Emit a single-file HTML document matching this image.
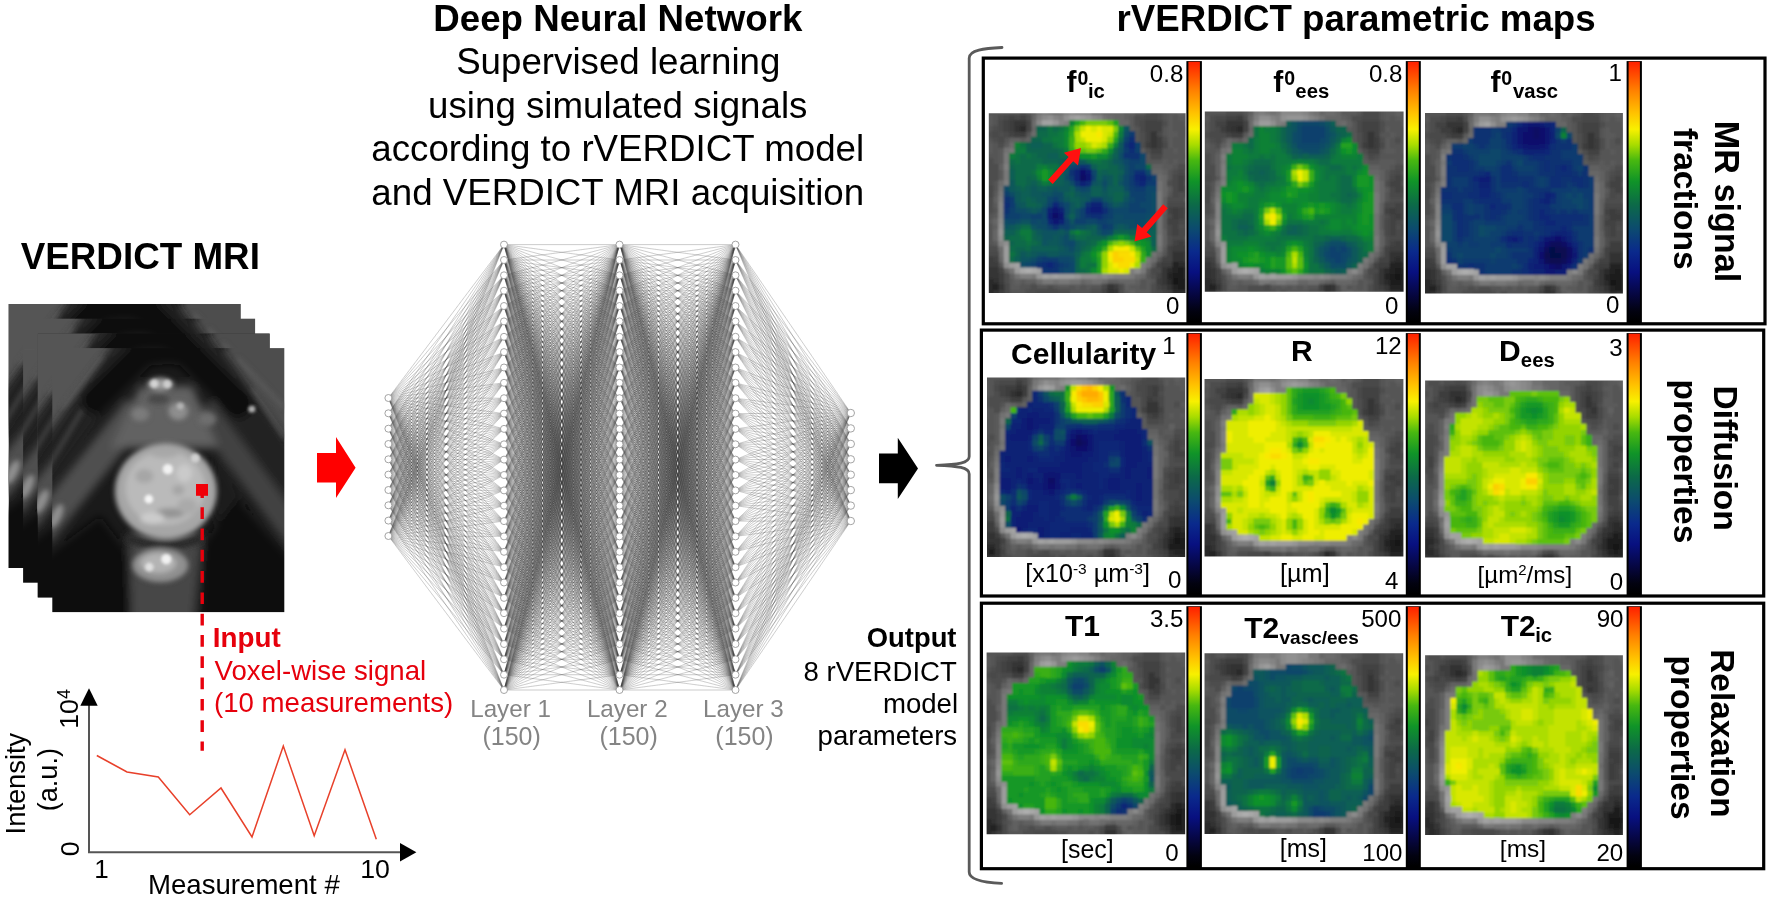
<!DOCTYPE html><html><head><meta charset="utf-8"><title>rVERDICT</title>
<style>html,body{margin:0;padding:0;background:#fff}svg{display:block}text{font-family:"Liberation Sans",sans-serif}</style></head><body>
<svg width="1770" height="900" viewBox="0 0 1770 900">
<defs>
<filter id="nb" x="-2%" y="-2%" width="104%" height="104%"><feGaussianBlur stdDeviation="0.55"/></filter>
<linearGradient id="cb" x1="0" y1="1" x2="0" y2="0"><stop offset="0" stop-color="#000"/><stop offset="0.04" stop-color="#020210"/><stop offset="0.10" stop-color="#06063e"/><stop offset="0.19" stop-color="#081080"/><stop offset="0.27" stop-color="#0a2a8c"/><stop offset="0.355" stop-color="#0c4a70"/><stop offset="0.45" stop-color="#0c6a48"/><stop offset="0.54" stop-color="#109428"/><stop offset="0.62" stop-color="#48b810"/><stop offset="0.68" stop-color="#a8dc00"/><stop offset="0.74" stop-color="#f8f000"/><stop offset="0.80" stop-color="#ffc400"/><stop offset="0.89" stop-color="#ff8000"/><stop offset="1" stop-color="#ff2000"/></linearGradient>
<filter id="mb" x="-5%" y="-5%" width="110%" height="110%"><feGaussianBlur stdDeviation="0.9"/></filter>
<clipPath id="mc0"><rect x="988.8" y="113.2" width="196.8" height="179.7"/></clipPath>
<clipPath id="mc1"><rect x="1204.8" y="111.6" width="198.8" height="180.2"/></clipPath>
<clipPath id="mc2"><rect x="1425" y="113" width="197.9" height="180.6"/></clipPath>
<clipPath id="mc3"><rect x="987" y="377.6" width="198.2" height="179.5"/></clipPath>
<clipPath id="mc4"><rect x="1204.5" y="379" width="198.9" height="177.6"/></clipPath>
<clipPath id="mc5"><rect x="1425.1" y="380.4" width="197.8" height="177.2"/></clipPath>
<clipPath id="mc6"><rect x="986.6" y="652.6" width="198.6" height="181.6"/></clipPath>
<clipPath id="mc7"><rect x="1204.5" y="653.3" width="198.7" height="180.7"/></clipPath>
<clipPath id="mc8"><rect x="1425.1" y="655.2" width="197.8" height="179.8"/></clipPath>
<filter id="b6" x="-20%" y="-20%" width="140%" height="140%"><feGaussianBlur stdDeviation="7"/></filter>
<filter id="b4" x="-20%" y="-20%" width="140%" height="140%"><feGaussianBlur stdDeviation="4.5"/></filter>
<filter id="b2" x="-30%" y="-30%" width="160%" height="160%"><feGaussianBlur stdDeviation="2.4"/></filter>
<filter id="b1" x="-30%" y="-30%" width="160%" height="160%"><feGaussianBlur stdDeviation="1.5"/></filter>
<clipPath id="mrc"><rect width="232" height="264"/></clipPath>
<g id="mri" clip-path="url(#mrc)"><rect width="232" height="264" fill="#1a1a1a"/>
<g filter="url(#b6)">
<polygon points="-30,-30 90,-30 -30,150" fill="#545454"/>
<polygon points="140,-30 270,-30 270,150" fill="#4e4e4e"/>
</g>
<g filter="url(#b4)">
<polygon points="55,-15 180,-15 160,20 116,16 72,20" fill="#0c0c0c"/>
<path d="M80 -2L-18 132" stroke="#242424" stroke-width="32" fill="none"/>
<path d="M146 -2L252 146" stroke="#222222" stroke-width="32" fill="none"/>
<path d="M92 4L44 52" stroke="#0a0a0a" stroke-width="28" stroke-linecap="round" fill="none"/>
<path d="M134 4L186 56" stroke="#0a0a0a" stroke-width="28" stroke-linecap="round" fill="none"/>
<path d="M86 60L-14 186" stroke="#505050" stroke-width="30" fill="none"/>
<path d="M150 60L250 196" stroke="#424242" stroke-width="26" fill="none"/><polygon points="165,100 190,150 170,195 158,150" fill="#1c1c1c"/>
<polygon points="-20,218 48,168 76,205 86,290 -20,290" fill="#0f0f0f"/>
<polygon points="260,235 185,150 152,195 146,290 260,290" fill="#0e0e0e"/>
<polygon points="88,38 140,38 166,100 58,100" fill="#626262"/>
<polygon points="76,185 150,185 140,290 80,290" fill="#474747"/>
</g>
<g filter="url(#b2)">
<ellipse cx="113.5" cy="143" rx="51" ry="48" fill="#a6a6a6"/>
<path d="M74 190Q113 204 150 190" stroke="#2a2a2a" stroke-width="9" fill="none"/>
<ellipse cx="108" cy="217" rx="28" ry="17" fill="#909090"/>
<ellipse cx="113" cy="140" rx="40" ry="37" fill="#bababa"/>
<ellipse cx="118" cy="165" rx="15" ry="5" fill="#949494"/>
<ellipse cx="92" cy="128" rx="9" ry="7" fill="#a6a6a6"/>
<ellipse cx="135" cy="158" rx="10" ry="8" fill="#aaaaaa"/>
<ellipse cx="100" cy="170" rx="12" ry="6" fill="#cccccc"/>
<ellipse cx="132" cy="125" rx="8" ry="9" fill="#cacaca"/>
<ellipse cx="112" cy="105" rx="14" ry="5" fill="#a8a8a8"/>
<ellipse cx="126" cy="142" rx="6" ry="5" fill="#a4a4a4"/>
<ellipse cx="108" cy="36" rx="13" ry="6.5" fill="#a0a0a0"/>
<ellipse cx="126" cy="63" rx="10" ry="9" fill="#8e8e8e"/>
<ellipse cx="88" cy="66" rx="9" ry="7" fill="#7c7c7c"/>
<ellipse cx="155" cy="71" rx="9" ry="7" fill="#6e6e6e"/>
<ellipse cx="106" cy="51" rx="11" ry="5" fill="#484848"/>
<ellipse cx="4" cy="168" rx="5" ry="13" fill="#909090" transform="rotate(25 4 168)"/>
<ellipse cx="106" cy="215" rx="18" ry="10" fill="#b4b4b4"/>
<path d="M10 60L50 8M-5 120L30 62M200 40L232 90M185 10L232 60" stroke="#6a6a6a" stroke-width="4" stroke-opacity=".5" fill="none"/>
</g>
<g filter="url(#b1)">
<circle cx="115.5" cy="121" r="5.2" fill="#f2f2f2"/>
<circle cx="96.5" cy="151" r="4.4" fill="#f6f6f6"/>
<circle cx="114" cy="211" r="5.2" fill="#f2f2f2"/>
<circle cx="97" cy="219" r="4.4" fill="#e0e0e0"/>
<circle cx="102" cy="35.5" r="4.2" fill="#d4d4d4"/>
<circle cx="115" cy="36" r="4.2" fill="#cecece"/>
<circle cx="199.5" cy="61" r="3.6" fill="#b0b0b0"/>
<circle cx="128" cy="58" r="3.6" fill="#b4b4b4"/>
<circle cx="143" cy="110" r="4.5" fill="#d2d2d2"/>
</g>
</g>
</defs>
<rect width="1770" height="900" fill="#fff"/>
<use href="#mri" x="8.6" y="304.0"/>
<use href="#mri" x="23.1" y="318.7"/>
<use href="#mri" x="37.7" y="333.4"/>
<use href="#mri" x="52.3" y="348.1"/>
<rect x="196" y="484" width="12" height="11.8" fill="#f00008"/>
<path d="M202.2 495V498" stroke="#e8000c" stroke-width="3.4"/>
<path d="M202.2 507.2V750.7" stroke="#e8000c" stroke-width="3.4" stroke-dasharray="11.7 9.6" fill="none"/>
<path d="M89 700V852.3H402" fill="none" stroke="#555" stroke-width="2"/>
<path d="M89 688.3l8.7 17.4h-17.4z" fill="#000"/>
<path d="M416.4 852.3l-16.4 9.2v-18.4z" fill="#000"/>
<polyline fill="none" stroke="#e8402a" stroke-width="1.5" stroke-linejoin="miter" points="96.8,755.5 127,772 158.3,777 189.7,814.7 221,788 252,837 283.3,746 314.2,835.8 345,749.7 376.3,839.3"/>
<g fill="none" stroke="#3c3c3c" stroke-width="0.5" stroke-opacity="0.5" filter="url(#nb)">
<path d="M388.4 398.0L504.0 244.6M388.4 398.0L504.0 260.0M388.4 398.0L504.0 275.3M388.4 398.0L504.0 290.7M388.4 398.0L504.0 306.0M388.4 398.0L504.0 321.4M388.4 398.0L504.0 336.8M388.4 398.0L504.0 352.1M388.4 398.0L504.0 367.5M388.4 398.0L504.0 382.8M388.4 398.0L504.0 398.2M388.4 398.0L504.0 413.6M388.4 398.0L504.0 428.9M388.4 398.0L504.0 444.3M388.4 398.0L504.0 459.6M388.4 398.0L504.0 475.0M388.4 398.0L504.0 490.4M388.4 398.0L504.0 505.7M388.4 398.0L504.0 521.1M388.4 398.0L504.0 536.4M388.4 398.0L504.0 551.8M388.4 398.0L504.0 567.2M388.4 398.0L504.0 582.5M388.4 398.0L504.0 597.9M388.4 398.0L504.0 613.2M388.4 398.0L504.0 628.6M388.4 398.0L504.0 644.0M388.4 398.0L504.0 659.3M388.4 398.0L504.0 674.7M388.4 398.0L504.0 690.0"/>
<path d="M388.4 413.3L504.0 244.6M388.4 413.3L504.0 260.0M388.4 413.3L504.0 275.3M388.4 413.3L504.0 290.7M388.4 413.3L504.0 306.0M388.4 413.3L504.0 321.4M388.4 413.3L504.0 336.8M388.4 413.3L504.0 352.1M388.4 413.3L504.0 367.5M388.4 413.3L504.0 382.8M388.4 413.3L504.0 398.2M388.4 413.3L504.0 413.6M388.4 413.3L504.0 428.9M388.4 413.3L504.0 444.3M388.4 413.3L504.0 459.6M388.4 413.3L504.0 475.0M388.4 413.3L504.0 490.4M388.4 413.3L504.0 505.7M388.4 413.3L504.0 521.1M388.4 413.3L504.0 536.4M388.4 413.3L504.0 551.8M388.4 413.3L504.0 567.2M388.4 413.3L504.0 582.5M388.4 413.3L504.0 597.9M388.4 413.3L504.0 613.2M388.4 413.3L504.0 628.6M388.4 413.3L504.0 644.0M388.4 413.3L504.0 659.3M388.4 413.3L504.0 674.7M388.4 413.3L504.0 690.0"/>
<path d="M388.4 428.7L504.0 244.6M388.4 428.7L504.0 260.0M388.4 428.7L504.0 275.3M388.4 428.7L504.0 290.7M388.4 428.7L504.0 306.0M388.4 428.7L504.0 321.4M388.4 428.7L504.0 336.8M388.4 428.7L504.0 352.1M388.4 428.7L504.0 367.5M388.4 428.7L504.0 382.8M388.4 428.7L504.0 398.2M388.4 428.7L504.0 413.6M388.4 428.7L504.0 428.9M388.4 428.7L504.0 444.3M388.4 428.7L504.0 459.6M388.4 428.7L504.0 475.0M388.4 428.7L504.0 490.4M388.4 428.7L504.0 505.7M388.4 428.7L504.0 521.1M388.4 428.7L504.0 536.4M388.4 428.7L504.0 551.8M388.4 428.7L504.0 567.2M388.4 428.7L504.0 582.5M388.4 428.7L504.0 597.9M388.4 428.7L504.0 613.2M388.4 428.7L504.0 628.6M388.4 428.7L504.0 644.0M388.4 428.7L504.0 659.3M388.4 428.7L504.0 674.7M388.4 428.7L504.0 690.0"/>
<path d="M388.4 444.0L504.0 244.6M388.4 444.0L504.0 260.0M388.4 444.0L504.0 275.3M388.4 444.0L504.0 290.7M388.4 444.0L504.0 306.0M388.4 444.0L504.0 321.4M388.4 444.0L504.0 336.8M388.4 444.0L504.0 352.1M388.4 444.0L504.0 367.5M388.4 444.0L504.0 382.8M388.4 444.0L504.0 398.2M388.4 444.0L504.0 413.6M388.4 444.0L504.0 428.9M388.4 444.0L504.0 444.3M388.4 444.0L504.0 459.6M388.4 444.0L504.0 475.0M388.4 444.0L504.0 490.4M388.4 444.0L504.0 505.7M388.4 444.0L504.0 521.1M388.4 444.0L504.0 536.4M388.4 444.0L504.0 551.8M388.4 444.0L504.0 567.2M388.4 444.0L504.0 582.5M388.4 444.0L504.0 597.9M388.4 444.0L504.0 613.2M388.4 444.0L504.0 628.6M388.4 444.0L504.0 644.0M388.4 444.0L504.0 659.3M388.4 444.0L504.0 674.7M388.4 444.0L504.0 690.0"/>
<path d="M388.4 459.3L504.0 244.6M388.4 459.3L504.0 260.0M388.4 459.3L504.0 275.3M388.4 459.3L504.0 290.7M388.4 459.3L504.0 306.0M388.4 459.3L504.0 321.4M388.4 459.3L504.0 336.8M388.4 459.3L504.0 352.1M388.4 459.3L504.0 367.5M388.4 459.3L504.0 382.8M388.4 459.3L504.0 398.2M388.4 459.3L504.0 413.6M388.4 459.3L504.0 428.9M388.4 459.3L504.0 444.3M388.4 459.3L504.0 459.6M388.4 459.3L504.0 475.0M388.4 459.3L504.0 490.4M388.4 459.3L504.0 505.7M388.4 459.3L504.0 521.1M388.4 459.3L504.0 536.4M388.4 459.3L504.0 551.8M388.4 459.3L504.0 567.2M388.4 459.3L504.0 582.5M388.4 459.3L504.0 597.9M388.4 459.3L504.0 613.2M388.4 459.3L504.0 628.6M388.4 459.3L504.0 644.0M388.4 459.3L504.0 659.3M388.4 459.3L504.0 674.7M388.4 459.3L504.0 690.0"/>
<path d="M388.4 474.6L504.0 244.6M388.4 474.6L504.0 260.0M388.4 474.6L504.0 275.3M388.4 474.6L504.0 290.7M388.4 474.6L504.0 306.0M388.4 474.6L504.0 321.4M388.4 474.6L504.0 336.8M388.4 474.6L504.0 352.1M388.4 474.6L504.0 367.5M388.4 474.6L504.0 382.8M388.4 474.6L504.0 398.2M388.4 474.6L504.0 413.6M388.4 474.6L504.0 428.9M388.4 474.6L504.0 444.3M388.4 474.6L504.0 459.6M388.4 474.6L504.0 475.0M388.4 474.6L504.0 490.4M388.4 474.6L504.0 505.7M388.4 474.6L504.0 521.1M388.4 474.6L504.0 536.4M388.4 474.6L504.0 551.8M388.4 474.6L504.0 567.2M388.4 474.6L504.0 582.5M388.4 474.6L504.0 597.9M388.4 474.6L504.0 613.2M388.4 474.6L504.0 628.6M388.4 474.6L504.0 644.0M388.4 474.6L504.0 659.3M388.4 474.6L504.0 674.7M388.4 474.6L504.0 690.0"/>
<path d="M388.4 490.0L504.0 244.6M388.4 490.0L504.0 260.0M388.4 490.0L504.0 275.3M388.4 490.0L504.0 290.7M388.4 490.0L504.0 306.0M388.4 490.0L504.0 321.4M388.4 490.0L504.0 336.8M388.4 490.0L504.0 352.1M388.4 490.0L504.0 367.5M388.4 490.0L504.0 382.8M388.4 490.0L504.0 398.2M388.4 490.0L504.0 413.6M388.4 490.0L504.0 428.9M388.4 490.0L504.0 444.3M388.4 490.0L504.0 459.6M388.4 490.0L504.0 475.0M388.4 490.0L504.0 490.4M388.4 490.0L504.0 505.7M388.4 490.0L504.0 521.1M388.4 490.0L504.0 536.4M388.4 490.0L504.0 551.8M388.4 490.0L504.0 567.2M388.4 490.0L504.0 582.5M388.4 490.0L504.0 597.9M388.4 490.0L504.0 613.2M388.4 490.0L504.0 628.6M388.4 490.0L504.0 644.0M388.4 490.0L504.0 659.3M388.4 490.0L504.0 674.7M388.4 490.0L504.0 690.0"/>
<path d="M388.4 505.3L504.0 244.6M388.4 505.3L504.0 260.0M388.4 505.3L504.0 275.3M388.4 505.3L504.0 290.7M388.4 505.3L504.0 306.0M388.4 505.3L504.0 321.4M388.4 505.3L504.0 336.8M388.4 505.3L504.0 352.1M388.4 505.3L504.0 367.5M388.4 505.3L504.0 382.8M388.4 505.3L504.0 398.2M388.4 505.3L504.0 413.6M388.4 505.3L504.0 428.9M388.4 505.3L504.0 444.3M388.4 505.3L504.0 459.6M388.4 505.3L504.0 475.0M388.4 505.3L504.0 490.4M388.4 505.3L504.0 505.7M388.4 505.3L504.0 521.1M388.4 505.3L504.0 536.4M388.4 505.3L504.0 551.8M388.4 505.3L504.0 567.2M388.4 505.3L504.0 582.5M388.4 505.3L504.0 597.9M388.4 505.3L504.0 613.2M388.4 505.3L504.0 628.6M388.4 505.3L504.0 644.0M388.4 505.3L504.0 659.3M388.4 505.3L504.0 674.7M388.4 505.3L504.0 690.0"/>
<path d="M388.4 520.6L504.0 244.6M388.4 520.6L504.0 260.0M388.4 520.6L504.0 275.3M388.4 520.6L504.0 290.7M388.4 520.6L504.0 306.0M388.4 520.6L504.0 321.4M388.4 520.6L504.0 336.8M388.4 520.6L504.0 352.1M388.4 520.6L504.0 367.5M388.4 520.6L504.0 382.8M388.4 520.6L504.0 398.2M388.4 520.6L504.0 413.6M388.4 520.6L504.0 428.9M388.4 520.6L504.0 444.3M388.4 520.6L504.0 459.6M388.4 520.6L504.0 475.0M388.4 520.6L504.0 490.4M388.4 520.6L504.0 505.7M388.4 520.6L504.0 521.1M388.4 520.6L504.0 536.4M388.4 520.6L504.0 551.8M388.4 520.6L504.0 567.2M388.4 520.6L504.0 582.5M388.4 520.6L504.0 597.9M388.4 520.6L504.0 613.2M388.4 520.6L504.0 628.6M388.4 520.6L504.0 644.0M388.4 520.6L504.0 659.3M388.4 520.6L504.0 674.7M388.4 520.6L504.0 690.0"/>
<path d="M388.4 536.0L504.0 244.6M388.4 536.0L504.0 260.0M388.4 536.0L504.0 275.3M388.4 536.0L504.0 290.7M388.4 536.0L504.0 306.0M388.4 536.0L504.0 321.4M388.4 536.0L504.0 336.8M388.4 536.0L504.0 352.1M388.4 536.0L504.0 367.5M388.4 536.0L504.0 382.8M388.4 536.0L504.0 398.2M388.4 536.0L504.0 413.6M388.4 536.0L504.0 428.9M388.4 536.0L504.0 444.3M388.4 536.0L504.0 459.6M388.4 536.0L504.0 475.0M388.4 536.0L504.0 490.4M388.4 536.0L504.0 505.7M388.4 536.0L504.0 521.1M388.4 536.0L504.0 536.4M388.4 536.0L504.0 551.8M388.4 536.0L504.0 567.2M388.4 536.0L504.0 582.5M388.4 536.0L504.0 597.9M388.4 536.0L504.0 613.2M388.4 536.0L504.0 628.6M388.4 536.0L504.0 644.0M388.4 536.0L504.0 659.3M388.4 536.0L504.0 674.7M388.4 536.0L504.0 690.0"/>
<g id="hl">
<path d="M504.0 244.6L619.5 244.6M504.0 244.6L619.5 260.0M504.0 244.6L619.5 275.3M504.0 244.6L619.5 290.7M504.0 244.6L619.5 306.0M504.0 244.6L619.5 321.4M504.0 244.6L619.5 336.8M504.0 244.6L619.5 352.1M504.0 244.6L619.5 367.5M504.0 244.6L619.5 382.8M504.0 244.6L619.5 398.2M504.0 244.6L619.5 413.6M504.0 244.6L619.5 428.9M504.0 244.6L619.5 444.3M504.0 244.6L619.5 459.6M504.0 244.6L619.5 475.0M504.0 244.6L619.5 490.4M504.0 244.6L619.5 505.7M504.0 244.6L619.5 521.1M504.0 244.6L619.5 536.4M504.0 244.6L619.5 551.8M504.0 244.6L619.5 567.2M504.0 244.6L619.5 582.5M504.0 244.6L619.5 597.9M504.0 244.6L619.5 613.2M504.0 244.6L619.5 628.6M504.0 244.6L619.5 644.0M504.0 244.6L619.5 659.3M504.0 244.6L619.5 674.7M504.0 244.6L619.5 690.0"/>
<path d="M504.0 260.0L619.5 244.6M504.0 260.0L619.5 260.0M504.0 260.0L619.5 275.3M504.0 260.0L619.5 290.7M504.0 260.0L619.5 306.0M504.0 260.0L619.5 321.4M504.0 260.0L619.5 336.8M504.0 260.0L619.5 352.1M504.0 260.0L619.5 367.5M504.0 260.0L619.5 382.8M504.0 260.0L619.5 398.2M504.0 260.0L619.5 413.6M504.0 260.0L619.5 428.9M504.0 260.0L619.5 444.3M504.0 260.0L619.5 459.6M504.0 260.0L619.5 475.0M504.0 260.0L619.5 490.4M504.0 260.0L619.5 505.7M504.0 260.0L619.5 521.1M504.0 260.0L619.5 536.4M504.0 260.0L619.5 551.8M504.0 260.0L619.5 567.2M504.0 260.0L619.5 582.5M504.0 260.0L619.5 597.9M504.0 260.0L619.5 613.2M504.0 260.0L619.5 628.6M504.0 260.0L619.5 644.0M504.0 260.0L619.5 659.3M504.0 260.0L619.5 674.7M504.0 260.0L619.5 690.0"/>
<path d="M504.0 275.3L619.5 244.6M504.0 275.3L619.5 260.0M504.0 275.3L619.5 275.3M504.0 275.3L619.5 290.7M504.0 275.3L619.5 306.0M504.0 275.3L619.5 321.4M504.0 275.3L619.5 336.8M504.0 275.3L619.5 352.1M504.0 275.3L619.5 367.5M504.0 275.3L619.5 382.8M504.0 275.3L619.5 398.2M504.0 275.3L619.5 413.6M504.0 275.3L619.5 428.9M504.0 275.3L619.5 444.3M504.0 275.3L619.5 459.6M504.0 275.3L619.5 475.0M504.0 275.3L619.5 490.4M504.0 275.3L619.5 505.7M504.0 275.3L619.5 521.1M504.0 275.3L619.5 536.4M504.0 275.3L619.5 551.8M504.0 275.3L619.5 567.2M504.0 275.3L619.5 582.5M504.0 275.3L619.5 597.9M504.0 275.3L619.5 613.2M504.0 275.3L619.5 628.6M504.0 275.3L619.5 644.0M504.0 275.3L619.5 659.3M504.0 275.3L619.5 674.7M504.0 275.3L619.5 690.0"/>
<path d="M504.0 290.7L619.5 244.6M504.0 290.7L619.5 260.0M504.0 290.7L619.5 275.3M504.0 290.7L619.5 290.7M504.0 290.7L619.5 306.0M504.0 290.7L619.5 321.4M504.0 290.7L619.5 336.8M504.0 290.7L619.5 352.1M504.0 290.7L619.5 367.5M504.0 290.7L619.5 382.8M504.0 290.7L619.5 398.2M504.0 290.7L619.5 413.6M504.0 290.7L619.5 428.9M504.0 290.7L619.5 444.3M504.0 290.7L619.5 459.6M504.0 290.7L619.5 475.0M504.0 290.7L619.5 490.4M504.0 290.7L619.5 505.7M504.0 290.7L619.5 521.1M504.0 290.7L619.5 536.4M504.0 290.7L619.5 551.8M504.0 290.7L619.5 567.2M504.0 290.7L619.5 582.5M504.0 290.7L619.5 597.9M504.0 290.7L619.5 613.2M504.0 290.7L619.5 628.6M504.0 290.7L619.5 644.0M504.0 290.7L619.5 659.3M504.0 290.7L619.5 674.7M504.0 290.7L619.5 690.0"/>
<path d="M504.0 306.0L619.5 244.6M504.0 306.0L619.5 260.0M504.0 306.0L619.5 275.3M504.0 306.0L619.5 290.7M504.0 306.0L619.5 306.0M504.0 306.0L619.5 321.4M504.0 306.0L619.5 336.8M504.0 306.0L619.5 352.1M504.0 306.0L619.5 367.5M504.0 306.0L619.5 382.8M504.0 306.0L619.5 398.2M504.0 306.0L619.5 413.6M504.0 306.0L619.5 428.9M504.0 306.0L619.5 444.3M504.0 306.0L619.5 459.6M504.0 306.0L619.5 475.0M504.0 306.0L619.5 490.4M504.0 306.0L619.5 505.7M504.0 306.0L619.5 521.1M504.0 306.0L619.5 536.4M504.0 306.0L619.5 551.8M504.0 306.0L619.5 567.2M504.0 306.0L619.5 582.5M504.0 306.0L619.5 597.9M504.0 306.0L619.5 613.2M504.0 306.0L619.5 628.6M504.0 306.0L619.5 644.0M504.0 306.0L619.5 659.3M504.0 306.0L619.5 674.7M504.0 306.0L619.5 690.0"/>
<path d="M504.0 321.4L619.5 244.6M504.0 321.4L619.5 260.0M504.0 321.4L619.5 275.3M504.0 321.4L619.5 290.7M504.0 321.4L619.5 306.0M504.0 321.4L619.5 321.4M504.0 321.4L619.5 336.8M504.0 321.4L619.5 352.1M504.0 321.4L619.5 367.5M504.0 321.4L619.5 382.8M504.0 321.4L619.5 398.2M504.0 321.4L619.5 413.6M504.0 321.4L619.5 428.9M504.0 321.4L619.5 444.3M504.0 321.4L619.5 459.6M504.0 321.4L619.5 475.0M504.0 321.4L619.5 490.4M504.0 321.4L619.5 505.7M504.0 321.4L619.5 521.1M504.0 321.4L619.5 536.4M504.0 321.4L619.5 551.8M504.0 321.4L619.5 567.2M504.0 321.4L619.5 582.5M504.0 321.4L619.5 597.9M504.0 321.4L619.5 613.2M504.0 321.4L619.5 628.6M504.0 321.4L619.5 644.0M504.0 321.4L619.5 659.3M504.0 321.4L619.5 674.7M504.0 321.4L619.5 690.0"/>
<path d="M504.0 336.8L619.5 244.6M504.0 336.8L619.5 260.0M504.0 336.8L619.5 275.3M504.0 336.8L619.5 290.7M504.0 336.8L619.5 306.0M504.0 336.8L619.5 321.4M504.0 336.8L619.5 336.8M504.0 336.8L619.5 352.1M504.0 336.8L619.5 367.5M504.0 336.8L619.5 382.8M504.0 336.8L619.5 398.2M504.0 336.8L619.5 413.6M504.0 336.8L619.5 428.9M504.0 336.8L619.5 444.3M504.0 336.8L619.5 459.6M504.0 336.8L619.5 475.0M504.0 336.8L619.5 490.4M504.0 336.8L619.5 505.7M504.0 336.8L619.5 521.1M504.0 336.8L619.5 536.4M504.0 336.8L619.5 551.8M504.0 336.8L619.5 567.2M504.0 336.8L619.5 582.5M504.0 336.8L619.5 597.9M504.0 336.8L619.5 613.2M504.0 336.8L619.5 628.6M504.0 336.8L619.5 644.0M504.0 336.8L619.5 659.3M504.0 336.8L619.5 674.7M504.0 336.8L619.5 690.0"/>
<path d="M504.0 352.1L619.5 244.6M504.0 352.1L619.5 260.0M504.0 352.1L619.5 275.3M504.0 352.1L619.5 290.7M504.0 352.1L619.5 306.0M504.0 352.1L619.5 321.4M504.0 352.1L619.5 336.8M504.0 352.1L619.5 352.1M504.0 352.1L619.5 367.5M504.0 352.1L619.5 382.8M504.0 352.1L619.5 398.2M504.0 352.1L619.5 413.6M504.0 352.1L619.5 428.9M504.0 352.1L619.5 444.3M504.0 352.1L619.5 459.6M504.0 352.1L619.5 475.0M504.0 352.1L619.5 490.4M504.0 352.1L619.5 505.7M504.0 352.1L619.5 521.1M504.0 352.1L619.5 536.4M504.0 352.1L619.5 551.8M504.0 352.1L619.5 567.2M504.0 352.1L619.5 582.5M504.0 352.1L619.5 597.9M504.0 352.1L619.5 613.2M504.0 352.1L619.5 628.6M504.0 352.1L619.5 644.0M504.0 352.1L619.5 659.3M504.0 352.1L619.5 674.7M504.0 352.1L619.5 690.0"/>
<path d="M504.0 367.5L619.5 244.6M504.0 367.5L619.5 260.0M504.0 367.5L619.5 275.3M504.0 367.5L619.5 290.7M504.0 367.5L619.5 306.0M504.0 367.5L619.5 321.4M504.0 367.5L619.5 336.8M504.0 367.5L619.5 352.1M504.0 367.5L619.5 367.5M504.0 367.5L619.5 382.8M504.0 367.5L619.5 398.2M504.0 367.5L619.5 413.6M504.0 367.5L619.5 428.9M504.0 367.5L619.5 444.3M504.0 367.5L619.5 459.6M504.0 367.5L619.5 475.0M504.0 367.5L619.5 490.4M504.0 367.5L619.5 505.7M504.0 367.5L619.5 521.1M504.0 367.5L619.5 536.4M504.0 367.5L619.5 551.8M504.0 367.5L619.5 567.2M504.0 367.5L619.5 582.5M504.0 367.5L619.5 597.9M504.0 367.5L619.5 613.2M504.0 367.5L619.5 628.6M504.0 367.5L619.5 644.0M504.0 367.5L619.5 659.3M504.0 367.5L619.5 674.7M504.0 367.5L619.5 690.0"/>
<path d="M504.0 382.8L619.5 244.6M504.0 382.8L619.5 260.0M504.0 382.8L619.5 275.3M504.0 382.8L619.5 290.7M504.0 382.8L619.5 306.0M504.0 382.8L619.5 321.4M504.0 382.8L619.5 336.8M504.0 382.8L619.5 352.1M504.0 382.8L619.5 367.5M504.0 382.8L619.5 382.8M504.0 382.8L619.5 398.2M504.0 382.8L619.5 413.6M504.0 382.8L619.5 428.9M504.0 382.8L619.5 444.3M504.0 382.8L619.5 459.6M504.0 382.8L619.5 475.0M504.0 382.8L619.5 490.4M504.0 382.8L619.5 505.7M504.0 382.8L619.5 521.1M504.0 382.8L619.5 536.4M504.0 382.8L619.5 551.8M504.0 382.8L619.5 567.2M504.0 382.8L619.5 582.5M504.0 382.8L619.5 597.9M504.0 382.8L619.5 613.2M504.0 382.8L619.5 628.6M504.0 382.8L619.5 644.0M504.0 382.8L619.5 659.3M504.0 382.8L619.5 674.7M504.0 382.8L619.5 690.0"/>
<path d="M504.0 398.2L619.5 244.6M504.0 398.2L619.5 260.0M504.0 398.2L619.5 275.3M504.0 398.2L619.5 290.7M504.0 398.2L619.5 306.0M504.0 398.2L619.5 321.4M504.0 398.2L619.5 336.8M504.0 398.2L619.5 352.1M504.0 398.2L619.5 367.5M504.0 398.2L619.5 382.8M504.0 398.2L619.5 398.2M504.0 398.2L619.5 413.6M504.0 398.2L619.5 428.9M504.0 398.2L619.5 444.3M504.0 398.2L619.5 459.6M504.0 398.2L619.5 475.0M504.0 398.2L619.5 490.4M504.0 398.2L619.5 505.7M504.0 398.2L619.5 521.1M504.0 398.2L619.5 536.4M504.0 398.2L619.5 551.8M504.0 398.2L619.5 567.2M504.0 398.2L619.5 582.5M504.0 398.2L619.5 597.9M504.0 398.2L619.5 613.2M504.0 398.2L619.5 628.6M504.0 398.2L619.5 644.0M504.0 398.2L619.5 659.3M504.0 398.2L619.5 674.7M504.0 398.2L619.5 690.0"/>
<path d="M504.0 413.6L619.5 244.6M504.0 413.6L619.5 260.0M504.0 413.6L619.5 275.3M504.0 413.6L619.5 290.7M504.0 413.6L619.5 306.0M504.0 413.6L619.5 321.4M504.0 413.6L619.5 336.8M504.0 413.6L619.5 352.1M504.0 413.6L619.5 367.5M504.0 413.6L619.5 382.8M504.0 413.6L619.5 398.2M504.0 413.6L619.5 413.6M504.0 413.6L619.5 428.9M504.0 413.6L619.5 444.3M504.0 413.6L619.5 459.6M504.0 413.6L619.5 475.0M504.0 413.6L619.5 490.4M504.0 413.6L619.5 505.7M504.0 413.6L619.5 521.1M504.0 413.6L619.5 536.4M504.0 413.6L619.5 551.8M504.0 413.6L619.5 567.2M504.0 413.6L619.5 582.5M504.0 413.6L619.5 597.9M504.0 413.6L619.5 613.2M504.0 413.6L619.5 628.6M504.0 413.6L619.5 644.0M504.0 413.6L619.5 659.3M504.0 413.6L619.5 674.7M504.0 413.6L619.5 690.0"/>
<path d="M504.0 428.9L619.5 244.6M504.0 428.9L619.5 260.0M504.0 428.9L619.5 275.3M504.0 428.9L619.5 290.7M504.0 428.9L619.5 306.0M504.0 428.9L619.5 321.4M504.0 428.9L619.5 336.8M504.0 428.9L619.5 352.1M504.0 428.9L619.5 367.5M504.0 428.9L619.5 382.8M504.0 428.9L619.5 398.2M504.0 428.9L619.5 413.6M504.0 428.9L619.5 428.9M504.0 428.9L619.5 444.3M504.0 428.9L619.5 459.6M504.0 428.9L619.5 475.0M504.0 428.9L619.5 490.4M504.0 428.9L619.5 505.7M504.0 428.9L619.5 521.1M504.0 428.9L619.5 536.4M504.0 428.9L619.5 551.8M504.0 428.9L619.5 567.2M504.0 428.9L619.5 582.5M504.0 428.9L619.5 597.9M504.0 428.9L619.5 613.2M504.0 428.9L619.5 628.6M504.0 428.9L619.5 644.0M504.0 428.9L619.5 659.3M504.0 428.9L619.5 674.7M504.0 428.9L619.5 690.0"/>
<path d="M504.0 444.3L619.5 244.6M504.0 444.3L619.5 260.0M504.0 444.3L619.5 275.3M504.0 444.3L619.5 290.7M504.0 444.3L619.5 306.0M504.0 444.3L619.5 321.4M504.0 444.3L619.5 336.8M504.0 444.3L619.5 352.1M504.0 444.3L619.5 367.5M504.0 444.3L619.5 382.8M504.0 444.3L619.5 398.2M504.0 444.3L619.5 413.6M504.0 444.3L619.5 428.9M504.0 444.3L619.5 444.3M504.0 444.3L619.5 459.6M504.0 444.3L619.5 475.0M504.0 444.3L619.5 490.4M504.0 444.3L619.5 505.7M504.0 444.3L619.5 521.1M504.0 444.3L619.5 536.4M504.0 444.3L619.5 551.8M504.0 444.3L619.5 567.2M504.0 444.3L619.5 582.5M504.0 444.3L619.5 597.9M504.0 444.3L619.5 613.2M504.0 444.3L619.5 628.6M504.0 444.3L619.5 644.0M504.0 444.3L619.5 659.3M504.0 444.3L619.5 674.7M504.0 444.3L619.5 690.0"/>
<path d="M504.0 459.6L619.5 244.6M504.0 459.6L619.5 260.0M504.0 459.6L619.5 275.3M504.0 459.6L619.5 290.7M504.0 459.6L619.5 306.0M504.0 459.6L619.5 321.4M504.0 459.6L619.5 336.8M504.0 459.6L619.5 352.1M504.0 459.6L619.5 367.5M504.0 459.6L619.5 382.8M504.0 459.6L619.5 398.2M504.0 459.6L619.5 413.6M504.0 459.6L619.5 428.9M504.0 459.6L619.5 444.3M504.0 459.6L619.5 459.6M504.0 459.6L619.5 475.0M504.0 459.6L619.5 490.4M504.0 459.6L619.5 505.7M504.0 459.6L619.5 521.1M504.0 459.6L619.5 536.4M504.0 459.6L619.5 551.8M504.0 459.6L619.5 567.2M504.0 459.6L619.5 582.5M504.0 459.6L619.5 597.9M504.0 459.6L619.5 613.2M504.0 459.6L619.5 628.6M504.0 459.6L619.5 644.0M504.0 459.6L619.5 659.3M504.0 459.6L619.5 674.7M504.0 459.6L619.5 690.0"/>
<path d="M504.0 475.0L619.5 244.6M504.0 475.0L619.5 260.0M504.0 475.0L619.5 275.3M504.0 475.0L619.5 290.7M504.0 475.0L619.5 306.0M504.0 475.0L619.5 321.4M504.0 475.0L619.5 336.8M504.0 475.0L619.5 352.1M504.0 475.0L619.5 367.5M504.0 475.0L619.5 382.8M504.0 475.0L619.5 398.2M504.0 475.0L619.5 413.6M504.0 475.0L619.5 428.9M504.0 475.0L619.5 444.3M504.0 475.0L619.5 459.6M504.0 475.0L619.5 475.0M504.0 475.0L619.5 490.4M504.0 475.0L619.5 505.7M504.0 475.0L619.5 521.1M504.0 475.0L619.5 536.4M504.0 475.0L619.5 551.8M504.0 475.0L619.5 567.2M504.0 475.0L619.5 582.5M504.0 475.0L619.5 597.9M504.0 475.0L619.5 613.2M504.0 475.0L619.5 628.6M504.0 475.0L619.5 644.0M504.0 475.0L619.5 659.3M504.0 475.0L619.5 674.7M504.0 475.0L619.5 690.0"/>
<path d="M504.0 490.4L619.5 244.6M504.0 490.4L619.5 260.0M504.0 490.4L619.5 275.3M504.0 490.4L619.5 290.7M504.0 490.4L619.5 306.0M504.0 490.4L619.5 321.4M504.0 490.4L619.5 336.8M504.0 490.4L619.5 352.1M504.0 490.4L619.5 367.5M504.0 490.4L619.5 382.8M504.0 490.4L619.5 398.2M504.0 490.4L619.5 413.6M504.0 490.4L619.5 428.9M504.0 490.4L619.5 444.3M504.0 490.4L619.5 459.6M504.0 490.4L619.5 475.0M504.0 490.4L619.5 490.4M504.0 490.4L619.5 505.7M504.0 490.4L619.5 521.1M504.0 490.4L619.5 536.4M504.0 490.4L619.5 551.8M504.0 490.4L619.5 567.2M504.0 490.4L619.5 582.5M504.0 490.4L619.5 597.9M504.0 490.4L619.5 613.2M504.0 490.4L619.5 628.6M504.0 490.4L619.5 644.0M504.0 490.4L619.5 659.3M504.0 490.4L619.5 674.7M504.0 490.4L619.5 690.0"/>
<path d="M504.0 505.7L619.5 244.6M504.0 505.7L619.5 260.0M504.0 505.7L619.5 275.3M504.0 505.7L619.5 290.7M504.0 505.7L619.5 306.0M504.0 505.7L619.5 321.4M504.0 505.7L619.5 336.8M504.0 505.7L619.5 352.1M504.0 505.7L619.5 367.5M504.0 505.7L619.5 382.8M504.0 505.7L619.5 398.2M504.0 505.7L619.5 413.6M504.0 505.7L619.5 428.9M504.0 505.7L619.5 444.3M504.0 505.7L619.5 459.6M504.0 505.7L619.5 475.0M504.0 505.7L619.5 490.4M504.0 505.7L619.5 505.7M504.0 505.7L619.5 521.1M504.0 505.7L619.5 536.4M504.0 505.7L619.5 551.8M504.0 505.7L619.5 567.2M504.0 505.7L619.5 582.5M504.0 505.7L619.5 597.9M504.0 505.7L619.5 613.2M504.0 505.7L619.5 628.6M504.0 505.7L619.5 644.0M504.0 505.7L619.5 659.3M504.0 505.7L619.5 674.7M504.0 505.7L619.5 690.0"/>
<path d="M504.0 521.1L619.5 244.6M504.0 521.1L619.5 260.0M504.0 521.1L619.5 275.3M504.0 521.1L619.5 290.7M504.0 521.1L619.5 306.0M504.0 521.1L619.5 321.4M504.0 521.1L619.5 336.8M504.0 521.1L619.5 352.1M504.0 521.1L619.5 367.5M504.0 521.1L619.5 382.8M504.0 521.1L619.5 398.2M504.0 521.1L619.5 413.6M504.0 521.1L619.5 428.9M504.0 521.1L619.5 444.3M504.0 521.1L619.5 459.6M504.0 521.1L619.5 475.0M504.0 521.1L619.5 490.4M504.0 521.1L619.5 505.7M504.0 521.1L619.5 521.1M504.0 521.1L619.5 536.4M504.0 521.1L619.5 551.8M504.0 521.1L619.5 567.2M504.0 521.1L619.5 582.5M504.0 521.1L619.5 597.9M504.0 521.1L619.5 613.2M504.0 521.1L619.5 628.6M504.0 521.1L619.5 644.0M504.0 521.1L619.5 659.3M504.0 521.1L619.5 674.7M504.0 521.1L619.5 690.0"/>
<path d="M504.0 536.4L619.5 244.6M504.0 536.4L619.5 260.0M504.0 536.4L619.5 275.3M504.0 536.4L619.5 290.7M504.0 536.4L619.5 306.0M504.0 536.4L619.5 321.4M504.0 536.4L619.5 336.8M504.0 536.4L619.5 352.1M504.0 536.4L619.5 367.5M504.0 536.4L619.5 382.8M504.0 536.4L619.5 398.2M504.0 536.4L619.5 413.6M504.0 536.4L619.5 428.9M504.0 536.4L619.5 444.3M504.0 536.4L619.5 459.6M504.0 536.4L619.5 475.0M504.0 536.4L619.5 490.4M504.0 536.4L619.5 505.7M504.0 536.4L619.5 521.1M504.0 536.4L619.5 536.4M504.0 536.4L619.5 551.8M504.0 536.4L619.5 567.2M504.0 536.4L619.5 582.5M504.0 536.4L619.5 597.9M504.0 536.4L619.5 613.2M504.0 536.4L619.5 628.6M504.0 536.4L619.5 644.0M504.0 536.4L619.5 659.3M504.0 536.4L619.5 674.7M504.0 536.4L619.5 690.0"/>
<path d="M504.0 551.8L619.5 244.6M504.0 551.8L619.5 260.0M504.0 551.8L619.5 275.3M504.0 551.8L619.5 290.7M504.0 551.8L619.5 306.0M504.0 551.8L619.5 321.4M504.0 551.8L619.5 336.8M504.0 551.8L619.5 352.1M504.0 551.8L619.5 367.5M504.0 551.8L619.5 382.8M504.0 551.8L619.5 398.2M504.0 551.8L619.5 413.6M504.0 551.8L619.5 428.9M504.0 551.8L619.5 444.3M504.0 551.8L619.5 459.6M504.0 551.8L619.5 475.0M504.0 551.8L619.5 490.4M504.0 551.8L619.5 505.7M504.0 551.8L619.5 521.1M504.0 551.8L619.5 536.4M504.0 551.8L619.5 551.8M504.0 551.8L619.5 567.2M504.0 551.8L619.5 582.5M504.0 551.8L619.5 597.9M504.0 551.8L619.5 613.2M504.0 551.8L619.5 628.6M504.0 551.8L619.5 644.0M504.0 551.8L619.5 659.3M504.0 551.8L619.5 674.7M504.0 551.8L619.5 690.0"/>
<path d="M504.0 567.2L619.5 244.6M504.0 567.2L619.5 260.0M504.0 567.2L619.5 275.3M504.0 567.2L619.5 290.7M504.0 567.2L619.5 306.0M504.0 567.2L619.5 321.4M504.0 567.2L619.5 336.8M504.0 567.2L619.5 352.1M504.0 567.2L619.5 367.5M504.0 567.2L619.5 382.8M504.0 567.2L619.5 398.2M504.0 567.2L619.5 413.6M504.0 567.2L619.5 428.9M504.0 567.2L619.5 444.3M504.0 567.2L619.5 459.6M504.0 567.2L619.5 475.0M504.0 567.2L619.5 490.4M504.0 567.2L619.5 505.7M504.0 567.2L619.5 521.1M504.0 567.2L619.5 536.4M504.0 567.2L619.5 551.8M504.0 567.2L619.5 567.2M504.0 567.2L619.5 582.5M504.0 567.2L619.5 597.9M504.0 567.2L619.5 613.2M504.0 567.2L619.5 628.6M504.0 567.2L619.5 644.0M504.0 567.2L619.5 659.3M504.0 567.2L619.5 674.7M504.0 567.2L619.5 690.0"/>
<path d="M504.0 582.5L619.5 244.6M504.0 582.5L619.5 260.0M504.0 582.5L619.5 275.3M504.0 582.5L619.5 290.7M504.0 582.5L619.5 306.0M504.0 582.5L619.5 321.4M504.0 582.5L619.5 336.8M504.0 582.5L619.5 352.1M504.0 582.5L619.5 367.5M504.0 582.5L619.5 382.8M504.0 582.5L619.5 398.2M504.0 582.5L619.5 413.6M504.0 582.5L619.5 428.9M504.0 582.5L619.5 444.3M504.0 582.5L619.5 459.6M504.0 582.5L619.5 475.0M504.0 582.5L619.5 490.4M504.0 582.5L619.5 505.7M504.0 582.5L619.5 521.1M504.0 582.5L619.5 536.4M504.0 582.5L619.5 551.8M504.0 582.5L619.5 567.2M504.0 582.5L619.5 582.5M504.0 582.5L619.5 597.9M504.0 582.5L619.5 613.2M504.0 582.5L619.5 628.6M504.0 582.5L619.5 644.0M504.0 582.5L619.5 659.3M504.0 582.5L619.5 674.7M504.0 582.5L619.5 690.0"/>
<path d="M504.0 597.9L619.5 244.6M504.0 597.9L619.5 260.0M504.0 597.9L619.5 275.3M504.0 597.9L619.5 290.7M504.0 597.9L619.5 306.0M504.0 597.9L619.5 321.4M504.0 597.9L619.5 336.8M504.0 597.9L619.5 352.1M504.0 597.9L619.5 367.5M504.0 597.9L619.5 382.8M504.0 597.9L619.5 398.2M504.0 597.9L619.5 413.6M504.0 597.9L619.5 428.9M504.0 597.9L619.5 444.3M504.0 597.9L619.5 459.6M504.0 597.9L619.5 475.0M504.0 597.9L619.5 490.4M504.0 597.9L619.5 505.7M504.0 597.9L619.5 521.1M504.0 597.9L619.5 536.4M504.0 597.9L619.5 551.8M504.0 597.9L619.5 567.2M504.0 597.9L619.5 582.5M504.0 597.9L619.5 597.9M504.0 597.9L619.5 613.2M504.0 597.9L619.5 628.6M504.0 597.9L619.5 644.0M504.0 597.9L619.5 659.3M504.0 597.9L619.5 674.7M504.0 597.9L619.5 690.0"/>
<path d="M504.0 613.2L619.5 244.6M504.0 613.2L619.5 260.0M504.0 613.2L619.5 275.3M504.0 613.2L619.5 290.7M504.0 613.2L619.5 306.0M504.0 613.2L619.5 321.4M504.0 613.2L619.5 336.8M504.0 613.2L619.5 352.1M504.0 613.2L619.5 367.5M504.0 613.2L619.5 382.8M504.0 613.2L619.5 398.2M504.0 613.2L619.5 413.6M504.0 613.2L619.5 428.9M504.0 613.2L619.5 444.3M504.0 613.2L619.5 459.6M504.0 613.2L619.5 475.0M504.0 613.2L619.5 490.4M504.0 613.2L619.5 505.7M504.0 613.2L619.5 521.1M504.0 613.2L619.5 536.4M504.0 613.2L619.5 551.8M504.0 613.2L619.5 567.2M504.0 613.2L619.5 582.5M504.0 613.2L619.5 597.9M504.0 613.2L619.5 613.2M504.0 613.2L619.5 628.6M504.0 613.2L619.5 644.0M504.0 613.2L619.5 659.3M504.0 613.2L619.5 674.7M504.0 613.2L619.5 690.0"/>
<path d="M504.0 628.6L619.5 244.6M504.0 628.6L619.5 260.0M504.0 628.6L619.5 275.3M504.0 628.6L619.5 290.7M504.0 628.6L619.5 306.0M504.0 628.6L619.5 321.4M504.0 628.6L619.5 336.8M504.0 628.6L619.5 352.1M504.0 628.6L619.5 367.5M504.0 628.6L619.5 382.8M504.0 628.6L619.5 398.2M504.0 628.6L619.5 413.6M504.0 628.6L619.5 428.9M504.0 628.6L619.5 444.3M504.0 628.6L619.5 459.6M504.0 628.6L619.5 475.0M504.0 628.6L619.5 490.4M504.0 628.6L619.5 505.7M504.0 628.6L619.5 521.1M504.0 628.6L619.5 536.4M504.0 628.6L619.5 551.8M504.0 628.6L619.5 567.2M504.0 628.6L619.5 582.5M504.0 628.6L619.5 597.9M504.0 628.6L619.5 613.2M504.0 628.6L619.5 628.6M504.0 628.6L619.5 644.0M504.0 628.6L619.5 659.3M504.0 628.6L619.5 674.7M504.0 628.6L619.5 690.0"/>
<path d="M504.0 644.0L619.5 244.6M504.0 644.0L619.5 260.0M504.0 644.0L619.5 275.3M504.0 644.0L619.5 290.7M504.0 644.0L619.5 306.0M504.0 644.0L619.5 321.4M504.0 644.0L619.5 336.8M504.0 644.0L619.5 352.1M504.0 644.0L619.5 367.5M504.0 644.0L619.5 382.8M504.0 644.0L619.5 398.2M504.0 644.0L619.5 413.6M504.0 644.0L619.5 428.9M504.0 644.0L619.5 444.3M504.0 644.0L619.5 459.6M504.0 644.0L619.5 475.0M504.0 644.0L619.5 490.4M504.0 644.0L619.5 505.7M504.0 644.0L619.5 521.1M504.0 644.0L619.5 536.4M504.0 644.0L619.5 551.8M504.0 644.0L619.5 567.2M504.0 644.0L619.5 582.5M504.0 644.0L619.5 597.9M504.0 644.0L619.5 613.2M504.0 644.0L619.5 628.6M504.0 644.0L619.5 644.0M504.0 644.0L619.5 659.3M504.0 644.0L619.5 674.7M504.0 644.0L619.5 690.0"/>
<path d="M504.0 659.3L619.5 244.6M504.0 659.3L619.5 260.0M504.0 659.3L619.5 275.3M504.0 659.3L619.5 290.7M504.0 659.3L619.5 306.0M504.0 659.3L619.5 321.4M504.0 659.3L619.5 336.8M504.0 659.3L619.5 352.1M504.0 659.3L619.5 367.5M504.0 659.3L619.5 382.8M504.0 659.3L619.5 398.2M504.0 659.3L619.5 413.6M504.0 659.3L619.5 428.9M504.0 659.3L619.5 444.3M504.0 659.3L619.5 459.6M504.0 659.3L619.5 475.0M504.0 659.3L619.5 490.4M504.0 659.3L619.5 505.7M504.0 659.3L619.5 521.1M504.0 659.3L619.5 536.4M504.0 659.3L619.5 551.8M504.0 659.3L619.5 567.2M504.0 659.3L619.5 582.5M504.0 659.3L619.5 597.9M504.0 659.3L619.5 613.2M504.0 659.3L619.5 628.6M504.0 659.3L619.5 644.0M504.0 659.3L619.5 659.3M504.0 659.3L619.5 674.7M504.0 659.3L619.5 690.0"/>
<path d="M504.0 674.7L619.5 244.6M504.0 674.7L619.5 260.0M504.0 674.7L619.5 275.3M504.0 674.7L619.5 290.7M504.0 674.7L619.5 306.0M504.0 674.7L619.5 321.4M504.0 674.7L619.5 336.8M504.0 674.7L619.5 352.1M504.0 674.7L619.5 367.5M504.0 674.7L619.5 382.8M504.0 674.7L619.5 398.2M504.0 674.7L619.5 413.6M504.0 674.7L619.5 428.9M504.0 674.7L619.5 444.3M504.0 674.7L619.5 459.6M504.0 674.7L619.5 475.0M504.0 674.7L619.5 490.4M504.0 674.7L619.5 505.7M504.0 674.7L619.5 521.1M504.0 674.7L619.5 536.4M504.0 674.7L619.5 551.8M504.0 674.7L619.5 567.2M504.0 674.7L619.5 582.5M504.0 674.7L619.5 597.9M504.0 674.7L619.5 613.2M504.0 674.7L619.5 628.6M504.0 674.7L619.5 644.0M504.0 674.7L619.5 659.3M504.0 674.7L619.5 674.7M504.0 674.7L619.5 690.0"/>
<path d="M504.0 690.0L619.5 244.6M504.0 690.0L619.5 260.0M504.0 690.0L619.5 275.3M504.0 690.0L619.5 290.7M504.0 690.0L619.5 306.0M504.0 690.0L619.5 321.4M504.0 690.0L619.5 336.8M504.0 690.0L619.5 352.1M504.0 690.0L619.5 367.5M504.0 690.0L619.5 382.8M504.0 690.0L619.5 398.2M504.0 690.0L619.5 413.6M504.0 690.0L619.5 428.9M504.0 690.0L619.5 444.3M504.0 690.0L619.5 459.6M504.0 690.0L619.5 475.0M504.0 690.0L619.5 490.4M504.0 690.0L619.5 505.7M504.0 690.0L619.5 521.1M504.0 690.0L619.5 536.4M504.0 690.0L619.5 551.8M504.0 690.0L619.5 567.2M504.0 690.0L619.5 582.5M504.0 690.0L619.5 597.9M504.0 690.0L619.5 613.2M504.0 690.0L619.5 628.6M504.0 690.0L619.5 644.0M504.0 690.0L619.5 659.3M504.0 690.0L619.5 674.7M504.0 690.0L619.5 690.0"/>
</g>
<use href="#hl" x="116.0"/>
<path d="M735.5 244.6L850.8 413.0M735.5 260.0L850.8 413.0M735.5 275.3L850.8 413.0M735.5 290.7L850.8 413.0M735.5 306.0L850.8 413.0M735.5 321.4L850.8 413.0M735.5 336.8L850.8 413.0M735.5 352.1L850.8 413.0M735.5 367.5L850.8 413.0M735.5 382.8L850.8 413.0M735.5 398.2L850.8 413.0M735.5 413.6L850.8 413.0M735.5 428.9L850.8 413.0M735.5 444.3L850.8 413.0M735.5 459.6L850.8 413.0M735.5 475.0L850.8 413.0M735.5 490.4L850.8 413.0M735.5 505.7L850.8 413.0M735.5 521.1L850.8 413.0M735.5 536.4L850.8 413.0M735.5 551.8L850.8 413.0M735.5 567.2L850.8 413.0M735.5 582.5L850.8 413.0M735.5 597.9L850.8 413.0M735.5 613.2L850.8 413.0M735.5 628.6L850.8 413.0M735.5 644.0L850.8 413.0M735.5 659.3L850.8 413.0M735.5 674.7L850.8 413.0M735.5 690.0L850.8 413.0"/>
<path d="M735.5 244.6L850.8 428.4M735.5 260.0L850.8 428.4M735.5 275.3L850.8 428.4M735.5 290.7L850.8 428.4M735.5 306.0L850.8 428.4M735.5 321.4L850.8 428.4M735.5 336.8L850.8 428.4M735.5 352.1L850.8 428.4M735.5 367.5L850.8 428.4M735.5 382.8L850.8 428.4M735.5 398.2L850.8 428.4M735.5 413.6L850.8 428.4M735.5 428.9L850.8 428.4M735.5 444.3L850.8 428.4M735.5 459.6L850.8 428.4M735.5 475.0L850.8 428.4M735.5 490.4L850.8 428.4M735.5 505.7L850.8 428.4M735.5 521.1L850.8 428.4M735.5 536.4L850.8 428.4M735.5 551.8L850.8 428.4M735.5 567.2L850.8 428.4M735.5 582.5L850.8 428.4M735.5 597.9L850.8 428.4M735.5 613.2L850.8 428.4M735.5 628.6L850.8 428.4M735.5 644.0L850.8 428.4M735.5 659.3L850.8 428.4M735.5 674.7L850.8 428.4M735.5 690.0L850.8 428.4"/>
<path d="M735.5 244.6L850.8 443.9M735.5 260.0L850.8 443.9M735.5 275.3L850.8 443.9M735.5 290.7L850.8 443.9M735.5 306.0L850.8 443.9M735.5 321.4L850.8 443.9M735.5 336.8L850.8 443.9M735.5 352.1L850.8 443.9M735.5 367.5L850.8 443.9M735.5 382.8L850.8 443.9M735.5 398.2L850.8 443.9M735.5 413.6L850.8 443.9M735.5 428.9L850.8 443.9M735.5 444.3L850.8 443.9M735.5 459.6L850.8 443.9M735.5 475.0L850.8 443.9M735.5 490.4L850.8 443.9M735.5 505.7L850.8 443.9M735.5 521.1L850.8 443.9M735.5 536.4L850.8 443.9M735.5 551.8L850.8 443.9M735.5 567.2L850.8 443.9M735.5 582.5L850.8 443.9M735.5 597.9L850.8 443.9M735.5 613.2L850.8 443.9M735.5 628.6L850.8 443.9M735.5 644.0L850.8 443.9M735.5 659.3L850.8 443.9M735.5 674.7L850.8 443.9M735.5 690.0L850.8 443.9"/>
<path d="M735.5 244.6L850.8 459.3M735.5 260.0L850.8 459.3M735.5 275.3L850.8 459.3M735.5 290.7L850.8 459.3M735.5 306.0L850.8 459.3M735.5 321.4L850.8 459.3M735.5 336.8L850.8 459.3M735.5 352.1L850.8 459.3M735.5 367.5L850.8 459.3M735.5 382.8L850.8 459.3M735.5 398.2L850.8 459.3M735.5 413.6L850.8 459.3M735.5 428.9L850.8 459.3M735.5 444.3L850.8 459.3M735.5 459.6L850.8 459.3M735.5 475.0L850.8 459.3M735.5 490.4L850.8 459.3M735.5 505.7L850.8 459.3M735.5 521.1L850.8 459.3M735.5 536.4L850.8 459.3M735.5 551.8L850.8 459.3M735.5 567.2L850.8 459.3M735.5 582.5L850.8 459.3M735.5 597.9L850.8 459.3M735.5 613.2L850.8 459.3M735.5 628.6L850.8 459.3M735.5 644.0L850.8 459.3M735.5 659.3L850.8 459.3M735.5 674.7L850.8 459.3M735.5 690.0L850.8 459.3"/>
<path d="M735.5 244.6L850.8 474.7M735.5 260.0L850.8 474.7M735.5 275.3L850.8 474.7M735.5 290.7L850.8 474.7M735.5 306.0L850.8 474.7M735.5 321.4L850.8 474.7M735.5 336.8L850.8 474.7M735.5 352.1L850.8 474.7M735.5 367.5L850.8 474.7M735.5 382.8L850.8 474.7M735.5 398.2L850.8 474.7M735.5 413.6L850.8 474.7M735.5 428.9L850.8 474.7M735.5 444.3L850.8 474.7M735.5 459.6L850.8 474.7M735.5 475.0L850.8 474.7M735.5 490.4L850.8 474.7M735.5 505.7L850.8 474.7M735.5 521.1L850.8 474.7M735.5 536.4L850.8 474.7M735.5 551.8L850.8 474.7M735.5 567.2L850.8 474.7M735.5 582.5L850.8 474.7M735.5 597.9L850.8 474.7M735.5 613.2L850.8 474.7M735.5 628.6L850.8 474.7M735.5 644.0L850.8 474.7M735.5 659.3L850.8 474.7M735.5 674.7L850.8 474.7M735.5 690.0L850.8 474.7"/>
<path d="M735.5 244.6L850.8 490.1M735.5 260.0L850.8 490.1M735.5 275.3L850.8 490.1M735.5 290.7L850.8 490.1M735.5 306.0L850.8 490.1M735.5 321.4L850.8 490.1M735.5 336.8L850.8 490.1M735.5 352.1L850.8 490.1M735.5 367.5L850.8 490.1M735.5 382.8L850.8 490.1M735.5 398.2L850.8 490.1M735.5 413.6L850.8 490.1M735.5 428.9L850.8 490.1M735.5 444.3L850.8 490.1M735.5 459.6L850.8 490.1M735.5 475.0L850.8 490.1M735.5 490.4L850.8 490.1M735.5 505.7L850.8 490.1M735.5 521.1L850.8 490.1M735.5 536.4L850.8 490.1M735.5 551.8L850.8 490.1M735.5 567.2L850.8 490.1M735.5 582.5L850.8 490.1M735.5 597.9L850.8 490.1M735.5 613.2L850.8 490.1M735.5 628.6L850.8 490.1M735.5 644.0L850.8 490.1M735.5 659.3L850.8 490.1M735.5 674.7L850.8 490.1M735.5 690.0L850.8 490.1"/>
<path d="M735.5 244.6L850.8 505.6M735.5 260.0L850.8 505.6M735.5 275.3L850.8 505.6M735.5 290.7L850.8 505.6M735.5 306.0L850.8 505.6M735.5 321.4L850.8 505.6M735.5 336.8L850.8 505.6M735.5 352.1L850.8 505.6M735.5 367.5L850.8 505.6M735.5 382.8L850.8 505.6M735.5 398.2L850.8 505.6M735.5 413.6L850.8 505.6M735.5 428.9L850.8 505.6M735.5 444.3L850.8 505.6M735.5 459.6L850.8 505.6M735.5 475.0L850.8 505.6M735.5 490.4L850.8 505.6M735.5 505.7L850.8 505.6M735.5 521.1L850.8 505.6M735.5 536.4L850.8 505.6M735.5 551.8L850.8 505.6M735.5 567.2L850.8 505.6M735.5 582.5L850.8 505.6M735.5 597.9L850.8 505.6M735.5 613.2L850.8 505.6M735.5 628.6L850.8 505.6M735.5 644.0L850.8 505.6M735.5 659.3L850.8 505.6M735.5 674.7L850.8 505.6M735.5 690.0L850.8 505.6"/>
<path d="M735.5 244.6L850.8 521.0M735.5 260.0L850.8 521.0M735.5 275.3L850.8 521.0M735.5 290.7L850.8 521.0M735.5 306.0L850.8 521.0M735.5 321.4L850.8 521.0M735.5 336.8L850.8 521.0M735.5 352.1L850.8 521.0M735.5 367.5L850.8 521.0M735.5 382.8L850.8 521.0M735.5 398.2L850.8 521.0M735.5 413.6L850.8 521.0M735.5 428.9L850.8 521.0M735.5 444.3L850.8 521.0M735.5 459.6L850.8 521.0M735.5 475.0L850.8 521.0M735.5 490.4L850.8 521.0M735.5 505.7L850.8 521.0M735.5 521.1L850.8 521.0M735.5 536.4L850.8 521.0M735.5 551.8L850.8 521.0M735.5 567.2L850.8 521.0M735.5 582.5L850.8 521.0M735.5 597.9L850.8 521.0M735.5 613.2L850.8 521.0M735.5 628.6L850.8 521.0M735.5 644.0L850.8 521.0M735.5 659.3L850.8 521.0M735.5 674.7L850.8 521.0M735.5 690.0L850.8 521.0"/>
</g>
<g fill="#fff" stroke="#9a9a9a" stroke-width="0.9">
<circle cx="388.4" cy="398.0" r="3.5"/>
<circle cx="388.4" cy="413.3" r="3.5"/>
<circle cx="388.4" cy="428.7" r="3.5"/>
<circle cx="388.4" cy="444.0" r="3.5"/>
<circle cx="388.4" cy="459.3" r="3.5"/>
<circle cx="388.4" cy="474.6" r="3.5"/>
<circle cx="388.4" cy="490.0" r="3.5"/>
<circle cx="388.4" cy="505.3" r="3.5"/>
<circle cx="388.4" cy="520.6" r="3.5"/>
<circle cx="388.4" cy="536.0" r="3.5"/>
<circle cx="504" cy="244.6" r="3.5"/>
<circle cx="504" cy="260.0" r="3.5"/>
<circle cx="504" cy="275.3" r="3.5"/>
<circle cx="504" cy="290.7" r="3.5"/>
<circle cx="504" cy="306.0" r="3.5"/>
<circle cx="504" cy="321.4" r="3.5"/>
<circle cx="504" cy="336.8" r="3.5"/>
<circle cx="504" cy="352.1" r="3.5"/>
<circle cx="504" cy="367.5" r="3.5"/>
<circle cx="504" cy="382.8" r="3.5"/>
<circle cx="504" cy="398.2" r="3.5"/>
<circle cx="504" cy="413.6" r="3.5"/>
<circle cx="504" cy="428.9" r="3.5"/>
<circle cx="504" cy="444.3" r="3.5"/>
<circle cx="504" cy="459.6" r="3.5"/>
<circle cx="504" cy="475.0" r="3.5"/>
<circle cx="504" cy="490.4" r="3.5"/>
<circle cx="504" cy="505.7" r="3.5"/>
<circle cx="504" cy="521.1" r="3.5"/>
<circle cx="504" cy="536.4" r="3.5"/>
<circle cx="504" cy="551.8" r="3.5"/>
<circle cx="504" cy="567.2" r="3.5"/>
<circle cx="504" cy="582.5" r="3.5"/>
<circle cx="504" cy="597.9" r="3.5"/>
<circle cx="504" cy="613.2" r="3.5"/>
<circle cx="504" cy="628.6" r="3.5"/>
<circle cx="504" cy="644.0" r="3.5"/>
<circle cx="504" cy="659.3" r="3.5"/>
<circle cx="504" cy="674.7" r="3.5"/>
<circle cx="504" cy="690.0" r="3.5"/>
<circle cx="619.5" cy="244.6" r="3.5"/>
<circle cx="619.5" cy="260.0" r="3.5"/>
<circle cx="619.5" cy="275.3" r="3.5"/>
<circle cx="619.5" cy="290.7" r="3.5"/>
<circle cx="619.5" cy="306.0" r="3.5"/>
<circle cx="619.5" cy="321.4" r="3.5"/>
<circle cx="619.5" cy="336.8" r="3.5"/>
<circle cx="619.5" cy="352.1" r="3.5"/>
<circle cx="619.5" cy="367.5" r="3.5"/>
<circle cx="619.5" cy="382.8" r="3.5"/>
<circle cx="619.5" cy="398.2" r="3.5"/>
<circle cx="619.5" cy="413.6" r="3.5"/>
<circle cx="619.5" cy="428.9" r="3.5"/>
<circle cx="619.5" cy="444.3" r="3.5"/>
<circle cx="619.5" cy="459.6" r="3.5"/>
<circle cx="619.5" cy="475.0" r="3.5"/>
<circle cx="619.5" cy="490.4" r="3.5"/>
<circle cx="619.5" cy="505.7" r="3.5"/>
<circle cx="619.5" cy="521.1" r="3.5"/>
<circle cx="619.5" cy="536.4" r="3.5"/>
<circle cx="619.5" cy="551.8" r="3.5"/>
<circle cx="619.5" cy="567.2" r="3.5"/>
<circle cx="619.5" cy="582.5" r="3.5"/>
<circle cx="619.5" cy="597.9" r="3.5"/>
<circle cx="619.5" cy="613.2" r="3.5"/>
<circle cx="619.5" cy="628.6" r="3.5"/>
<circle cx="619.5" cy="644.0" r="3.5"/>
<circle cx="619.5" cy="659.3" r="3.5"/>
<circle cx="619.5" cy="674.7" r="3.5"/>
<circle cx="619.5" cy="690.0" r="3.5"/>
<circle cx="735.5" cy="244.6" r="3.5"/>
<circle cx="735.5" cy="260.0" r="3.5"/>
<circle cx="735.5" cy="275.3" r="3.5"/>
<circle cx="735.5" cy="290.7" r="3.5"/>
<circle cx="735.5" cy="306.0" r="3.5"/>
<circle cx="735.5" cy="321.4" r="3.5"/>
<circle cx="735.5" cy="336.8" r="3.5"/>
<circle cx="735.5" cy="352.1" r="3.5"/>
<circle cx="735.5" cy="367.5" r="3.5"/>
<circle cx="735.5" cy="382.8" r="3.5"/>
<circle cx="735.5" cy="398.2" r="3.5"/>
<circle cx="735.5" cy="413.6" r="3.5"/>
<circle cx="735.5" cy="428.9" r="3.5"/>
<circle cx="735.5" cy="444.3" r="3.5"/>
<circle cx="735.5" cy="459.6" r="3.5"/>
<circle cx="735.5" cy="475.0" r="3.5"/>
<circle cx="735.5" cy="490.4" r="3.5"/>
<circle cx="735.5" cy="505.7" r="3.5"/>
<circle cx="735.5" cy="521.1" r="3.5"/>
<circle cx="735.5" cy="536.4" r="3.5"/>
<circle cx="735.5" cy="551.8" r="3.5"/>
<circle cx="735.5" cy="567.2" r="3.5"/>
<circle cx="735.5" cy="582.5" r="3.5"/>
<circle cx="735.5" cy="597.9" r="3.5"/>
<circle cx="735.5" cy="613.2" r="3.5"/>
<circle cx="735.5" cy="628.6" r="3.5"/>
<circle cx="735.5" cy="644.0" r="3.5"/>
<circle cx="735.5" cy="659.3" r="3.5"/>
<circle cx="735.5" cy="674.7" r="3.5"/>
<circle cx="735.5" cy="690.0" r="3.5"/>
<circle cx="850.8" cy="413.0" r="3.7"/>
<circle cx="850.8" cy="428.4" r="3.7"/>
<circle cx="850.8" cy="443.9" r="3.7"/>
<circle cx="850.8" cy="459.3" r="3.7"/>
<circle cx="850.8" cy="474.7" r="3.7"/>
<circle cx="850.8" cy="490.1" r="3.7"/>
<circle cx="850.8" cy="505.6" r="3.7"/>
<circle cx="850.8" cy="521.0" r="3.7"/>
</g>
<path d="M317 453H336V437L355.6 467.7L336 498V482.4H317z" fill="#ff0000"/>
<path d="M879 453.4H897.8V437.8L918 468.4L897.8 498.9V483.3H879z" fill="#000"/>
<path d="M1002 47.5C984 48.3 969.2 50 969.2 58V456.5C969.2 463 958 464.7 936.5 465.3C958 465.9 969.2 467.6 969.2 474V872C969.2 880 984 882.6 1001.6 883.4" fill="none" stroke="#5a5a5a" stroke-width="2.8" stroke-linecap="round" stroke-linejoin="round"/>
<rect x="983.3000000000001" y="58.1" width="781.7" height="265.7" fill="#fff" stroke="#000" stroke-width="3.2"/>
<rect x="981.4" y="330.1" width="782.3" height="265.9" fill="#fff" stroke="#000" stroke-width="3.2"/>
<rect x="981.4" y="603.2" width="782.3" height="265.5" fill="#fff" stroke="#000" stroke-width="3.2"/>
<rect x="1186.4" y="61.1" width="15.5" height="262.9" fill="#000"/>
<rect x="1188.4" y="61.7" width="11.5" height="259.9" fill="url(#cb)"/>
<rect x="1405.8" y="61.1" width="15.0" height="262.9" fill="#000"/>
<rect x="1407.8" y="61.7" width="11.0" height="259.9" fill="url(#cb)"/>
<rect x="1626.6" y="61.1" width="15.3" height="262.9" fill="#000"/>
<rect x="1628.6" y="61.7" width="11.3" height="259.9" fill="url(#cb)"/>
<rect x="1186.4" y="333.1" width="15.5" height="263.1" fill="#000"/>
<rect x="1188.4" y="333.7" width="11.5" height="260.1" fill="url(#cb)"/>
<rect x="1405.8" y="333.1" width="15.0" height="263.1" fill="#000"/>
<rect x="1407.8" y="333.7" width="11.0" height="260.1" fill="url(#cb)"/>
<rect x="1626.6" y="333.1" width="15.3" height="263.1" fill="#000"/>
<rect x="1628.6" y="333.7" width="11.3" height="260.1" fill="url(#cb)"/>
<rect x="1186.4" y="606.2" width="15.5" height="262.7" fill="#000"/>
<rect x="1188.4" y="606.8" width="11.5" height="259.7" fill="url(#cb)"/>
<rect x="1405.8" y="606.2" width="15.0" height="262.7" fill="#000"/>
<rect x="1407.8" y="606.8" width="11.0" height="259.7" fill="url(#cb)"/>
<rect x="1626.6" y="606.2" width="15.3" height="262.7" fill="#000"/>
<rect x="1628.6" y="606.8" width="11.3" height="259.7" fill="url(#cb)"/>
<g clip-path="url(#mc0)"><g filter="url(#mb)"><rect x="982.8" y="107.2" width="208.8" height="191.7" fill="#555"/><g transform="translate(1069.40,120.70) scale(5.45)" stroke-width="1.12" fill="none">
<path stroke="#545454" d="M-16.06 -2.5h3.12M-10.06 -2.5h3.12M14.94 -2.5h3.12M-15.06 -1.5h6.12M-8.06 -1.5h1.12M16.94 -1.5h1.12M-16.06 -0.5h1.12M-14.06 -0.5h1.12M16.94 -0.5h1.12M18.94 -0.5h1.12M-16.06 0.5h1.12M-14.06 0.5h1.12M18.94 0.5h2.12M21.94 0.5h1.12M-16.06 1.5h2.12M11.94 1.5h1.12M16.94 1.5h1.12M18.94 1.5h4.12M-16.06 2.5h1.12M-8.06 2.5h1.12M11.94 2.5h1.12M16.94 2.5h1.12M19.94 2.5h3.12M-16.06 3.5h2.12M-12.06 3.5h1.12M11.94 3.5h1.12M18.94 3.5h2.12M-14.06 4.5h1.12M18.94 4.5h2.12M-14.06 5.5h1.12M16.94 5.5h2.12M19.94 5.5h1.12M-15.06 6.5h2.12M13.94 6.5h1.12M16.94 6.5h5.12M-16.06 7.5h1.12M-14.06 7.5h1.12M13.94 7.5h3.12M17.94 7.5h1.12M19.94 7.5h1.12M-16.06 8.5h1.12M18.94 8.5h1.12M21.94 8.5h1.12M-16.06 9.5h1.12M17.94 9.5h1.12M20.94 9.5h1.12M17.94 10.5h1.12M-16.06 11.5h1.12M-14.06 11.5h1.12M20.94 11.5h2.12M-16.06 12.5h1.12M-14.06 12.5h1.12M21.94 12.5h1.12M-16.06 13.5h1.12M17.94 13.5h1.12M21.94 13.5h1.12M-14.06 16.5h1.12M21.94 16.5h1.12M-15.06 17.5h1.12M21.94 17.5h1.12M21.94 18.5h1.12M-15.06 19.5h1.12M21.94 19.5h1.12M-15.06 20.5h1.12M21.94 20.5h1.12M-15.06 21.5h1.12M20.94 21.5h1.12M-15.06 22.5h1.12M21.94 22.5h1.12M-16.06 23.5h1.12M16.94 24.5h1.12M15.94 25.5h1.12M-13.06 26.5h1.12M13.94 28.5h1.12M12.94 29.5h1.12M14.94 29.5h1.12M-9.06 30.5h2.12M-6.06 30.5h2.12M-3.06 30.5h1.12M-0.06 30.5h1.12M1.94 30.5h1.12M3.94 30.5h2.12M12.94 30.5h1.12M-11.06 31.5h3.12M-0.06 31.5h4.12M-12.06 32.5h2.12M-7.06 32.5h1.12M-5.06 32.5h1.12M-1.06 32.5h2.12M2.94 32.5h4.12M8.94 32.5h1.12M13.94 32.5h3.12"/>
<path stroke="#5a5a5a" d="M-13.06 -2.5h3.12M-7.06 -2.5h1.12M1.94 -2.5h1.12M4.94 -2.5h1.12M7.94 -2.5h2.12M12.94 -2.5h1.12M17.94 -2.5h1.12M20.94 -2.5h2.12M-16.06 -1.5h1.12M11.94 -1.5h2.12M17.94 -1.5h2.12M20.94 -1.5h1.12M-15.06 -0.5h1.12M10.94 -0.5h1.12M17.94 -0.5h1.12M19.94 -0.5h3.12M-15.06 0.5h1.12M10.94 0.5h1.12M17.94 0.5h1.12M20.94 0.5h1.12M10.94 1.5h1.12M17.94 1.5h1.12M17.94 2.5h2.12M-9.06 3.5h1.12M17.94 3.5h1.12M20.94 3.5h2.12M-16.06 4.5h2.12M-12.06 4.5h1.12M17.94 4.5h1.12M20.94 4.5h1.12M-16.06 5.5h2.12M-13.06 5.5h1.12M12.94 5.5h1.12M18.94 5.5h1.12M20.94 5.5h2.12M-16.06 6.5h1.12M-13.06 6.5h1.12M21.94 6.5h1.12M-13.06 7.5h1.12M16.94 7.5h1.12M18.94 7.5h1.12M20.94 7.5h2.12M16.94 8.5h2.12M-13.06 9.5h1.12M21.94 9.5h1.12M-13.06 10.5h1.12M21.94 10.5h1.12M17.94 12.5h1.12M-14.06 13.5h1.12M20.94 14.5h2.12M-16.06 15.5h1.12M-14.06 15.5h1.12M21.94 15.5h1.12M-16.06 16.5h1.12M-16.06 17.5h1.12M-14.06 17.5h1.12M16.94 17.5h1.12M-15.06 18.5h1.12M16.94 18.5h1.12M-16.06 19.5h1.12M16.94 19.5h1.12M21.94 21.5h1.12M-14.06 22.5h1.12M16.94 23.5h1.12M14.94 26.5h1.12M13.94 27.5h1.12M-11.06 29.5h1.12M-9.06 29.5h1.12M13.94 29.5h1.12M-11.06 30.5h2.12M-2.06 30.5h2.12M0.94 30.5h1.12M2.94 30.5h1.12M10.94 30.5h2.12M13.94 30.5h1.12M9.94 31.5h1.12M11.94 31.5h3.12M-10.06 32.5h1.12M-8.06 32.5h1.12M-4.06 32.5h3.12M0.94 32.5h2.12M9.94 32.5h1.12M11.94 32.5h2.12"/>
<path stroke="#606060" d="M-6.06 -2.5h4.12M-0.06 -2.5h1.12M2.94 -2.5h2.12M5.94 -2.5h2.12M9.94 -2.5h3.12M18.94 -2.5h2.12M-7.06 -1.5h1.12M9.94 -1.5h2.12M19.94 -1.5h1.12M21.94 -1.5h1.12M9.94 -0.5h1.12M-11.06 3.5h2.12M-8.06 3.5h1.12M21.94 4.5h1.12M-13.06 8.5h1.12M14.94 8.5h2.12M16.94 9.5h1.12M-14.06 14.5h1.12M16.94 14.5h1.12M16.94 15.5h1.12M16.94 16.5h1.12M-16.06 18.5h1.12M-14.06 19.5h1.12M-16.06 20.5h1.12M16.94 20.5h1.12M-16.06 21.5h1.12M16.94 21.5h1.12M-16.06 22.5h1.12M16.94 22.5h1.12M-12.06 27.5h1.12M-11.06 28.5h1.12M-10.06 29.5h1.12M-8.06 29.5h2.12M6.94 29.5h2.12M11.94 29.5h1.12M9.94 30.5h1.12M10.94 31.5h1.12M-9.06 32.5h1.12M10.94 32.5h1.12"/>
<path stroke="#666666" d="M-2.06 -2.5h2.12M0.94 -2.5h1.12M5.94 -1.5h4.12M-7.06 -0.5h1.12M7.94 -0.5h2.12M8.94 0.5h2.12M-7.06 1.5h1.12M14.94 9.5h2.12M16.94 10.5h1.12M16.94 11.5h1.12M16.94 12.5h1.12M16.94 13.5h1.12M-14.06 18.5h1.12M-14.06 20.5h1.12M-14.06 21.5h1.12M15.94 24.5h1.12M-13.06 25.5h1.12M12.94 28.5h1.12M1.94 29.5h1.12M8.94 29.5h3.12"/>
<path stroke="#4e4e4e" d="M13.94 -2.5h1.12M-9.06 -1.5h1.12M13.94 -1.5h1.12M15.94 -1.5h1.12M-13.06 -0.5h1.12M-8.06 -0.5h1.12M11.94 -0.5h2.12M15.94 -0.5h1.12M11.94 0.5h1.12M16.94 0.5h1.12M-14.06 1.5h1.12M-15.06 2.5h1.12M-13.06 2.5h1.12M12.94 2.5h1.12M-14.06 3.5h1.12M12.94 3.5h1.12M16.94 3.5h1.12M-13.06 4.5h1.12M12.94 4.5h1.12M13.94 5.5h1.12M-15.06 7.5h1.12M-15.06 8.5h2.12M19.94 8.5h2.12M-15.06 9.5h2.12M18.94 9.5h1.12M-16.06 10.5h3.12M20.94 10.5h1.12M-15.06 11.5h1.12M17.94 11.5h1.12M20.94 12.5h1.12M19.94 13.5h2.12M-16.06 14.5h2.12M17.94 14.5h3.12M-15.06 15.5h1.12M20.94 15.5h1.12M-15.06 16.5h1.12M20.94 17.5h1.12M20.94 18.5h1.12M19.94 19.5h2.12M17.94 21.5h1.12M17.94 22.5h1.12M-15.06 23.5h2.12M21.94 23.5h1.12M-16.06 24.5h1.12M-12.06 28.5h1.12M14.94 28.5h1.12M-12.06 29.5h1.12M-7.06 30.5h1.12M-4.06 30.5h1.12M8.94 30.5h1.12M14.94 30.5h1.12M-8.06 31.5h2.12M-2.06 31.5h2.12M3.94 31.5h2.12M8.94 31.5h1.12M14.94 31.5h1.12M-6.06 32.5h1.12M6.94 32.5h1.12M16.94 32.5h1.12"/>
<path stroke="#727272" d="M-6.06 -1.5h1.12M-4.06 -1.5h1.12M-2.06 -1.5h1.12M5.94 -0.5h1.12M-12.06 5.5h1.12M15.94 11.5h1.12M-13.06 12.5h1.12M15.94 12.5h1.12M15.94 17.5h1.12M15.94 18.5h1.12M15.94 19.5h1.12M15.94 20.5h1.12M15.94 23.5h1.12M14.94 24.5h1.12M13.94 26.5h1.12M-11.06 27.5h1.12M-10.06 28.5h1.12M-3.06 29.5h1.12M-0.06 29.5h2.12M3.94 29.5h2.12"/>
<path stroke="#787878" d="M-5.06 -1.5h1.12M-11.06 5.5h1.12M-12.06 6.5h1.12M-12.06 7.5h1.12M-12.06 9.5h1.12M-12.06 10.5h1.12M-13.06 13.5h1.12M15.94 13.5h1.12M15.94 14.5h1.12M15.94 15.5h1.12M15.94 16.5h1.12M15.94 21.5h1.12M15.94 22.5h1.12M13.94 25.5h1.12M12.94 27.5h1.12M-7.06 28.5h1.12M10.94 28.5h1.12M-5.06 29.5h2.12M-2.06 29.5h2.12"/>
<path stroke="#6c6c6c" d="M-3.06 -1.5h1.12M3.94 -1.5h2.12M6.94 -0.5h1.12M-7.06 0.5h1.12M-7.06 2.5h1.12M-11.06 4.5h1.12M15.94 10.5h1.12M-13.06 11.5h1.12M-13.06 23.5h1.12M-13.06 24.5h1.12M14.94 25.5h1.12M11.94 28.5h1.12M-6.06 29.5h1.12M2.94 29.5h1.12M5.94 29.5h1.12"/>
<path stroke="#7e7e7e" d="M-1.06 -1.5h1.12M0.94 -1.5h3.12M-6.06 -0.5h1.12M-2.06 -0.5h1.12M-1.06 0.5h1.12M-12.06 8.5h1.12M-12.06 11.5h1.12M-13.06 14.5h1.12M12.94 26.5h1.12M10.94 27.5h1.12M-9.06 28.5h2.12M7.94 28.5h3.12"/>
<path stroke="#848484" d="M-0.06 -1.5h1.12M-3.06 -0.5h1.12M4.94 -0.5h1.12M-2.06 0.5h1.12M-13.06 15.5h1.12M-13.06 16.5h1.12M-13.06 17.5h1.12M-13.06 22.5h1.12M4.94 28.5h1.12M6.94 28.5h1.12"/>
<path stroke="#484848" d="M14.94 -1.5h1.12M-12.06 -0.5h1.12M-10.06 -0.5h1.12M13.94 -0.5h2.12M-13.06 0.5h1.12M12.94 0.5h1.12M-13.06 1.5h1.12M12.94 1.5h1.12M-14.06 2.5h1.12M-12.06 2.5h1.12M15.94 2.5h1.12M-13.06 3.5h1.12M16.94 4.5h1.12M14.94 6.5h2.12M19.94 9.5h1.12M18.94 10.5h1.12M18.94 11.5h1.12M-15.06 12.5h1.12M18.94 12.5h1.12M-15.06 13.5h1.12M18.94 13.5h1.12M17.94 15.5h3.12M20.94 16.5h1.12M17.94 17.5h1.12M19.94 18.5h1.12M17.94 19.5h1.12M17.94 20.5h1.12M19.94 20.5h2.12M18.94 21.5h2.12M20.94 22.5h1.12M-15.06 24.5h2.12M21.94 24.5h1.12M21.94 25.5h1.12M14.94 27.5h2.12M-12.06 30.5h1.12M5.94 30.5h1.12M-12.06 31.5h1.12M-6.06 31.5h4.12M15.94 31.5h1.12M7.94 32.5h1.12M17.94 32.5h1.12"/>
<path stroke="#424242" d="M-11.06 -0.5h1.12M-9.06 -0.5h1.12M-12.06 0.5h1.12M-8.06 0.5h1.12M13.94 0.5h3.12M-12.06 1.5h1.12M-8.06 1.5h1.12M13.94 1.5h3.12M-11.06 2.5h1.12M13.94 2.5h1.12M13.94 3.5h1.12M14.94 5.5h2.12M19.94 10.5h1.12M19.94 11.5h1.12M19.94 12.5h1.12M17.94 16.5h1.12M19.94 16.5h1.12M19.94 17.5h1.12M17.94 18.5h2.12M18.94 19.5h1.12M18.94 20.5h1.12M18.94 22.5h1.12M17.94 23.5h1.12M20.94 23.5h1.12M17.94 24.5h1.12M-16.06 25.5h1.12M-14.06 25.5h1.12M16.94 25.5h2.12M-16.06 26.5h1.12M15.94 26.5h1.12M21.94 26.5h1.12M-13.06 27.5h1.12M15.94 28.5h1.12M15.94 30.5h1.12M-16.06 31.5h1.12M5.94 31.5h1.12M16.94 31.5h1.12M-16.06 32.5h1.12M-13.06 32.5h1.12M21.94 32.5h1.12"/>
<path stroke="#8a8a8a" d="M-5.06 -0.5h1.12M3.94 -0.5h1.12M-6.06 0.5h1.12M-13.06 18.5h1.12M11.94 27.5h1.12M1.94 28.5h3.12M5.94 28.5h1.12"/>
<path stroke="#909090" d="M-4.06 -0.5h1.12M-1.06 -0.5h1.12M-13.06 19.5h1.12M-13.06 21.5h1.12M-12.06 22.5h1.12M-12.06 26.5h1.12"/>
<path stroke="#9c9c9c" d="M-0.06 -0.5h1.12M1.94 -0.5h1.12M-12.06 23.5h1.12M-12.06 24.5h1.12M-12.06 25.5h1.12M-11.06 26.5h1.12M-10.06 27.5h1.12M-4.06 28.5h1.12M-2.06 28.5h3.12"/>
<path stroke="#a2a2a2" d="M0.94 -0.5h1.12M-5.06 0.5h2.12M-10.06 26.5h1.12M-6.06 27.5h1.12M-5.06 28.5h1.12M-3.06 28.5h1.12"/>
<path stroke="#969696" d="M2.94 -0.5h1.12M-3.06 0.5h1.12M-13.06 20.5h1.12M-6.06 28.5h1.12M0.94 28.5h1.12"/>
<path stroke="#3c3c3c" d="M-11.06 0.5h1.12M-11.06 1.5h1.12M-10.06 2.5h2.12M15.94 3.5h1.12M13.94 4.5h1.12M15.94 4.5h1.12M18.94 16.5h1.12M18.94 17.5h1.12M19.94 22.5h1.12M18.94 23.5h2.12M20.94 24.5h1.12M-15.06 25.5h1.12M20.94 25.5h1.12M-15.06 26.5h2.12M16.94 26.5h2.12M-16.06 27.5h1.12M-13.06 28.5h1.12M-13.06 29.5h1.12M15.94 29.5h1.12M-16.06 30.5h1.12M7.94 30.5h1.12M16.94 30.5h1.12M-13.06 31.5h1.12M17.94 31.5h1.12M-15.06 32.5h1.12M18.94 32.5h3.12"/>
<path stroke="#363636" d="M-10.06 0.5h2.12M14.94 2.5h1.12M14.94 3.5h1.12M14.94 4.5h1.12M-15.06 27.5h2.12M16.94 27.5h1.12M21.94 27.5h1.12M-16.06 28.5h3.12M16.94 28.5h1.12M-16.06 29.5h1.12M16.94 29.5h1.12M-13.06 30.5h1.12M6.94 30.5h1.12M7.94 31.5h1.12M21.94 31.5h1.12M-14.06 32.5h1.12"/>
<path stroke="#0e8136" d="M-0.06 0.5h1.12M-1.06 1.5h1.12M-10.06 4.5h1.12M7.94 4.5h1.12M-5.06 8.5h1.12M-6.06 10.5h1.12M0.94 20.5h1.12M12.94 21.5h1.12M4.94 22.5h1.12M3.94 23.5h1.12"/>
<path stroke="#23a020" d="M0.94 0.5h1.12M7.94 0.5h1.12M-0.06 1.5h1.12M7.94 3.5h1.12M12.94 23.5h1.12M4.94 25.5h1.12M4.94 26.5h1.12M4.94 27.5h1.12"/>
<path stroke="#46b611" d="M1.94 0.5h1.12M7.94 2.5h1.12M6.94 22.5h1.12M10.94 22.5h1.12"/>
<path stroke="#78ca08" d="M2.94 0.5h4.12M0.94 1.5h1.12M7.94 1.5h1.12M0.94 5.5h1.12M2.94 5.5h2.12M7.94 22.5h1.12M9.94 22.5h1.12"/>
<path stroke="#5dc00c" d="M6.94 0.5h1.12M1.94 5.5h1.12M4.94 5.5h1.12M11.94 23.5h1.12"/>
<path stroke="#303030" d="M-10.06 1.5h1.12M18.94 24.5h2.12M18.94 25.5h2.12M20.94 26.5h1.12M-14.06 29.5h1.12M17.94 30.5h1.12M21.94 30.5h1.12M-14.06 31.5h1.12M6.94 31.5h1.12"/>
<path stroke="#2a2a2a" d="M-9.06 1.5h1.12M19.94 26.5h1.12M17.94 27.5h1.12M20.94 27.5h1.12M20.94 28.5h2.12M-15.06 29.5h1.12M17.94 29.5h1.12M21.94 29.5h1.12M-15.06 30.5h1.12M-15.06 31.5h1.12M18.94 31.5h3.12"/>
<path stroke="#0c644e" d="M-6.06 1.5h2.12M-7.06 3.5h2.12M-8.06 4.5h1.12M-5.06 4.5h2.12M-8.06 5.5h6.12M7.94 5.5h1.12M-6.06 6.5h2.12M-5.06 7.5h3.12M6.94 7.5h1.12M-11.06 8.5h1.12M6.94 8.5h2.12M-2.06 9.5h1.12M4.94 9.5h1.12M6.94 9.5h2.12M-8.06 10.5h1.12M7.94 10.5h1.12M-8.06 11.5h1.12M7.94 11.5h1.12M-9.06 12.5h1.12M-0.06 13.5h1.12M7.94 13.5h2.12M-8.06 14.5h1.12M7.94 14.5h2.12M-8.06 15.5h2.12M-7.06 20.5h1.12M7.94 20.5h3.12M-12.06 21.5h1.12M-7.06 21.5h1.12M2.94 21.5h4.12M-11.06 22.5h1.12M-6.06 22.5h1.12M2.94 22.5h1.12M-10.06 23.5h2.12M1.94 23.5h1.12M-10.06 24.5h1.12M0.94 25.5h1.12M0.94 26.5h1.12M0.94 27.5h1.12"/>
<path stroke="#0d7242" d="M-4.06 1.5h1.12M-2.06 1.5h1.12M-4.06 2.5h2.12M-5.06 3.5h2.12M-9.06 4.5h1.12M-3.06 4.5h1.12M-10.06 6.5h1.12M-8.06 6.5h1.12M-0.06 6.5h1.12M6.94 6.5h1.12M-10.06 7.5h1.12M3.94 7.5h2.12M-4.06 8.5h2.12M-7.06 9.5h1.12M-3.06 9.5h1.12M-4.06 11.5h1.12M-0.06 20.5h1.12M1.94 20.5h1.12M-9.06 21.5h1.12M-8.06 22.5h1.12M-11.06 24.5h1.12M1.94 24.5h1.12M2.94 26.5h2.12M2.94 27.5h1.12"/>
<path stroke="#0c6a48" d="M-3.06 1.5h1.12M-6.06 2.5h2.12M8.94 3.5h1.12M-2.06 5.5h1.12M-9.06 6.5h1.12M-7.06 6.5h1.12M-2.06 6.5h2.12M-11.06 7.5h1.12M-9.06 7.5h4.12M2.94 7.5h1.12M5.94 7.5h1.12M-10.06 8.5h4.12M-2.06 8.5h1.12M4.94 8.5h2.12M13.94 8.5h1.12M-10.06 9.5h3.12M-10.06 10.5h2.12M-7.06 10.5h1.12M-3.06 10.5h1.12M-10.06 11.5h2.12M-6.06 11.5h1.12M-9.06 19.5h2.12M-10.06 20.5h1.12M2.94 20.5h1.12M-11.06 21.5h2.12M0.94 21.5h2.12M-10.06 22.5h2.12M-7.06 22.5h1.12M3.94 22.5h1.12M-11.06 23.5h1.12M-8.06 23.5h1.12M2.94 23.5h1.12M14.94 23.5h1.12M-11.06 25.5h1.12M1.94 27.5h1.12"/>
<path stroke="#c3e300" d="M1.94 1.5h1.12M6.94 2.5h1.12M1.94 3.5h1.12M4.94 4.5h1.12M10.94 23.5h1.12M11.94 25.5h1.12"/>
<path stroke="#efee00" d="M2.94 1.5h1.12M4.94 1.5h1.12M1.94 2.5h3.12M2.94 3.5h3.12M7.94 23.5h1.12M6.94 25.5h1.12M10.94 26.5h1.12M8.94 27.5h1.12"/>
<path stroke="#d9e800" d="M3.94 1.5h1.12M5.94 1.5h2.12M5.94 2.5h1.12M5.94 3.5h1.12M3.94 4.5h1.12M6.94 26.5h1.12M6.94 27.5h2.12M9.94 27.5h1.12"/>
<path stroke="#0f8930" d="M8.94 1.5h1.12M-1.06 2.5h1.12M-1.06 3.5h1.12M-1.06 4.5h1.12M6.94 5.5h1.12M0.94 6.5h1.12M4.94 6.5h2.12M-6.06 9.5h1.12M-4.06 9.5h1.12M-4.06 10.5h1.12M7.94 21.5h1.12M9.94 21.5h1.12M13.94 22.5h1.12M13.94 23.5h1.12M13.94 24.5h1.12M3.94 25.5h1.12M3.94 27.5h1.12"/>
<path stroke="#0b5260" d="M9.94 1.5h1.12M8.94 5.5h1.12M8.94 7.5h1.12M-1.06 9.5h1.12M5.94 10.5h1.12M3.94 11.5h1.12M8.94 11.5h1.12M-3.06 12.5h1.12M5.94 12.5h1.12M-5.06 13.5h2.12M1.94 13.5h2.12M2.94 14.5h1.12M5.94 14.5h1.12M9.94 14.5h1.12M-10.06 15.5h1.12M-5.06 15.5h1.12M1.94 15.5h1.12M8.94 15.5h1.12M-8.06 16.5h1.12M-6.06 16.5h1.12M14.94 17.5h1.12M-9.06 18.5h2.12M-0.06 18.5h1.12M13.94 18.5h2.12M-12.06 19.5h1.12M-7.06 19.5h1.12M0.94 19.5h2.12M7.94 19.5h1.12M9.94 19.5h1.12M-5.06 20.5h3.12M-1.06 20.5h1.12M4.94 20.5h1.12M-5.06 21.5h2.12M-2.06 21.5h1.12M-5.06 22.5h1.12M-2.06 22.5h1.12M-1.06 23.5h1.12M-6.06 24.5h2.12M-2.06 24.5h3.12M-9.06 25.5h2.12"/>
<path stroke="#0d7a3c" d="M-2.06 2.5h1.12M8.94 2.5h1.12M-3.06 3.5h2.12M-2.06 4.5h1.12M-10.06 5.5h2.12M-1.06 5.5h1.12M-11.06 6.5h1.12M-6.06 8.5h1.12M-5.06 11.5h1.12M-9.06 20.5h2.12M-8.06 21.5h1.12M6.94 21.5h1.12M10.94 21.5h2.12M13.94 21.5h1.12M2.94 24.5h1.12M1.94 25.5h2.12M1.94 26.5h1.12"/>
<path stroke="#2ea81b" d="M-0.06 2.5h1.12M-0.06 5.5h1.12M5.94 5.5h1.12M4.94 24.5h1.12M12.94 24.5h1.12"/>
<path stroke="#acdd00" d="M0.94 2.5h1.12M0.94 3.5h1.12M2.94 4.5h1.12M5.94 4.5h1.12M6.94 23.5h1.12M11.94 24.5h1.12M11.94 26.5h1.12M5.94 27.5h1.12"/>
<path stroke="#f9e900" d="M4.94 2.5h1.12M8.94 23.5h2.12M6.94 24.5h1.12M10.94 24.5h1.12M7.94 26.5h1.12"/>
<path stroke="#0a4c66" d="M9.94 2.5h1.12M8.94 6.5h1.12M9.94 8.5h1.12M9.94 9.5h1.12M-1.06 10.5h1.12M-0.06 11.5h1.12M5.94 11.5h1.12M-12.06 12.5h1.12M0.94 12.5h1.12M2.94 12.5h1.12M9.94 12.5h1.12M-11.06 13.5h1.12M-3.06 13.5h2.12M14.94 13.5h1.12M-2.06 14.5h1.12M14.94 14.5h1.12M6.94 15.5h1.12M9.94 15.5h1.12M14.94 15.5h1.12M-10.06 16.5h2.12M0.94 16.5h1.12M14.94 16.5h1.12M-1.06 17.5h1.12M0.94 17.5h1.12M7.94 17.5h2.12M13.94 17.5h1.12M-12.06 18.5h1.12M-10.06 18.5h1.12M-6.06 18.5h1.12M7.94 18.5h4.12M12.94 18.5h1.12M-6.06 19.5h2.12M-0.06 19.5h1.12M4.94 19.5h1.12M10.94 19.5h3.12M6.94 20.5h1.12M-1.06 21.5h1.12M-1.06 22.5h1.12M-0.06 23.5h1.12M-7.06 25.5h1.12M-0.06 25.5h1.12M-9.06 26.5h1.12"/>
<path stroke="#093a70" d="M10.94 2.5h1.12M9.94 5.5h1.12M0.94 8.5h1.12M2.94 8.5h1.12M-0.06 10.5h1.12M10.94 10.5h1.12M10.94 11.5h1.12M13.94 11.5h2.12M11.94 12.5h2.12M-11.06 14.5h1.12M-11.06 15.5h1.12M-2.06 15.5h1.12M-12.06 17.5h1.12M5.94 17.5h1.12M5.94 19.5h1.12M-5.06 25.5h3.12M-2.06 26.5h1.12"/>
<path stroke="#3aaf16" d="M-0.06 3.5h1.12M-0.06 4.5h1.12M6.94 4.5h1.12M5.94 23.5h1.12M12.94 25.5h1.12"/>
<path stroke="#93d404" d="M6.94 3.5h1.12M0.94 4.5h2.12M8.94 22.5h1.12M5.94 24.5h1.12M5.94 25.5h1.12M5.94 26.5h1.12"/>
<path stroke="#09406d" d="M9.94 3.5h1.12M11.94 4.5h1.12M11.94 5.5h1.12M10.94 7.5h2.12M-0.06 8.5h1.12M10.94 8.5h1.12M10.94 9.5h1.12M3.94 10.5h1.12M14.94 10.5h1.12M10.94 12.5h1.12M-12.06 13.5h1.12M10.94 13.5h3.12M-3.06 14.5h1.12M3.94 14.5h2.12M11.94 14.5h2.12M-4.06 15.5h1.12M5.94 15.5h1.12M10.94 15.5h2.12M-11.06 16.5h1.12M1.94 16.5h1.12M6.94 16.5h1.12M10.94 16.5h3.12M-11.06 17.5h2.12M-7.06 17.5h2.12M1.94 17.5h1.12M6.94 17.5h1.12M-1.06 18.5h1.12M0.94 18.5h2.12M4.94 18.5h2.12M-4.06 19.5h1.12M-2.06 19.5h2.12M6.94 19.5h1.12M-6.06 25.5h1.12M-7.06 26.5h1.12M-1.06 26.5h1.12M-2.06 27.5h1.12"/>
<path stroke="#082d75" d="M10.94 3.5h1.12M10.94 5.5h1.12M1.94 8.5h1.12M11.94 9.5h2.12M2.94 11.5h1.12M11.94 11.5h1.12M-12.06 15.5h1.12M5.94 16.5h1.12M3.94 17.5h2.12M-5.06 26.5h1.12"/>
<path stroke="#0b5e54" d="M-7.06 4.5h2.12M-4.06 6.5h2.12M7.94 6.5h1.12M-2.06 7.5h1.12M3.94 8.5h1.12M-11.06 9.5h1.12M5.94 9.5h1.12M8.94 9.5h1.12M-11.06 10.5h1.12M-2.06 10.5h1.12M4.94 10.5h1.12M-7.06 11.5h1.12M-3.06 11.5h2.12M-10.06 12.5h1.12M-8.06 12.5h1.12M-6.06 12.5h2.12M-0.06 12.5h1.12M3.94 12.5h2.12M6.94 12.5h3.12M-9.06 13.5h2.12M-1.06 13.5h1.12M3.94 13.5h2.12M6.94 13.5h1.12M-9.06 14.5h1.12M-7.06 14.5h1.12M-0.06 14.5h2.12M-6.06 15.5h1.12M0.94 15.5h1.12M-0.06 17.5h1.12M-10.06 19.5h1.12M3.94 19.5h1.12M14.94 19.5h1.12M-12.06 20.5h2.12M3.94 20.5h1.12M10.94 20.5h5.12M-6.06 21.5h1.12M-0.06 21.5h1.12M14.94 21.5h1.12M1.94 22.5h1.12M14.94 22.5h1.12M-7.06 23.5h5.12M-8.06 24.5h1.12M0.94 24.5h1.12M-10.06 25.5h1.12"/>
<path stroke="#0b585a" d="M8.94 4.5h1.12M-1.06 7.5h4.12M7.94 7.5h1.12M-1.06 8.5h1.12M8.94 8.5h1.12M6.94 10.5h1.12M8.94 10.5h1.12M-11.06 11.5h1.12M-1.06 11.5h1.12M4.94 11.5h1.12M6.94 11.5h1.12M-11.06 12.5h1.12M-7.06 12.5h1.12M-4.06 12.5h1.12M-2.06 12.5h2.12M-10.06 13.5h1.12M-7.06 13.5h2.12M0.94 13.5h1.12M5.94 13.5h1.12M9.94 13.5h1.12M-10.06 14.5h1.12M-6.06 14.5h2.12M-1.06 14.5h1.12M1.94 14.5h1.12M6.94 14.5h1.12M-9.06 15.5h1.12M-0.06 15.5h1.12M7.94 15.5h1.12M-7.06 16.5h1.12M-0.06 16.5h1.12M-11.06 19.5h1.12M2.94 19.5h1.12M8.94 19.5h1.12M13.94 19.5h1.12M-6.06 20.5h1.12M-2.06 20.5h1.12M-3.06 21.5h1.12M-4.06 22.5h2.12M0.94 22.5h1.12M-2.06 23.5h1.12M0.94 23.5h1.12M-9.06 24.5h1.12M-7.06 24.5h1.12M-4.06 24.5h2.12"/>
<path stroke="#093372" d="M9.94 4.5h1.12M9.94 6.5h3.12M-0.06 9.5h1.12M13.94 10.5h1.12M0.94 11.5h1.12M-12.06 14.5h1.12M2.94 15.5h1.12M-12.06 16.5h1.12M2.94 17.5h1.12M-3.06 19.5h1.12M-6.06 26.5h1.12M-3.06 26.5h1.12M-5.06 27.5h3.12"/>
<path stroke="#082777" d="M10.94 4.5h1.12M11.94 10.5h1.12M12.94 11.5h1.12M-3.06 15.5h1.12M2.94 16.5h1.12M-4.06 18.5h1.12M-4.06 26.5h1.12"/>
<path stroke="#10912a" d="M1.94 6.5h2.12M5.94 22.5h1.12M12.94 22.5h1.12M4.94 23.5h1.12M3.94 24.5h1.12"/>
<path stroke="#179825" d="M3.94 6.5h1.12M-5.06 9.5h1.12M-5.06 10.5h1.12M8.94 21.5h1.12M11.94 22.5h1.12"/>
<path stroke="#0a466b" d="M12.94 6.5h1.12M9.94 7.5h1.12M12.94 7.5h1.12M11.94 8.5h2.12M3.94 9.5h1.12M13.94 9.5h1.12M9.94 10.5h1.12M9.94 11.5h1.12M1.94 12.5h1.12M13.94 12.5h2.12M13.94 13.5h1.12M-4.06 14.5h1.12M10.94 14.5h1.12M13.94 14.5h1.12M-1.06 15.5h1.12M12.94 15.5h2.12M-5.06 16.5h1.12M-1.06 16.5h1.12M7.94 16.5h3.12M13.94 16.5h1.12M-9.06 17.5h2.12M-5.06 17.5h1.12M9.94 17.5h4.12M-11.06 18.5h1.12M-7.06 18.5h1.12M-5.06 18.5h1.12M2.94 18.5h2.12M6.94 18.5h1.12M11.94 18.5h1.12M5.94 20.5h1.12M-0.06 22.5h1.12M-2.06 25.5h2.12M-8.06 26.5h1.12M-0.06 26.5h1.12M-1.06 27.5h2.12"/>
<path stroke="#082275" d="M0.94 9.5h1.12M0.94 10.5h1.12M12.94 10.5h1.12M1.94 11.5h1.12M3.94 15.5h2.12M-4.06 16.5h1.12M-2.06 16.5h1.12M-2.06 18.5h1.12"/>
<path stroke="#080f6c" d="M1.94 9.5h1.12"/>
<path stroke="#081d74" d="M2.94 9.5h1.12M3.94 16.5h2.12M-4.06 17.5h1.12"/>
<path stroke="#070d63" d="M1.94 10.5h1.12M-3.06 17.5h1.12"/>
<path stroke="#081371" d="M2.94 10.5h1.12M-3.06 16.5h1.12"/>
<path stroke="#081872" d="M-2.06 17.5h1.12M-3.06 18.5h1.12"/>
<path stroke="#fdd000" d="M7.94 24.5h1.12M7.94 25.5h2.12"/>
<path stroke="#fbdc00" d="M8.94 24.5h2.12M9.94 25.5h2.12M8.94 26.5h2.12"/>
<path stroke="#242424" d="M18.94 26.5h1.12M18.94 27.5h1.12M17.94 28.5h1.12M20.94 29.5h1.12M-14.06 30.5h1.12M18.94 30.5h1.12M20.94 30.5h1.12"/>
<path stroke="#a8a8a8" d="M-9.06 27.5h1.12M-7.06 27.5h1.12"/>
<path stroke="#aeaeae" d="M-8.06 27.5h1.12"/>
<path stroke="#1e1e1e" d="M19.94 27.5h1.12M18.94 28.5h2.12M19.94 29.5h1.12M19.94 30.5h1.12"/>
<path stroke="#181818" d="M18.94 29.5h1.12"/>
</g></g></g>
<g clip-path="url(#mc1)"><g filter="url(#mb)"><rect x="1198.8" y="105.6" width="210.8" height="192.2" fill="#555"/><g transform="translate(1286.50,121.20) scale(5.45)" stroke-width="1.12" fill="none">
<path stroke="#545454" d="M-16.06 -2.5h3.12M-9.06 -2.5h2.12M12.94 -2.5h1.12M14.94 -2.5h3.12M-15.06 -1.5h4.12M-8.06 -1.5h1.12M12.94 -1.5h1.12M16.94 -1.5h1.12M-16.06 -0.5h1.12M16.94 -0.5h1.12M18.94 -0.5h1.12M-15.06 0.5h1.12M11.94 0.5h1.12M17.94 0.5h3.12M21.94 0.5h1.12M-16.06 1.5h2.12M11.94 1.5h1.12M18.94 1.5h4.12M-16.06 2.5h1.12M11.94 2.5h1.12M16.94 2.5h2.12M19.94 2.5h3.12M-16.06 3.5h2.12M-12.06 3.5h1.12M11.94 3.5h1.12M18.94 3.5h1.12M-16.06 4.5h1.12M-14.06 4.5h1.12M18.94 4.5h2.12M-16.06 5.5h3.12M16.94 5.5h1.12M19.94 5.5h1.12M-16.06 6.5h1.12M-14.06 6.5h1.12M13.94 6.5h1.12M16.94 6.5h5.12M-16.06 7.5h1.12M-14.06 7.5h1.12M14.94 7.5h2.12M19.94 7.5h1.12M-16.06 8.5h1.12M18.94 8.5h1.12M17.94 9.5h1.12M20.94 9.5h1.12M17.94 10.5h1.12M-14.06 11.5h1.12M20.94 11.5h2.12M-16.06 12.5h1.12M-14.06 12.5h1.12M21.94 12.5h1.12M-16.06 13.5h1.12M17.94 13.5h1.12M21.94 13.5h1.12M17.94 14.5h1.12M20.94 14.5h1.12M-14.06 16.5h1.12M21.94 16.5h1.12M-15.06 17.5h1.12M-15.06 19.5h1.12M21.94 19.5h1.12M-15.06 20.5h1.12M-15.06 21.5h1.12M21.94 21.5h1.12M21.94 22.5h1.12M16.94 24.5h1.12M15.94 25.5h1.12M-13.06 26.5h1.12M13.94 28.5h1.12M12.94 29.5h1.12M14.94 29.5h1.12M-9.06 30.5h2.12M-3.06 30.5h2.12M-0.06 30.5h1.12M1.94 30.5h1.12M3.94 30.5h2.12M10.94 30.5h1.12M12.94 30.5h1.12M-11.06 31.5h4.12M-2.06 31.5h1.12M-0.06 31.5h4.12M-12.06 32.5h1.12M-7.06 32.5h1.12M-5.06 32.5h1.12M-1.06 32.5h2.12M2.94 32.5h2.12M5.94 32.5h2.12M8.94 32.5h1.12M13.94 32.5h3.12"/>
<path stroke="#5a5a5a" d="M-13.06 -2.5h3.12M-7.06 -2.5h1.12M4.94 -2.5h1.12M7.94 -2.5h2.12M11.94 -2.5h1.12M17.94 -2.5h2.12M20.94 -2.5h2.12M-16.06 -1.5h1.12M9.94 -1.5h3.12M17.94 -1.5h2.12M20.94 -1.5h1.12M-15.06 -0.5h1.12M10.94 -0.5h1.12M17.94 -0.5h1.12M19.94 -0.5h3.12M20.94 0.5h1.12M10.94 1.5h1.12M17.94 1.5h1.12M-8.06 2.5h1.12M18.94 2.5h1.12M-9.06 3.5h1.12M17.94 3.5h1.12M20.94 3.5h2.12M-15.06 4.5h1.12M17.94 4.5h1.12M20.94 4.5h1.12M-13.06 5.5h1.12M12.94 5.5h1.12M17.94 5.5h2.12M20.94 5.5h2.12M21.94 6.5h1.12M13.94 7.5h1.12M16.94 7.5h3.12M20.94 7.5h2.12M16.94 8.5h2.12M21.94 9.5h1.12M-13.06 10.5h1.12M21.94 10.5h1.12M17.94 12.5h1.12M-14.06 13.5h1.12M21.94 14.5h1.12M-16.06 15.5h1.12M-14.06 15.5h1.12M21.94 15.5h1.12M-16.06 16.5h1.12M-16.06 17.5h1.12M-14.06 17.5h1.12M16.94 17.5h1.12M-16.06 18.5h2.12M16.94 18.5h1.12M-16.06 19.5h1.12M16.94 19.5h1.12M-14.06 22.5h1.12M16.94 23.5h1.12M14.94 26.5h1.12M13.94 27.5h1.12M-11.06 29.5h1.12M-9.06 29.5h1.12M7.94 29.5h1.12M13.94 29.5h1.12M-11.06 30.5h2.12M-1.06 30.5h1.12M0.94 30.5h1.12M2.94 30.5h1.12M11.94 30.5h1.12M13.94 30.5h1.12M9.94 31.5h1.12M11.94 31.5h3.12M-11.06 32.5h2.12M-8.06 32.5h1.12M-4.06 32.5h2.12M0.94 32.5h2.12M4.94 32.5h1.12M9.94 32.5h1.12M11.94 32.5h2.12"/>
<path stroke="#4e4e4e" d="M-10.06 -2.5h1.12M13.94 -2.5h1.12M-11.06 -1.5h3.12M-14.06 -0.5h1.12M-8.06 -0.5h1.12M11.94 -0.5h2.12M-16.06 0.5h1.12M-14.06 0.5h1.12M16.94 0.5h1.12M-14.06 1.5h1.12M16.94 1.5h1.12M-15.06 2.5h1.12M12.94 2.5h1.12M-14.06 3.5h1.12M12.94 3.5h1.12M16.94 3.5h1.12M19.94 3.5h1.12M-13.06 4.5h1.12M12.94 4.5h1.12M13.94 5.5h1.12M-15.06 6.5h1.12M15.94 6.5h1.12M-15.06 7.5h1.12M-15.06 8.5h2.12M19.94 8.5h3.12M-16.06 9.5h3.12M18.94 9.5h1.12M-14.06 10.5h1.12M20.94 10.5h1.12M-16.06 11.5h2.12M17.94 11.5h1.12M20.94 13.5h1.12M-16.06 14.5h1.12M18.94 14.5h2.12M-15.06 15.5h1.12M-15.06 16.5h1.12M17.94 17.5h1.12M21.94 17.5h1.12M20.94 18.5h2.12M19.94 19.5h1.12M21.94 20.5h1.12M17.94 21.5h1.12M20.94 21.5h1.12M-15.06 22.5h1.12M17.94 22.5h1.12M-16.06 23.5h3.12M21.94 23.5h1.12M-12.06 28.5h1.12M14.94 28.5h1.12M-12.06 29.5h1.12M-7.06 30.5h3.12M8.94 30.5h1.12M14.94 30.5h1.12M-12.06 31.5h1.12M-7.06 31.5h5.12M-1.06 31.5h1.12M3.94 31.5h2.12M8.94 31.5h1.12M14.94 31.5h1.12M-6.06 32.5h1.12M7.94 32.5h1.12M16.94 32.5h1.12"/>
<path stroke="#606060" d="M-6.06 -2.5h1.12M1.94 -2.5h1.12M3.94 -2.5h1.12M5.94 -2.5h2.12M9.94 -2.5h2.12M19.94 -2.5h1.12M-7.06 -1.5h1.12M19.94 -1.5h1.12M21.94 -1.5h1.12M9.94 -0.5h1.12M10.94 0.5h1.12M-10.06 3.5h1.12M-12.06 4.5h1.12M21.94 4.5h1.12M-13.06 6.5h1.12M-13.06 7.5h1.12M-13.06 8.5h1.12M14.94 8.5h2.12M-13.06 9.5h1.12M16.94 9.5h1.12M16.94 10.5h1.12M-14.06 14.5h1.12M16.94 15.5h1.12M16.94 16.5h1.12M-14.06 19.5h1.12M-16.06 20.5h1.12M16.94 20.5h1.12M-16.06 21.5h1.12M16.94 21.5h1.12M-16.06 22.5h1.12M16.94 22.5h1.12M-12.06 27.5h1.12M-11.06 28.5h1.12M-10.06 29.5h1.12M-8.06 29.5h2.12M6.94 29.5h1.12M11.94 29.5h1.12M9.94 30.5h1.12M10.94 31.5h1.12M-9.06 32.5h1.12M-2.06 32.5h1.12M10.94 32.5h1.12"/>
<path stroke="#666666" d="M-5.06 -2.5h4.12M-0.06 -2.5h1.12M2.94 -2.5h1.12M5.94 -1.5h1.12M8.94 -1.5h1.12M-7.06 -0.5h1.12M6.94 -0.5h3.12M8.94 0.5h1.12M-7.06 1.5h1.12M-11.06 3.5h1.12M-8.06 3.5h1.12M14.94 9.5h2.12M16.94 11.5h1.12M16.94 12.5h1.12M16.94 13.5h1.12M16.94 14.5h1.12M-14.06 18.5h1.12M-14.06 20.5h1.12M-14.06 21.5h1.12M15.94 24.5h1.12M-13.06 25.5h1.12M12.94 28.5h1.12M-6.06 29.5h1.12M1.94 29.5h2.12M5.94 29.5h1.12M8.94 29.5h3.12"/>
<path stroke="#6c6c6c" d="M-1.06 -2.5h1.12M0.94 -2.5h1.12M6.94 -1.5h2.12M-7.06 0.5h1.12M9.94 0.5h1.12M-7.06 2.5h1.12M-11.06 4.5h1.12M15.94 10.5h1.12M-13.06 11.5h1.12M-13.06 23.5h1.12M-13.06 24.5h1.12M14.94 25.5h1.12M11.94 28.5h1.12M3.94 29.5h2.12"/>
<path stroke="#787878" d="M-6.06 -1.5h1.12M-4.06 -1.5h1.12M-2.06 -1.5h1.12M3.94 -1.5h1.12M-1.06 0.5h1.12M-11.06 5.5h1.12M-12.06 7.5h1.12M-12.06 10.5h1.12M-13.06 13.5h1.12M15.94 13.5h1.12M15.94 14.5h1.12M15.94 15.5h1.12M15.94 16.5h1.12M15.94 21.5h1.12M15.94 22.5h1.12M13.94 25.5h1.12M12.94 27.5h1.12M-7.06 28.5h1.12M10.94 28.5h1.12M-5.06 29.5h2.12M-2.06 29.5h2.12"/>
<path stroke="#7e7e7e" d="M-5.06 -1.5h1.12M-6.06 -0.5h1.12M-2.06 -0.5h1.12M4.94 -0.5h1.12M-2.06 0.5h1.12M-12.06 6.5h1.12M-12.06 8.5h1.12M-12.06 9.5h1.12M-12.06 11.5h1.12M-13.06 14.5h1.12M12.94 26.5h1.12M10.94 27.5h1.12M-9.06 28.5h2.12M7.94 28.5h3.12"/>
<path stroke="#727272" d="M-3.06 -1.5h1.12M4.94 -1.5h1.12M5.94 -0.5h1.12M-12.06 5.5h1.12M15.94 11.5h1.12M-13.06 12.5h1.12M15.94 12.5h1.12M15.94 17.5h1.12M15.94 18.5h1.12M15.94 19.5h1.12M15.94 20.5h1.12M15.94 23.5h1.12M14.94 24.5h1.12M13.94 26.5h1.12M-11.06 27.5h1.12M-10.06 28.5h1.12M-3.06 29.5h1.12M-0.06 29.5h2.12"/>
<path stroke="#8a8a8a" d="M-1.06 -1.5h4.12M-6.06 0.5h1.12M-13.06 18.5h1.12M11.94 27.5h1.12M1.94 28.5h3.12M5.94 28.5h1.12"/>
<path stroke="#848484" d="M2.94 -1.5h1.12M-3.06 -0.5h1.12M3.94 -0.5h1.12M-13.06 15.5h1.12M-13.06 16.5h1.12M-13.06 17.5h1.12M-13.06 22.5h1.12M4.94 28.5h1.12M6.94 28.5h1.12"/>
<path stroke="#484848" d="M13.94 -1.5h3.12M-13.06 -0.5h2.12M13.94 -0.5h3.12M12.94 0.5h1.12M-13.06 1.5h1.12M12.94 1.5h1.12M-14.06 2.5h3.12M-13.06 3.5h1.12M16.94 4.5h1.12M14.94 6.5h1.12M19.94 9.5h1.12M-16.06 10.5h2.12M18.94 10.5h1.12M-15.06 12.5h1.12M18.94 12.5h1.12M20.94 12.5h1.12M-15.06 13.5h1.12M18.94 13.5h2.12M-15.06 14.5h1.12M17.94 15.5h2.12M20.94 15.5h1.12M20.94 16.5h1.12M20.94 17.5h1.12M17.94 18.5h1.12M19.94 18.5h1.12M17.94 19.5h1.12M20.94 19.5h1.12M17.94 20.5h1.12M19.94 20.5h2.12M18.94 21.5h2.12M20.94 22.5h1.12M-16.06 24.5h3.12M14.94 27.5h2.12M-12.06 30.5h1.12M-4.06 30.5h1.12M5.94 31.5h1.12M15.94 31.5h2.12M-13.06 32.5h1.12M17.94 32.5h1.12"/>
<path stroke="#424242" d="M-11.06 -0.5h2.12M-13.06 0.5h2.12M-8.06 0.5h1.12M13.94 0.5h3.12M-8.06 1.5h1.12M13.94 1.5h3.12M-11.06 2.5h1.12M13.94 2.5h1.12M15.94 2.5h1.12M13.94 3.5h1.12M14.94 5.5h2.12M19.94 10.5h1.12M18.94 11.5h2.12M19.94 12.5h1.12M19.94 15.5h1.12M17.94 16.5h1.12M19.94 16.5h1.12M18.94 17.5h1.12M18.94 18.5h1.12M18.94 19.5h1.12M18.94 20.5h1.12M18.94 22.5h1.12M17.94 23.5h1.12M20.94 23.5h1.12M17.94 24.5h1.12M21.94 24.5h1.12M-16.06 25.5h1.12M-14.06 25.5h1.12M16.94 25.5h2.12M21.94 25.5h1.12M15.94 26.5h1.12M21.94 26.5h1.12M-13.06 27.5h1.12M-13.06 28.5h1.12M15.94 28.5h1.12M15.94 29.5h1.12M5.94 30.5h1.12M15.94 30.5h1.12M-13.06 31.5h1.12M-16.06 32.5h1.12M18.94 32.5h1.12M21.94 32.5h1.12"/>
<path stroke="#3c3c3c" d="M-9.06 -0.5h1.12M-12.06 1.5h1.12M-10.06 2.5h2.12M15.94 3.5h1.12M13.94 4.5h1.12M15.94 4.5h1.12M18.94 16.5h1.12M19.94 17.5h1.12M19.94 22.5h1.12M18.94 23.5h2.12M-15.06 25.5h1.12M-16.06 26.5h1.12M-14.06 26.5h1.12M16.94 26.5h2.12M-13.06 29.5h1.12M-16.06 30.5h1.12M16.94 30.5h1.12M-16.06 31.5h1.12M7.94 31.5h1.12M17.94 31.5h1.12M21.94 31.5h1.12M-15.06 32.5h2.12M19.94 32.5h2.12"/>
<path stroke="#909090" d="M-5.06 -0.5h2.12M-1.06 -0.5h1.12M2.94 -0.5h1.12M-3.06 0.5h1.12M-13.06 19.5h1.12M-13.06 21.5h1.12M-12.06 26.5h1.12"/>
<path stroke="#969696" d="M-0.06 -0.5h3.12M-13.06 20.5h1.12M-12.06 22.5h1.12M-6.06 28.5h1.12M0.94 28.5h1.12"/>
<path stroke="#363636" d="M-11.06 0.5h3.12M-11.06 1.5h1.12M14.94 2.5h1.12M14.94 3.5h1.12M14.94 4.5h1.12M20.94 24.5h1.12M20.94 25.5h1.12M-15.06 26.5h1.12M-16.06 27.5h1.12M-14.06 27.5h1.12M16.94 27.5h1.12M-14.06 28.5h1.12M16.94 28.5h1.12M16.94 29.5h1.12M-13.06 30.5h1.12M7.94 30.5h1.12M17.94 30.5h1.12M6.94 31.5h1.12"/>
<path stroke="#9c9c9c" d="M-5.06 0.5h2.12M-12.06 23.5h1.12M-12.06 24.5h1.12M-12.06 25.5h1.12M-11.06 26.5h1.12M-10.06 27.5h1.12M-4.06 28.5h1.12M-2.06 28.5h3.12"/>
<path stroke="#0b5e54" d="M-0.06 0.5h1.12M7.94 0.5h1.12M8.94 2.5h1.12M-0.06 4.5h1.12M7.94 4.5h1.12M1.94 6.5h1.12M3.94 6.5h3.12M-5.06 9.5h1.12M-9.06 19.5h2.12M0.94 19.5h1.12M-0.06 20.5h2.12M7.94 21.5h2.12M5.94 22.5h1.12M11.94 22.5h1.12M4.94 23.5h1.12M4.94 24.5h1.12M7.94 27.5h1.12M9.94 27.5h1.12"/>
<path stroke="#0b5260" d="M0.94 0.5h1.12M6.94 0.5h1.12M0.94 1.5h1.12M7.94 2.5h1.12M0.94 4.5h1.12M6.94 4.5h1.12M1.94 5.5h1.12M5.94 5.5h1.12M6.94 22.5h1.12M5.94 23.5h1.12M5.94 24.5h1.12M10.94 25.5h1.12"/>
<path stroke="#0a4c66" d="M1.94 0.5h1.12M5.94 0.5h1.12M6.94 1.5h1.12M0.94 2.5h1.12M6.94 2.5h1.12M0.94 3.5h1.12M6.94 3.5h1.12M5.94 4.5h1.12M2.94 5.5h3.12M7.94 22.5h3.12M6.94 23.5h1.12M10.94 23.5h1.12M10.94 24.5h1.12M6.94 25.5h1.12M7.94 26.5h3.12"/>
<path stroke="#0a466b" d="M2.94 0.5h3.12M1.94 1.5h1.12M1.94 2.5h1.12M1.94 3.5h1.12M5.94 3.5h1.12M1.94 4.5h4.12M8.94 23.5h1.12M6.94 24.5h1.12M9.94 24.5h1.12M7.94 25.5h1.12M9.94 25.5h1.12"/>
<path stroke="#303030" d="M-10.06 1.5h1.12M18.94 24.5h2.12M18.94 25.5h1.12M-15.06 27.5h1.12M21.94 27.5h1.12M-16.06 28.5h2.12M-16.06 29.5h1.12M-14.06 29.5h1.12M6.94 30.5h1.12M21.94 30.5h1.12M-15.06 31.5h2.12M18.94 31.5h2.12"/>
<path stroke="#2a2a2a" d="M-9.06 1.5h1.12M19.94 25.5h1.12M20.94 26.5h1.12M17.94 27.5h1.12M21.94 28.5h1.12M-15.06 29.5h1.12M17.94 29.5h1.12M21.94 29.5h1.12M-15.06 30.5h1.12M20.94 31.5h1.12"/>
<path stroke="#0d7242" d="M-6.06 1.5h1.12M-2.06 1.5h1.12M-6.06 2.5h1.12M-2.06 2.5h1.12M-2.06 3.5h1.12M-8.06 4.5h1.12M8.94 4.5h1.12M-7.06 5.5h1.12M-1.06 5.5h1.12M-5.06 6.5h1.12M-3.06 6.5h1.12M-0.06 6.5h1.12M7.94 6.5h1.12M-7.06 7.5h1.12M-3.06 7.5h1.12M4.94 7.5h1.12M-11.06 8.5h1.12M-8.06 8.5h1.12M-3.06 8.5h1.12M6.94 8.5h1.12M9.94 8.5h1.12M11.94 8.5h1.12M-8.06 9.5h1.12M6.94 9.5h4.12M-2.06 10.5h1.12M6.94 10.5h1.12M8.94 10.5h1.12M-6.06 11.5h1.12M-4.06 11.5h2.12M8.94 11.5h1.12M-5.06 12.5h1.12M8.94 12.5h1.12M11.94 12.5h1.12M7.94 13.5h2.12M8.94 14.5h1.12M11.94 14.5h1.12M10.94 15.5h1.12M-12.06 16.5h1.12M-8.06 16.5h2.12M-12.06 17.5h4.12M-12.06 18.5h2.12M-0.06 18.5h3.12M5.94 18.5h1.12M-12.06 19.5h2.12M-1.06 19.5h1.12M3.94 19.5h2.12M-12.06 20.5h3.12M-6.06 20.5h1.12M3.94 20.5h2.12M-11.06 21.5h4.12M-2.06 21.5h7.12M12.94 21.5h1.12M-4.06 22.5h3.12M3.94 22.5h1.12M13.94 22.5h1.12M-3.06 23.5h1.12M3.94 23.5h1.12M13.94 23.5h1.12M3.94 24.5h1.12M3.94 25.5h1.12M3.94 26.5h2.12M3.94 27.5h3.12"/>
<path stroke="#0e8136" d="M-5.06 1.5h1.12M-5.06 2.5h2.12M-5.06 3.5h2.12M9.94 3.5h1.12M-5.06 4.5h3.12M-10.06 5.5h2.12M-5.06 5.5h2.12M-10.06 6.5h3.12M9.94 6.5h3.12M-10.06 7.5h2.12M0.94 7.5h3.12M-1.06 8.5h1.12M4.94 8.5h1.12M-9.06 9.5h1.12M-1.06 9.5h1.12M-10.06 10.5h2.12M11.94 10.5h1.12M-11.06 11.5h1.12M-7.06 11.5h1.12M4.94 11.5h1.12M11.94 11.5h1.12M-3.06 12.5h2.12M4.94 12.5h1.12M-9.06 13.5h3.12M-4.06 13.5h1.12M3.94 13.5h2.12M-9.06 14.5h2.12M-5.06 14.5h2.12M3.94 14.5h2.12M12.94 14.5h1.12M-11.06 15.5h1.12M-8.06 15.5h1.12M-1.06 15.5h3.12M8.94 15.5h1.12M-10.06 16.5h1.12M-0.06 16.5h2.12M8.94 16.5h1.12M11.94 16.5h1.12M0.94 17.5h1.12M4.94 17.5h8.12M9.94 18.5h1.12M11.94 18.5h1.12M6.94 19.5h1.12M9.94 19.5h2.12M-5.06 20.5h1.12M-3.06 20.5h1.12M11.94 20.5h1.12M13.94 21.5h2.12M-8.06 22.5h3.12M-11.06 23.5h1.12M-5.06 23.5h1.12M-1.06 23.5h1.12M2.94 23.5h1.12M-11.06 24.5h1.12M-2.06 24.5h1.12M2.94 24.5h1.12M-11.06 25.5h1.12M-9.06 26.5h1.12M-4.06 27.5h3.12"/>
<path stroke="#0d7a3c" d="M-4.06 1.5h2.12M-3.06 2.5h1.12M-6.06 3.5h1.12M-3.06 3.5h1.12M-10.06 4.5h2.12M-6.06 4.5h1.12M-2.06 4.5h1.12M-8.06 5.5h1.12M-6.06 5.5h1.12M-3.06 5.5h2.12M8.94 5.5h1.12M-11.06 6.5h1.12M-7.06 6.5h2.12M-4.06 6.5h1.12M-2.06 6.5h2.12M8.94 6.5h1.12M12.94 6.5h1.12M-11.06 7.5h1.12M-8.06 7.5h1.12M-2.06 7.5h3.12M3.94 7.5h1.12M7.94 7.5h6.12M-10.06 8.5h2.12M-2.06 8.5h1.12M5.94 8.5h1.12M10.94 8.5h1.12M12.94 8.5h1.12M-11.06 9.5h2.12M-2.06 9.5h1.12M5.94 9.5h1.12M10.94 9.5h2.12M-11.06 10.5h1.12M-8.06 10.5h1.12M-1.06 10.5h1.12M5.94 10.5h1.12M7.94 10.5h1.12M-2.06 11.5h2.12M5.94 11.5h3.12M-6.06 12.5h1.12M-4.06 12.5h1.12M5.94 12.5h3.12M-6.06 13.5h2.12M5.94 13.5h2.12M12.94 13.5h1.12M-7.06 14.5h2.12M5.94 14.5h3.12M-12.06 15.5h1.12M-7.06 15.5h2.12M9.94 15.5h1.12M11.94 15.5h1.12M-11.06 16.5h1.12M-9.06 16.5h1.12M-6.06 16.5h1.12M9.94 16.5h2.12M-6.06 17.5h1.12M-0.06 17.5h1.12M-6.06 18.5h1.12M2.94 18.5h3.12M6.94 18.5h1.12M-6.06 19.5h1.12M5.94 19.5h1.12M-2.06 20.5h1.12M5.94 20.5h6.12M-12.06 21.5h1.12M-7.06 21.5h5.12M-11.06 22.5h3.12M-5.06 22.5h1.12M-1.06 22.5h1.12M2.94 22.5h1.12M14.94 22.5h1.12M-4.06 23.5h1.12M-2.06 23.5h1.12M14.94 23.5h1.12M-5.06 27.5h1.12"/>
<path stroke="#0c644e" d="M-1.06 1.5h1.12M8.94 1.5h2.12M-1.06 2.5h1.12M9.94 2.5h1.12M-1.06 3.5h1.12M8.94 3.5h1.12M-0.06 5.5h1.12M0.94 6.5h1.12M2.94 6.5h1.12M6.94 6.5h1.12M-6.06 8.5h3.12M-7.06 9.5h2.12M-4.06 9.5h1.12M-6.06 10.5h3.12M10.94 13.5h1.12M-9.06 18.5h2.12M-7.06 19.5h1.12M-0.06 19.5h1.12M1.94 19.5h1.12M-8.06 20.5h1.12M1.94 20.5h1.12M6.94 21.5h1.12M9.94 21.5h1.12M4.94 22.5h1.12M12.94 23.5h1.12M12.94 24.5h1.12M4.94 25.5h1.12M12.94 25.5h1.12M5.94 26.5h1.12M11.94 26.5h1.12M6.94 27.5h1.12"/>
<path stroke="#0b585a" d="M-0.06 1.5h1.12M7.94 1.5h1.12M-0.06 2.5h1.12M-0.06 3.5h1.12M7.94 3.5h1.12M0.94 5.5h1.12M6.94 5.5h1.12M10.94 22.5h1.12M11.94 23.5h1.12M11.94 24.5h1.12M5.94 25.5h1.12M11.94 25.5h1.12M6.94 26.5h1.12M10.94 26.5h1.12M8.94 27.5h1.12"/>
<path stroke="#09406d" d="M2.94 1.5h4.12M2.94 2.5h4.12M2.94 3.5h3.12M7.94 23.5h1.12M9.94 23.5h1.12M7.94 24.5h2.12M8.94 25.5h1.12"/>
<path stroke="#0c6a48" d="M10.94 2.5h1.12M-7.06 3.5h1.12M-7.06 4.5h1.12M-1.06 4.5h1.12M7.94 5.5h1.12M-6.06 7.5h3.12M5.94 7.5h2.12M-7.06 8.5h1.12M7.94 8.5h2.12M-3.06 9.5h1.12M-7.06 10.5h1.12M-3.06 10.5h1.12M9.94 10.5h2.12M-5.06 11.5h1.12M9.94 11.5h2.12M9.94 12.5h2.12M9.94 13.5h1.12M11.94 13.5h1.12M9.94 14.5h2.12M-8.06 17.5h2.12M-10.06 18.5h1.12M-7.06 18.5h1.12M-10.06 19.5h1.12M2.94 19.5h1.12M-9.06 20.5h1.12M-7.06 20.5h1.12M-1.06 20.5h1.12M2.94 20.5h1.12M4.94 21.5h2.12M10.94 21.5h2.12M12.94 22.5h1.12M13.94 24.5h1.12"/>
<path stroke="#0f8930" d="M10.94 3.5h1.12M11.94 4.5h1.12M11.94 5.5h1.12M-0.06 8.5h1.12M13.94 8.5h1.12M4.94 9.5h1.12M12.94 9.5h1.12M4.94 10.5h1.12M-10.06 11.5h1.12M-8.06 11.5h1.12M-0.06 11.5h1.12M-12.06 12.5h3.12M-7.06 12.5h1.12M-1.06 12.5h1.12M3.94 12.5h1.12M12.94 12.5h1.12M-3.06 13.5h2.12M1.94 13.5h2.12M-12.06 14.5h1.12M-3.06 14.5h3.12M0.94 14.5h3.12M-10.06 15.5h2.12M-5.06 15.5h1.12M1.94 15.5h1.12M7.94 15.5h1.12M12.94 15.5h1.12M-1.06 16.5h1.12M7.94 16.5h1.12M12.94 16.5h1.12M1.94 17.5h1.12M-1.06 18.5h1.12M7.94 18.5h2.12M10.94 18.5h1.12M-5.06 19.5h1.12M7.94 19.5h2.12M11.94 19.5h1.12M-4.06 20.5h1.12M12.94 20.5h1.12M14.94 20.5h1.12M-0.06 22.5h1.12M1.94 22.5h1.12M-10.06 23.5h3.12M-6.06 23.5h1.12M-10.06 24.5h1.12M-4.06 24.5h2.12M-1.06 24.5h1.12M-10.06 25.5h2.12M2.94 25.5h1.12M-8.06 26.5h1.12M-6.06 26.5h2.12M2.94 27.5h1.12"/>
<path stroke="#23a020" d="M9.94 4.5h2.12M-0.06 13.5h1.12M-3.06 15.5h1.12M5.94 16.5h1.12M-5.06 17.5h1.12M3.94 17.5h1.12M-4.06 19.5h1.12M-0.06 23.5h1.12M1.94 23.5h1.12M-6.06 24.5h1.12M-7.06 25.5h2.12M-3.06 25.5h1.12M-3.06 26.5h1.12"/>
<path stroke="#10912a" d="M9.94 5.5h1.12M3.94 8.5h1.12M13.94 9.5h1.12M14.94 10.5h1.12M-9.06 11.5h1.12M14.94 11.5h1.12M-9.06 12.5h1.12M1.94 12.5h2.12M13.94 12.5h2.12M-12.06 13.5h1.12M-10.06 13.5h1.12M-1.06 13.5h1.12M13.94 13.5h1.12M-10.06 14.5h1.12M-0.06 14.5h1.12M13.94 14.5h1.12M-2.06 15.5h1.12M2.94 15.5h1.12M4.94 15.5h1.12M6.94 15.5h1.12M1.94 16.5h1.12M12.94 17.5h1.12M14.94 17.5h1.12M12.94 18.5h1.12M14.94 18.5h1.12M-2.06 19.5h1.12M12.94 19.5h3.12M13.94 20.5h1.12M0.94 22.5h1.12M-7.06 23.5h1.12M-9.06 24.5h2.12M-5.06 24.5h1.12M-4.06 25.5h1.12M-7.06 26.5h1.12M-4.06 26.5h1.12M2.94 26.5h1.12M-1.06 27.5h1.12"/>
<path stroke="#179825" d="M10.94 5.5h1.12M-0.06 9.5h1.12M-0.06 10.5h1.12M12.94 10.5h2.12M3.94 11.5h1.12M12.94 11.5h2.12M-8.06 12.5h1.12M-0.06 12.5h2.12M-11.06 13.5h1.12M0.94 13.5h1.12M14.94 13.5h1.12M-11.06 14.5h1.12M14.94 14.5h1.12M-4.06 15.5h1.12M3.94 15.5h1.12M5.94 15.5h1.12M13.94 15.5h2.12M-5.06 16.5h1.12M4.94 16.5h1.12M6.94 16.5h1.12M13.94 16.5h2.12M-1.06 17.5h1.12M2.94 17.5h1.12M13.94 17.5h1.12M-5.06 18.5h1.12M13.94 18.5h1.12M-7.06 24.5h1.12M-8.06 25.5h1.12M-5.06 25.5h1.12M-2.06 25.5h2.12M-2.06 26.5h2.12"/>
<path stroke="#3aaf16" d="M0.94 8.5h1.12M3.94 9.5h1.12M3.94 10.5h1.12M-3.06 19.5h1.12M-0.06 27.5h1.12"/>
<path stroke="#78ca08" d="M1.94 8.5h1.12M1.94 11.5h1.12M-4.06 16.5h1.12M-2.06 18.5h1.12"/>
<path stroke="#46b611" d="M2.94 8.5h1.12M2.94 11.5h1.12M3.94 16.5h1.12M0.94 23.5h1.12M-0.06 24.5h1.12M1.94 24.5h1.12"/>
<path stroke="#acdd00" d="M0.94 9.5h1.12M-2.06 17.5h1.12M-4.06 18.5h1.12M0.94 24.5h1.12M0.94 26.5h1.12"/>
<path stroke="#efee00" d="M1.94 9.5h1.12M1.94 10.5h1.12M-3.06 18.5h1.12"/>
<path stroke="#c3e300" d="M2.94 9.5h1.12M2.94 10.5h1.12M-3.06 16.5h1.12M0.94 25.5h1.12"/>
<path stroke="#93d404" d="M0.94 10.5h1.12"/>
<path stroke="#2ea81b" d="M0.94 11.5h1.12M2.94 16.5h1.12M1.94 27.5h1.12"/>
<path stroke="#5dc00c" d="M-2.06 16.5h1.12M-0.06 25.5h1.12M1.94 25.5h1.12M-0.06 26.5h1.12M1.94 26.5h1.12M0.94 27.5h1.12"/>
<path stroke="#d9e800" d="M-4.06 17.5h1.12"/>
<path stroke="#f9e900" d="M-3.06 17.5h1.12"/>
<path stroke="#a2a2a2" d="M-10.06 26.5h1.12M-6.06 27.5h1.12M-5.06 28.5h1.12M-3.06 28.5h1.12"/>
<path stroke="#242424" d="M18.94 26.5h2.12M18.94 27.5h1.12M20.94 27.5h1.12M17.94 28.5h1.12M20.94 28.5h1.12M20.94 29.5h1.12M-14.06 30.5h1.12M18.94 30.5h3.12"/>
<path stroke="#a8a8a8" d="M-9.06 27.5h1.12M-7.06 27.5h1.12"/>
<path stroke="#aeaeae" d="M-8.06 27.5h1.12"/>
<path stroke="#1e1e1e" d="M19.94 27.5h1.12M18.94 28.5h1.12M18.94 29.5h2.12"/>
<path stroke="#181818" d="M19.94 28.5h1.12"/>
</g></g></g>
<g clip-path="url(#mc2)"><g filter="url(#mb)"><rect x="1419" y="107" width="209.9" height="192.6" fill="#555"/><g transform="translate(1506.50,122.00) scale(5.45)" stroke-width="1.12" fill="none">
<path stroke="#545454" d="M-16.06 -2.5h3.12M-9.06 -2.5h2.12M12.94 -2.5h1.12M14.94 -2.5h3.12M-15.06 -1.5h4.12M-8.06 -1.5h1.12M12.94 -1.5h1.12M16.94 -1.5h1.12M-16.06 -0.5h1.12M16.94 -0.5h1.12M18.94 -0.5h1.12M-15.06 0.5h1.12M11.94 0.5h1.12M17.94 0.5h3.12M21.94 0.5h1.12M-16.06 1.5h2.12M11.94 1.5h1.12M16.94 1.5h1.12M18.94 1.5h4.12M-16.06 2.5h1.12M11.94 2.5h1.12M16.94 2.5h1.12M19.94 2.5h3.12M-16.06 3.5h2.12M-12.06 3.5h1.12M11.94 3.5h1.12M18.94 3.5h1.12M-14.06 4.5h1.12M18.94 4.5h2.12M-16.06 5.5h1.12M-14.06 5.5h1.12M16.94 5.5h2.12M19.94 5.5h1.12M-14.06 6.5h1.12M13.94 6.5h1.12M16.94 6.5h5.12M-16.06 7.5h1.12M-14.06 7.5h1.12M14.94 7.5h2.12M17.94 7.5h1.12M19.94 7.5h1.12M-16.06 8.5h1.12M18.94 8.5h1.12M21.94 8.5h1.12M17.94 9.5h1.12M20.94 9.5h1.12M17.94 10.5h1.12M-14.06 11.5h1.12M20.94 11.5h2.12M-16.06 12.5h1.12M-14.06 12.5h1.12M21.94 12.5h1.12M-16.06 13.5h1.12M17.94 13.5h1.12M21.94 13.5h1.12M20.94 14.5h1.12M-14.06 16.5h1.12M21.94 16.5h1.12M-15.06 17.5h1.12M21.94 17.5h1.12M-15.06 19.5h1.12M21.94 19.5h1.12M-15.06 20.5h1.12M-15.06 21.5h1.12M21.94 21.5h1.12M-15.06 22.5h1.12M21.94 22.5h1.12M-16.06 23.5h1.12M16.94 24.5h1.12M15.94 25.5h1.12M-13.06 26.5h1.12M13.94 28.5h1.12M12.94 29.5h1.12M14.94 29.5h1.12M-9.06 30.5h2.12M-6.06 30.5h1.12M-3.06 30.5h2.12M-0.06 30.5h1.12M1.94 30.5h1.12M3.94 30.5h2.12M12.94 30.5h1.12M-11.06 31.5h3.12M-2.06 31.5h1.12M-0.06 31.5h4.12M-12.06 32.5h1.12M-7.06 32.5h1.12M-5.06 32.5h1.12M-1.06 32.5h2.12M2.94 32.5h2.12M5.94 32.5h1.12M8.94 32.5h1.12M13.94 32.5h3.12"/>
<path stroke="#5a5a5a" d="M-13.06 -2.5h3.12M-7.06 -2.5h1.12M4.94 -2.5h1.12M7.94 -2.5h2.12M11.94 -2.5h1.12M17.94 -2.5h1.12M20.94 -2.5h2.12M-16.06 -1.5h1.12M9.94 -1.5h1.12M11.94 -1.5h1.12M17.94 -1.5h2.12M20.94 -1.5h1.12M-15.06 -0.5h1.12M10.94 -0.5h1.12M17.94 -0.5h1.12M19.94 -0.5h3.12M10.94 0.5h1.12M20.94 0.5h1.12M10.94 1.5h1.12M17.94 1.5h1.12M-8.06 2.5h1.12M17.94 2.5h2.12M-9.06 3.5h1.12M17.94 3.5h1.12M20.94 3.5h2.12M-16.06 4.5h2.12M17.94 4.5h1.12M20.94 4.5h1.12M-15.06 5.5h1.12M-13.06 5.5h1.12M12.94 5.5h1.12M18.94 5.5h1.12M20.94 5.5h2.12M-16.06 6.5h1.12M-13.06 6.5h1.12M21.94 6.5h1.12M13.94 7.5h1.12M16.94 7.5h1.12M18.94 7.5h1.12M20.94 7.5h2.12M16.94 8.5h2.12M21.94 9.5h1.12M-13.06 10.5h1.12M21.94 10.5h1.12M17.94 12.5h1.12M-14.06 13.5h1.12M21.94 14.5h1.12M-16.06 15.5h1.12M-14.06 15.5h1.12M21.94 15.5h1.12M-16.06 16.5h1.12M-16.06 17.5h1.12M-14.06 17.5h1.12M16.94 17.5h1.12M-16.06 18.5h2.12M16.94 18.5h1.12M-16.06 19.5h1.12M16.94 19.5h1.12M-14.06 22.5h1.12M16.94 23.5h1.12M14.94 26.5h1.12M13.94 27.5h1.12M-11.06 29.5h1.12M-9.06 29.5h1.12M13.94 29.5h1.12M-11.06 30.5h2.12M-1.06 30.5h1.12M0.94 30.5h1.12M2.94 30.5h1.12M10.94 30.5h2.12M13.94 30.5h1.12M9.94 31.5h1.12M11.94 31.5h3.12M-11.06 32.5h2.12M-8.06 32.5h1.12M-4.06 32.5h3.12M0.94 32.5h2.12M4.94 32.5h1.12M9.94 32.5h1.12M11.94 32.5h2.12"/>
<path stroke="#4e4e4e" d="M-10.06 -2.5h1.12M13.94 -2.5h1.12M-11.06 -1.5h3.12M15.94 -1.5h1.12M-14.06 -0.5h2.12M-8.06 -0.5h1.12M11.94 -0.5h2.12M-16.06 0.5h1.12M-14.06 0.5h1.12M16.94 0.5h1.12M-14.06 1.5h1.12M-15.06 2.5h1.12M12.94 2.5h1.12M-14.06 3.5h1.12M12.94 3.5h1.12M16.94 3.5h1.12M19.94 3.5h1.12M-13.06 4.5h1.12M12.94 4.5h1.12M16.94 4.5h1.12M13.94 5.5h1.12M-15.06 6.5h1.12M15.94 6.5h1.12M-15.06 7.5h1.12M-15.06 8.5h2.12M19.94 8.5h2.12M-16.06 9.5h3.12M18.94 9.5h1.12M-16.06 10.5h1.12M-14.06 10.5h1.12M20.94 10.5h1.12M-16.06 11.5h2.12M17.94 11.5h1.12M19.94 13.5h2.12M-16.06 14.5h2.12M17.94 14.5h3.12M-15.06 15.5h1.12M-15.06 16.5h1.12M20.94 18.5h2.12M19.94 19.5h2.12M21.94 20.5h1.12M17.94 21.5h1.12M20.94 21.5h1.12M17.94 22.5h1.12M-15.06 23.5h2.12M21.94 23.5h1.12M-12.06 28.5h1.12M14.94 28.5h1.12M-12.06 29.5h1.12M-7.06 30.5h1.12M-5.06 30.5h2.12M8.94 30.5h1.12M14.94 30.5h1.12M-12.06 31.5h1.12M-8.06 31.5h2.12M-3.06 31.5h1.12M-1.06 31.5h1.12M3.94 31.5h2.12M8.94 31.5h1.12M14.94 31.5h1.12M-6.06 32.5h1.12M6.94 32.5h1.12M16.94 32.5h1.12"/>
<path stroke="#606060" d="M-6.06 -2.5h1.12M-3.06 -2.5h1.12M1.94 -2.5h1.12M3.94 -2.5h1.12M5.94 -2.5h2.12M9.94 -2.5h2.12M18.94 -2.5h2.12M-7.06 -1.5h1.12M10.94 -1.5h1.12M19.94 -1.5h1.12M21.94 -1.5h1.12M9.94 -0.5h1.12M-11.06 3.5h2.12M-12.06 4.5h1.12M21.94 4.5h1.12M-13.06 7.5h1.12M-13.06 8.5h1.12M14.94 8.5h2.12M-13.06 9.5h1.12M16.94 9.5h1.12M16.94 10.5h1.12M-14.06 14.5h1.12M16.94 14.5h1.12M16.94 15.5h1.12M16.94 16.5h1.12M-14.06 19.5h1.12M-16.06 20.5h1.12M16.94 20.5h1.12M-16.06 21.5h1.12M16.94 21.5h1.12M-16.06 22.5h1.12M16.94 22.5h1.12M-12.06 27.5h1.12M-11.06 28.5h1.12M-10.06 29.5h1.12M-8.06 29.5h2.12M6.94 29.5h2.12M11.94 29.5h1.12M9.94 30.5h1.12M10.94 31.5h1.12M-9.06 32.5h1.12M10.94 32.5h1.12"/>
<path stroke="#666666" d="M-5.06 -2.5h2.12M-2.06 -2.5h4.12M2.94 -2.5h1.12M5.94 -1.5h2.12M8.94 -1.5h1.12M-7.06 -0.5h1.12M6.94 -0.5h3.12M8.94 0.5h2.12M-7.06 1.5h1.12M-8.06 3.5h1.12M14.94 9.5h2.12M16.94 11.5h1.12M16.94 12.5h1.12M16.94 13.5h1.12M-14.06 18.5h1.12M-14.06 20.5h1.12M-14.06 21.5h1.12M15.94 24.5h1.12M-13.06 25.5h1.12M12.94 28.5h1.12M1.94 29.5h1.12M5.94 29.5h1.12M8.94 29.5h3.12"/>
<path stroke="#787878" d="M-6.06 -1.5h3.12M-2.06 -1.5h1.12M-11.06 5.5h1.12M-12.06 7.5h1.12M-12.06 10.5h1.12M-13.06 13.5h1.12M15.94 13.5h1.12M15.94 14.5h1.12M15.94 15.5h1.12M15.94 16.5h1.12M15.94 21.5h1.12M15.94 22.5h1.12M13.94 25.5h1.12M12.94 27.5h1.12M-7.06 28.5h1.12M10.94 28.5h1.12M-5.06 29.5h2.12M-2.06 29.5h2.12"/>
<path stroke="#727272" d="M-3.06 -1.5h1.12M3.94 -1.5h2.12M5.94 -0.5h1.12M-12.06 5.5h1.12M15.94 11.5h1.12M-13.06 12.5h1.12M15.94 12.5h1.12M15.94 17.5h1.12M15.94 18.5h1.12M15.94 19.5h1.12M15.94 20.5h1.12M15.94 23.5h1.12M14.94 24.5h1.12M13.94 26.5h1.12M-11.06 27.5h1.12M-10.06 28.5h1.12M-3.06 29.5h1.12M-0.06 29.5h2.12M4.94 29.5h1.12"/>
<path stroke="#848484" d="M-1.06 -1.5h1.12M1.94 -1.5h2.12M-3.06 -0.5h1.12M3.94 -0.5h1.12M-13.06 15.5h1.12M-13.06 16.5h1.12M-13.06 17.5h1.12M-13.06 22.5h1.12M4.94 28.5h1.12M6.94 28.5h1.12"/>
<path stroke="#8a8a8a" d="M-0.06 -1.5h2.12M-6.06 0.5h1.12M-13.06 18.5h1.12M11.94 27.5h1.12M1.94 28.5h3.12M5.94 28.5h1.12"/>
<path stroke="#6c6c6c" d="M7.94 -1.5h1.12M-7.06 0.5h1.12M-7.06 2.5h1.12M-11.06 4.5h1.12M15.94 10.5h1.12M-13.06 11.5h1.12M-13.06 23.5h1.12M-13.06 24.5h1.12M14.94 25.5h1.12M11.94 28.5h1.12M-6.06 29.5h1.12M2.94 29.5h2.12"/>
<path stroke="#484848" d="M13.94 -1.5h2.12M-12.06 -0.5h1.12M13.94 -0.5h3.12M12.94 0.5h1.12M-13.06 1.5h1.12M12.94 1.5h1.12M-14.06 2.5h3.12M-13.06 3.5h1.12M14.94 6.5h1.12M19.94 9.5h1.12M-15.06 10.5h1.12M18.94 10.5h1.12M-15.06 12.5h1.12M18.94 12.5h1.12M20.94 12.5h1.12M-15.06 13.5h1.12M18.94 13.5h1.12M17.94 15.5h4.12M20.94 16.5h1.12M17.94 17.5h1.12M20.94 17.5h1.12M19.94 18.5h1.12M17.94 19.5h1.12M17.94 20.5h1.12M19.94 20.5h2.12M18.94 21.5h2.12M20.94 22.5h1.12M-16.06 24.5h3.12M21.94 24.5h1.12M14.94 27.5h2.12M-12.06 30.5h1.12M5.94 30.5h1.12M-6.06 31.5h3.12M15.94 31.5h1.12M-13.06 32.5h1.12M7.94 32.5h1.12M17.94 32.5h1.12"/>
<path stroke="#424242" d="M-11.06 -0.5h2.12M-13.06 0.5h2.12M-8.06 0.5h1.12M13.94 0.5h3.12M-8.06 1.5h1.12M13.94 1.5h3.12M-11.06 2.5h1.12M13.94 2.5h1.12M15.94 2.5h1.12M13.94 3.5h1.12M14.94 5.5h2.12M19.94 10.5h1.12M18.94 11.5h2.12M19.94 12.5h1.12M17.94 16.5h1.12M19.94 16.5h1.12M17.94 18.5h2.12M18.94 19.5h1.12M18.94 20.5h1.12M17.94 23.5h1.12M20.94 23.5h1.12M17.94 24.5h1.12M-16.06 25.5h1.12M-14.06 25.5h1.12M16.94 25.5h2.12M21.94 25.5h1.12M-16.06 26.5h1.12M15.94 26.5h1.12M21.94 26.5h1.12M-13.06 27.5h1.12M-13.06 28.5h1.12M15.94 28.5h1.12M15.94 30.5h1.12M5.94 31.5h1.12M16.94 31.5h1.12M-16.06 32.5h1.12M18.94 32.5h1.12M21.94 32.5h1.12"/>
<path stroke="#3c3c3c" d="M-9.06 -0.5h1.12M-12.06 1.5h2.12M-10.06 2.5h2.12M15.94 3.5h1.12M13.94 4.5h1.12M15.94 4.5h1.12M18.94 16.5h1.12M18.94 17.5h2.12M18.94 22.5h2.12M18.94 23.5h2.12M20.94 24.5h1.12M-15.06 25.5h1.12M-15.06 26.5h2.12M16.94 26.5h2.12M-13.06 29.5h1.12M15.94 29.5h1.12M-16.06 30.5h1.12M7.94 30.5h1.12M16.94 30.5h1.12M-16.06 31.5h1.12M-13.06 31.5h1.12M17.94 31.5h1.12M21.94 31.5h1.12M-15.06 32.5h1.12M19.94 32.5h2.12"/>
<path stroke="#7e7e7e" d="M-6.06 -0.5h1.12M-2.06 -0.5h1.12M4.94 -0.5h1.12M-2.06 0.5h2.12M-12.06 6.5h1.12M-12.06 8.5h1.12M-12.06 9.5h1.12M-12.06 11.5h1.12M-13.06 14.5h1.12M12.94 26.5h1.12M10.94 27.5h1.12M-9.06 28.5h2.12M7.94 28.5h3.12"/>
<path stroke="#909090" d="M-5.06 -0.5h2.12M-1.06 -0.5h1.12M2.94 -0.5h1.12M-3.06 0.5h1.12M-13.06 19.5h1.12M-13.06 21.5h1.12M-12.06 26.5h1.12"/>
<path stroke="#969696" d="M-0.06 -0.5h1.12M1.94 -0.5h1.12M-13.06 20.5h1.12M-12.06 22.5h1.12M-6.06 28.5h1.12M0.94 28.5h1.12"/>
<path stroke="#9c9c9c" d="M0.94 -0.5h1.12M-5.06 0.5h1.12M-12.06 23.5h1.12M-12.06 24.5h1.12M-12.06 25.5h1.12M-10.06 27.5h1.12M-4.06 28.5h1.12M-2.06 28.5h3.12"/>
<path stroke="#363636" d="M-11.06 0.5h3.12M14.94 2.5h1.12M14.94 3.5h1.12M14.94 4.5h1.12M20.94 25.5h1.12M-16.06 27.5h1.12M-14.06 27.5h1.12M16.94 27.5h1.12M21.94 27.5h1.12M-14.06 28.5h1.12M16.94 28.5h1.12M16.94 29.5h1.12M-13.06 30.5h1.12M6.94 30.5h1.12M7.94 31.5h1.12M-14.06 32.5h1.12"/>
<path stroke="#a2a2a2" d="M-4.06 0.5h1.12M-11.06 26.5h2.12M-6.06 27.5h1.12M-5.06 28.5h1.12M-3.06 28.5h1.12"/>
<path stroke="#093a70" d="M-0.06 0.5h1.12M-3.06 1.5h2.12M-3.06 2.5h1.12M-7.06 3.5h1.12M-1.06 3.5h1.12M9.94 3.5h1.12M-10.06 4.5h2.12M-6.06 4.5h1.12M-4.06 4.5h1.12M-1.06 4.5h1.12M11.94 4.5h1.12M-8.06 5.5h1.12M-0.06 5.5h1.12M9.94 5.5h3.12M-7.06 6.5h1.12M2.94 6.5h1.12M9.94 6.5h4.12M-11.06 7.5h1.12M-6.06 7.5h1.12M-1.06 7.5h1.12M2.94 7.5h3.12M11.94 7.5h2.12M-6.06 8.5h2.12M-2.06 8.5h1.12M0.94 8.5h1.12M4.94 8.5h1.12M11.94 8.5h1.12M-3.06 9.5h2.12M1.94 9.5h4.12M12.94 9.5h1.12M-10.06 10.5h3.12M-2.06 10.5h1.12M4.94 10.5h1.12M6.94 10.5h1.12M14.94 10.5h1.12M-10.06 11.5h3.12M-2.06 11.5h1.12M4.94 11.5h1.12M6.94 11.5h1.12M10.94 11.5h1.12M14.94 11.5h1.12M-9.06 12.5h1.12M-2.06 12.5h4.12M2.94 12.5h1.12M7.94 12.5h4.12M12.94 12.5h3.12M-1.06 13.5h1.12M2.94 13.5h2.12M8.94 13.5h1.12M13.94 13.5h2.12M-8.06 14.5h2.12M-1.06 14.5h2.12M2.94 14.5h1.12M8.94 14.5h1.12M14.94 14.5h1.12M-12.06 15.5h2.12M-8.06 15.5h1.12M-6.06 15.5h2.12M2.94 15.5h1.12M7.94 15.5h2.12M14.94 15.5h1.12M-8.06 16.5h1.12M-6.06 16.5h2.12M-0.06 16.5h1.12M1.94 16.5h2.12M8.94 16.5h1.12M10.94 16.5h1.12M12.94 16.5h3.12M-5.06 17.5h1.12M-1.06 17.5h1.12M2.94 17.5h1.12M14.94 17.5h1.12M-10.06 18.5h1.12M-7.06 18.5h1.12M-4.06 18.5h4.12M1.94 18.5h3.12M14.94 18.5h1.12M-10.06 19.5h1.12M-7.06 19.5h1.12M-0.06 19.5h2.12M2.94 19.5h2.12M11.94 19.5h4.12M-10.06 20.5h1.12M-7.06 20.5h1.12M-1.06 20.5h1.12M4.94 20.5h1.12M12.94 20.5h3.12M-10.06 21.5h1.12M-8.06 21.5h2.12M-2.06 21.5h1.12M12.94 21.5h3.12M-9.06 22.5h1.12M-7.06 22.5h2.12M-3.06 22.5h3.12M13.94 22.5h2.12M-11.06 23.5h1.12M-0.06 23.5h4.12M13.94 23.5h1.12M-0.06 24.5h1.12M13.94 24.5h1.12M-8.06 25.5h5.12M-2.06 25.5h4.12M12.94 25.5h1.12M-4.06 26.5h5.12M1.94 26.5h1.12M-4.06 27.5h5.12"/>
<path stroke="#093372" d="M0.94 0.5h1.12M-6.06 1.5h3.12M-1.06 1.5h2.12M-6.06 2.5h3.12M-1.06 2.5h1.12M-6.06 3.5h3.12M8.94 3.5h1.12M10.94 3.5h1.12M-5.06 4.5h1.12M-0.06 4.5h1.12M8.94 4.5h3.12M-10.06 5.5h2.12M0.94 5.5h1.12M7.94 5.5h2.12M-11.06 6.5h1.12M-8.06 6.5h1.12M3.94 6.5h1.12M6.94 6.5h3.12M-7.06 7.5h1.12M-0.06 7.5h1.12M5.94 7.5h1.12M7.94 7.5h4.12M-11.06 8.5h2.12M-7.06 8.5h1.12M5.94 8.5h1.12M7.94 8.5h1.12M13.94 8.5h1.12M-11.06 9.5h6.12M0.94 9.5h1.12M5.94 9.5h3.12M11.94 9.5h1.12M13.94 9.5h1.12M-11.06 10.5h1.12M-7.06 10.5h1.12M-3.06 10.5h1.12M1.94 10.5h3.12M9.94 10.5h2.12M13.94 10.5h1.12M-11.06 11.5h1.12M-7.06 11.5h1.12M-3.06 11.5h1.12M-1.06 11.5h4.12M3.94 11.5h1.12M9.94 11.5h1.12M11.94 11.5h1.12M13.94 11.5h1.12M-12.06 12.5h3.12M-8.06 12.5h2.12M-3.06 12.5h1.12M3.94 12.5h4.12M-10.06 13.5h3.12M-2.06 13.5h1.12M4.94 13.5h1.12M-12.06 14.5h4.12M-6.06 14.5h1.12M3.94 14.5h1.12M-4.06 15.5h1.12M-0.06 15.5h1.12M3.94 15.5h1.12M-10.06 16.5h1.12M-4.06 16.5h1.12M-1.06 16.5h1.12M3.94 16.5h1.12M7.94 16.5h1.12M9.94 16.5h1.12M11.94 16.5h1.12M-10.06 17.5h1.12M-8.06 17.5h3.12M-4.06 17.5h1.12M-2.06 17.5h1.12M3.94 17.5h1.12M13.94 17.5h1.12M-8.06 18.5h1.12M4.94 18.5h1.12M11.94 18.5h3.12M-8.06 19.5h1.12M1.94 19.5h1.12M4.94 19.5h2.12M-8.06 20.5h1.12M-0.06 20.5h1.12M2.94 20.5h2.12M5.94 20.5h1.12M11.94 20.5h1.12M-9.06 21.5h1.12M2.94 21.5h1.12M4.94 21.5h1.12M0.94 22.5h3.12M12.94 22.5h1.12M3.94 23.5h1.12M12.94 23.5h1.12M14.94 23.5h1.12M-11.06 24.5h1.12M0.94 24.5h4.12M12.94 24.5h1.12M-10.06 25.5h1.12M1.94 25.5h2.12M-9.06 26.5h2.12M-6.06 26.5h2.12M-5.06 27.5h1.12M0.94 27.5h2.12"/>
<path stroke="#082777" d="M1.94 0.5h1.12M7.94 0.5h1.12M0.94 1.5h1.12M7.94 1.5h1.12M7.94 3.5h1.12M0.94 4.5h1.12M6.94 5.5h1.12M9.94 8.5h1.12M-4.06 9.5h1.12M-6.06 10.5h1.12M-5.06 12.5h2.12M-5.06 13.5h2.12M7.94 13.5h1.12M5.94 14.5h1.12M-3.06 15.5h1.12M5.94 16.5h1.12M5.94 17.5h2.12M6.94 18.5h2.12M9.94 19.5h1.12M7.94 20.5h1.12M10.94 20.5h1.12M1.94 21.5h1.12M5.94 21.5h1.12M4.94 22.5h1.12M11.94 22.5h1.12M3.94 25.5h1.12M3.94 27.5h1.12"/>
<path stroke="#081d74" d="M2.94 0.5h1.12M5.94 0.5h1.12M1.94 4.5h1.12M6.94 4.5h1.12M-5.06 10.5h2.12M0.94 21.5h1.12M5.94 22.5h1.12M11.94 23.5h1.12M4.94 26.5h2.12M10.94 26.5h1.12M8.94 27.5h2.12"/>
<path stroke="#081872" d="M3.94 0.5h2.12M1.94 1.5h1.12M6.94 1.5h1.12M1.94 2.5h1.12M6.94 2.5h1.12M1.94 3.5h1.12M6.94 3.5h1.12M2.94 4.5h1.12M5.94 4.5h1.12M6.94 21.5h1.12M9.94 21.5h1.12M10.94 22.5h1.12M11.94 24.5h1.12M6.94 27.5h2.12"/>
<path stroke="#082275" d="M6.94 0.5h1.12M0.94 2.5h1.12M7.94 2.5h1.12M0.94 3.5h1.12M2.94 5.5h4.12M-5.06 11.5h2.12M6.94 13.5h1.12M6.94 14.5h1.12M8.94 20.5h2.12M-0.06 21.5h1.12M10.94 21.5h1.12M4.94 23.5h1.12M4.94 24.5h1.12M4.94 25.5h1.12M11.94 25.5h1.12M3.94 26.5h1.12M4.94 27.5h2.12"/>
<path stroke="#303030" d="M-10.06 1.5h1.12M18.94 24.5h2.12M18.94 25.5h2.12M20.94 26.5h1.12M-15.06 27.5h1.12M-16.06 28.5h2.12M-16.06 29.5h1.12M-14.06 29.5h1.12M17.94 30.5h1.12M21.94 30.5h1.12M-14.06 31.5h1.12M6.94 31.5h1.12M19.94 31.5h1.12"/>
<path stroke="#2a2a2a" d="M-9.06 1.5h1.12M17.94 27.5h1.12M20.94 27.5h1.12M21.94 28.5h1.12M-15.06 29.5h1.12M17.94 29.5h1.12M21.94 29.5h1.12M-15.06 30.5h1.12M-15.06 31.5h1.12M18.94 31.5h1.12M20.94 31.5h1.12"/>
<path stroke="#081371" d="M2.94 1.5h1.12M3.94 4.5h2.12M7.94 21.5h1.12M5.94 23.5h1.12M5.94 25.5h1.12M6.94 26.5h1.12M9.94 26.5h1.12"/>
<path stroke="#080f6c" d="M3.94 1.5h1.12M5.94 1.5h1.12M2.94 2.5h2.12M5.94 2.5h1.12M2.94 3.5h4.12M8.94 21.5h1.12M6.94 22.5h1.12M5.94 24.5h1.12M10.94 25.5h1.12M7.94 26.5h1.12"/>
<path stroke="#070d63" d="M4.94 1.5h1.12M4.94 2.5h1.12M9.94 22.5h1.12M10.94 23.5h1.12M10.94 24.5h1.12M8.94 26.5h1.12"/>
<path stroke="#09406d" d="M8.94 1.5h1.12M-2.06 2.5h1.12M-3.06 3.5h2.12M-8.06 4.5h2.12M-3.06 4.5h2.12M-7.06 5.5h4.12M-1.06 5.5h1.12M-6.06 6.5h1.12M-1.06 6.5h4.12M-2.06 7.5h1.12M0.94 7.5h1.12M-4.06 8.5h2.12M1.94 8.5h3.12M12.94 8.5h1.12M5.94 10.5h1.12M5.94 11.5h1.12M1.94 12.5h1.12M11.94 12.5h1.12M-0.06 13.5h3.12M9.94 13.5h1.12M11.94 13.5h1.12M0.94 14.5h2.12M9.94 14.5h2.12M13.94 14.5h1.12M-7.06 15.5h1.12M0.94 15.5h2.12M9.94 15.5h3.12M13.94 15.5h1.12M-12.06 16.5h2.12M-7.06 16.5h1.12M0.94 16.5h1.12M-0.06 17.5h3.12M-6.06 18.5h2.12M-0.06 18.5h2.12M-6.06 19.5h1.12M-2.06 19.5h2.12M-6.06 20.5h1.12M-3.06 20.5h2.12M-6.06 21.5h4.12M-11.06 22.5h2.12M-8.06 22.5h1.12M-5.06 22.5h2.12M-10.06 23.5h8.12M-1.06 23.5h1.12M-10.06 24.5h1.12M-8.06 24.5h5.12M-2.06 24.5h2.12M-9.06 25.5h1.12M-3.06 25.5h1.12M0.94 26.5h1.12"/>
<path stroke="#0c644e" d="M9.94 1.5h1.12"/>
<path stroke="#082d75" d="M-0.06 2.5h1.12M-0.06 3.5h1.12M7.94 4.5h1.12M1.94 5.5h1.12M-10.06 6.5h2.12M4.94 6.5h2.12M-10.06 7.5h3.12M6.94 7.5h1.12M-9.06 8.5h2.12M-1.06 8.5h2.12M6.94 8.5h1.12M8.94 8.5h1.12M10.94 8.5h1.12M-5.06 9.5h1.12M-1.06 9.5h2.12M8.94 9.5h3.12M-1.06 10.5h3.12M7.94 10.5h2.12M11.94 10.5h2.12M-6.06 11.5h1.12M2.94 11.5h1.12M7.94 11.5h2.12M12.94 11.5h1.12M-6.06 12.5h1.12M-12.06 13.5h2.12M-7.06 13.5h2.12M-3.06 13.5h1.12M5.94 13.5h1.12M-5.06 14.5h4.12M4.94 14.5h1.12M7.94 14.5h1.12M-10.06 15.5h2.12M-2.06 15.5h2.12M4.94 15.5h3.12M-9.06 16.5h1.12M-3.06 16.5h2.12M4.94 16.5h1.12M6.94 16.5h1.12M-9.06 17.5h1.12M-3.06 17.5h1.12M4.94 17.5h1.12M7.94 17.5h6.12M-9.06 18.5h1.12M5.94 18.5h1.12M8.94 18.5h3.12M-9.06 19.5h1.12M6.94 19.5h3.12M10.94 19.5h1.12M-9.06 20.5h1.12M0.94 20.5h2.12M6.94 20.5h1.12M-1.06 21.5h1.12M3.94 21.5h1.12M11.94 21.5h1.12M-0.06 22.5h1.12M3.94 22.5h1.12M-11.06 25.5h1.12M-7.06 26.5h1.12M2.94 26.5h1.12M11.94 26.5h1.12M2.94 27.5h1.12"/>
<path stroke="#0a466b" d="M8.94 2.5h1.12M10.94 2.5h1.12M-3.06 5.5h2.12M-5.06 6.5h4.12M-5.06 7.5h3.12M1.94 7.5h1.12M10.94 13.5h1.12M12.94 13.5h1.12M11.94 14.5h2.12M12.94 15.5h1.12M-12.06 17.5h2.12M-12.06 18.5h2.12M-12.06 19.5h2.12M-4.06 19.5h2.12M-12.06 20.5h2.12M-4.06 20.5h1.12M-12.06 21.5h2.12M-2.06 23.5h1.12M-9.06 24.5h1.12M-3.06 24.5h1.12"/>
<path stroke="#0e8136" d="M9.94 2.5h1.12"/>
<path stroke="#0a4c66" d="M-5.06 19.5h1.12M-5.06 20.5h1.12"/>
<path stroke="#070c5a" d="M7.94 22.5h2.12M6.94 23.5h1.12M6.94 25.5h1.12M9.94 25.5h1.12"/>
<path stroke="#060847" d="M7.94 23.5h1.12M7.94 24.5h2.12"/>
<path stroke="#070a51" d="M8.94 23.5h2.12M6.94 24.5h1.12M9.94 24.5h1.12M7.94 25.5h2.12"/>
<path stroke="#242424" d="M18.94 26.5h2.12M18.94 27.5h1.12M17.94 28.5h1.12M20.94 28.5h1.12M20.94 29.5h1.12M-14.06 30.5h1.12M18.94 30.5h1.12M20.94 30.5h1.12"/>
<path stroke="#a8a8a8" d="M-9.06 27.5h1.12M-7.06 27.5h1.12"/>
<path stroke="#aeaeae" d="M-8.06 27.5h1.12"/>
<path stroke="#1e1e1e" d="M19.94 27.5h1.12M18.94 28.5h2.12M19.94 29.5h1.12M19.94 30.5h1.12"/>
<path stroke="#181818" d="M18.94 29.5h1.12"/>
</g></g></g>
<g clip-path="url(#mc3)"><g filter="url(#mb)"><rect x="981" y="371.6" width="210.2" height="191.5" fill="#555"/><g transform="translate(1065.40,385.70) scale(5.45)" stroke-width="1.12" fill="none">
<path stroke="#545454" d="M-16.06 -2.5h3.12M-10.06 -2.5h3.12M13.94 -2.5h4.12M-15.06 -1.5h6.12M16.94 -1.5h1.12M-16.06 -0.5h1.12M-14.06 -0.5h1.12M11.94 -0.5h1.12M18.94 -0.5h1.12M-16.06 0.5h1.12M-14.06 0.5h1.12M11.94 0.5h1.12M17.94 0.5h3.12M21.94 0.5h1.12M-16.06 1.5h1.12M-14.06 1.5h1.12M11.94 1.5h1.12M17.94 1.5h5.12M-16.06 2.5h2.12M-8.06 2.5h1.12M11.94 2.5h2.12M17.94 2.5h5.12M-16.06 3.5h2.12M-12.06 3.5h1.12M11.94 3.5h2.12M17.94 3.5h2.12M-14.06 4.5h1.12M12.94 4.5h1.12M17.94 4.5h4.12M-14.06 5.5h1.12M13.94 5.5h1.12M17.94 5.5h1.12M19.94 5.5h1.12M-15.06 6.5h2.12M17.94 6.5h4.12M-16.06 7.5h3.12M14.94 7.5h4.12M19.94 7.5h2.12M-16.06 8.5h3.12M16.94 8.5h1.12M-16.06 9.5h2.12M17.94 9.5h2.12M21.94 9.5h1.12M-14.06 10.5h1.12M-16.06 11.5h3.12M17.94 11.5h1.12M21.94 11.5h1.12M-14.06 12.5h1.12M21.94 12.5h1.12M-16.06 13.5h1.12M21.94 13.5h1.12M21.94 14.5h1.12M-15.06 15.5h1.12M21.94 15.5h1.12M-15.06 16.5h2.12M21.94 16.5h1.12M-15.06 21.5h1.12M17.94 21.5h1.12M21.94 21.5h1.12M-15.06 22.5h1.12M17.94 22.5h1.12M-16.06 23.5h1.12M16.94 24.5h1.12M15.94 25.5h1.12M-11.06 29.5h1.12M12.94 29.5h1.12M14.94 29.5h1.12M-11.06 30.5h1.12M-9.06 30.5h2.12M-6.06 30.5h1.12M-3.06 30.5h2.12M-0.06 30.5h1.12M1.94 30.5h1.12M10.94 30.5h1.12M12.94 30.5h1.12M-10.06 31.5h3.12M-2.06 31.5h1.12M-0.06 31.5h4.12M4.94 31.5h1.12M9.94 31.5h1.12M14.94 31.5h1.12M-11.06 32.5h1.12M-7.06 32.5h1.12M-5.06 32.5h1.12M-1.06 32.5h2.12M2.94 32.5h2.12M6.94 32.5h1.12M13.94 32.5h1.12M16.94 32.5h1.12"/>
<path stroke="#5a5a5a" d="M-13.06 -2.5h3.12M-7.06 -2.5h2.12M1.94 -2.5h1.12M4.94 -2.5h1.12M7.94 -2.5h2.12M12.94 -2.5h1.12M17.94 -2.5h2.12M20.94 -2.5h2.12M-16.06 -1.5h1.12M-7.06 -1.5h1.12M11.94 -1.5h2.12M17.94 -1.5h2.12M20.94 -1.5h1.12M-15.06 -0.5h1.12M-7.06 -0.5h1.12M10.94 -0.5h1.12M17.94 -0.5h1.12M19.94 -0.5h3.12M-15.06 0.5h1.12M20.94 0.5h1.12M-15.06 1.5h1.12M10.94 1.5h1.12M-9.06 3.5h1.12M20.94 3.5h2.12M-16.06 4.5h2.12M21.94 4.5h1.12M-16.06 5.5h2.12M-13.06 5.5h1.12M18.94 5.5h1.12M20.94 5.5h2.12M-16.06 6.5h1.12M-13.06 6.5h1.12M13.94 6.5h1.12M21.94 6.5h1.12M-13.06 7.5h1.12M13.94 7.5h1.12M21.94 7.5h1.12M-13.06 8.5h1.12M17.94 8.5h2.12M-13.06 9.5h1.12M16.94 9.5h1.12M-13.06 10.5h1.12M17.94 10.5h1.12M21.94 10.5h1.12M-16.06 12.5h1.12M-14.06 13.5h1.12M17.94 13.5h1.12M17.94 14.5h1.12M-16.06 15.5h1.12M-14.06 15.5h1.12M-16.06 17.5h3.12M-15.06 18.5h1.12M-15.06 19.5h1.12M16.94 19.5h1.12M-15.06 20.5h1.12M-14.06 22.5h1.12M14.94 26.5h1.12M-12.06 27.5h1.12M-11.06 28.5h1.12M13.94 28.5h1.12M-9.06 29.5h1.12M7.94 29.5h1.12M13.94 29.5h1.12M-10.06 30.5h1.12M-1.06 30.5h1.12M0.94 30.5h1.12M2.94 30.5h3.12M9.94 30.5h1.12M11.94 30.5h1.12M13.94 30.5h1.12M11.94 31.5h3.12M-10.06 32.5h1.12M-8.06 32.5h1.12M-4.06 32.5h3.12M0.94 32.5h2.12M4.94 32.5h2.12M9.94 32.5h1.12M11.94 32.5h2.12M14.94 32.5h2.12"/>
<path stroke="#606060" d="M-5.06 -2.5h3.12M-0.06 -2.5h1.12M2.94 -2.5h2.12M5.94 -2.5h2.12M9.94 -2.5h3.12M19.94 -2.5h1.12M9.94 -1.5h2.12M19.94 -1.5h1.12M21.94 -1.5h1.12M9.94 -0.5h1.12M-7.06 0.5h1.12M10.94 0.5h1.12M-7.06 1.5h1.12M-7.06 2.5h1.12M-10.06 3.5h1.12M-8.06 3.5h1.12M-12.06 4.5h1.12M12.94 5.5h1.12M18.94 7.5h1.12M14.94 8.5h2.12M16.94 10.5h1.12M17.94 12.5h1.12M-14.06 14.5h1.12M-16.06 16.5h1.12M16.94 17.5h1.12M-16.06 18.5h1.12M16.94 18.5h1.12M-16.06 19.5h1.12M-16.06 20.5h1.12M16.94 20.5h1.12M-16.06 21.5h1.12M16.94 21.5h1.12M-16.06 22.5h1.12M16.94 23.5h1.12M-13.06 25.5h1.12M13.94 27.5h1.12M-10.06 29.5h1.12M-8.06 29.5h2.12M6.94 29.5h1.12M8.94 29.5h1.12M11.94 29.5h1.12M10.94 31.5h1.12M-9.06 32.5h1.12M10.94 32.5h1.12"/>
<path stroke="#666666" d="M-2.06 -2.5h2.12M0.94 -2.5h1.12M5.94 -1.5h1.12M8.94 -1.5h1.12M7.94 -0.5h2.12M8.94 0.5h1.12M-11.06 3.5h1.12M14.94 9.5h2.12M-13.06 11.5h1.12M16.94 11.5h1.12M16.94 12.5h1.12M16.94 13.5h1.12M16.94 14.5h1.12M16.94 15.5h1.12M16.94 16.5h1.12M-14.06 18.5h1.12M-14.06 19.5h1.12M-14.06 21.5h1.12M16.94 22.5h1.12M15.94 24.5h1.12M12.94 28.5h1.12M1.94 29.5h1.12M9.94 29.5h2.12"/>
<path stroke="#4e4e4e" d="M-9.06 -1.5h2.12M13.94 -1.5h1.12M-13.06 -0.5h1.12M12.94 -0.5h1.12M16.94 -0.5h1.12M-13.06 1.5h1.12M12.94 1.5h1.12M16.94 1.5h1.12M-14.06 2.5h3.12M-14.06 3.5h2.12M19.94 3.5h1.12M-13.06 4.5h1.12M16.94 6.5h1.12M19.94 8.5h3.12M-14.06 9.5h1.12M20.94 9.5h1.12M-16.06 10.5h2.12M18.94 10.5h1.12M20.94 11.5h1.12M-15.06 12.5h1.12M18.94 12.5h1.12M-15.06 13.5h1.12M18.94 13.5h1.12M-16.06 14.5h2.12M18.94 14.5h3.12M17.94 15.5h1.12M17.94 17.5h1.12M21.94 17.5h1.12M21.94 18.5h1.12M17.94 19.5h1.12M21.94 19.5h1.12M17.94 20.5h1.12M21.94 20.5h1.12M21.94 22.5h1.12M-15.06 23.5h2.12M-16.06 24.5h1.12M-13.06 26.5h1.12M14.94 27.5h2.12M14.94 28.5h1.12M-7.06 30.5h1.12M-5.06 30.5h1.12M5.94 30.5h1.12M14.94 30.5h1.12M-11.06 31.5h1.12M-7.06 31.5h1.12M-3.06 31.5h1.12M-1.06 31.5h1.12M3.94 31.5h1.12M5.94 31.5h1.12M15.94 31.5h1.12M-12.06 32.5h1.12M-6.06 32.5h1.12M8.94 32.5h1.12M17.94 32.5h1.12"/>
<path stroke="#6c6c6c" d="M-6.06 -1.5h1.12M6.94 -1.5h2.12M6.94 -0.5h1.12M9.94 0.5h1.12M-11.06 4.5h1.12M15.94 10.5h1.12M-13.06 12.5h1.12M-14.06 20.5h1.12M-13.06 23.5h1.12M-13.06 24.5h1.12M14.94 25.5h1.12M11.94 28.5h1.12M-6.06 29.5h1.12M2.94 29.5h1.12M5.94 29.5h1.12"/>
<path stroke="#727272" d="M-5.06 -1.5h4.12M3.94 -1.5h2.12M-12.06 5.5h1.12M-12.06 7.5h1.12M-12.06 10.5h1.12M15.94 11.5h1.12M15.94 12.5h1.12M-13.06 13.5h1.12M15.94 17.5h1.12M15.94 18.5h1.12M15.94 19.5h1.12M15.94 20.5h1.12M15.94 23.5h1.12M14.94 24.5h1.12M13.94 26.5h1.12M-11.06 27.5h1.12M-10.06 28.5h1.12M-3.06 29.5h1.12M-0.06 29.5h2.12M3.94 29.5h2.12"/>
<path stroke="#7e7e7e" d="M-1.06 -1.5h1.12M1.94 -1.5h2.12M-6.06 0.5h1.12M-1.06 0.5h1.12M-13.06 15.5h1.12M-13.06 16.5h1.12M-13.06 17.5h1.12M12.94 26.5h1.12M10.94 27.5h1.12M-9.06 28.5h2.12M7.94 28.5h3.12"/>
<path stroke="#848484" d="M-0.06 -1.5h2.12M-5.06 -0.5h1.12M-2.06 -0.5h1.12M4.94 -0.5h1.12M-2.06 0.5h1.12M-13.06 22.5h1.12M4.94 28.5h1.12M6.94 28.5h1.12"/>
<path stroke="#484848" d="M14.94 -1.5h2.12M-12.06 -0.5h3.12M-8.06 -0.5h1.12M13.94 -0.5h3.12M-13.06 0.5h1.12M12.94 0.5h2.12M16.94 0.5h1.12M13.94 1.5h1.12M-11.06 2.5h1.12M13.94 2.5h1.12M16.94 2.5h1.12M13.94 3.5h1.12M16.94 3.5h1.12M16.94 5.5h1.12M14.94 6.5h2.12M19.94 9.5h1.12M20.94 10.5h1.12M18.94 11.5h1.12M19.94 13.5h2.12M18.94 15.5h1.12M17.94 16.5h1.12M17.94 18.5h1.12M20.94 18.5h1.12M18.94 19.5h2.12M18.94 20.5h2.12M18.94 21.5h1.12M20.94 21.5h1.12M17.94 23.5h1.12M21.94 23.5h1.12M-15.06 24.5h2.12M17.94 24.5h1.12M-16.06 25.5h1.12M16.94 25.5h2.12M-16.06 26.5h1.12M15.94 26.5h1.12M15.94 28.5h1.12M-12.06 29.5h1.12M-4.06 30.5h1.12M15.94 30.5h1.12M-16.06 31.5h1.12M-12.06 31.5h1.12M-6.06 31.5h3.12M16.94 31.5h1.12M-16.06 32.5h1.12M7.94 32.5h1.12"/>
<path stroke="#3c3c3c" d="M-9.06 -0.5h1.12M-11.06 0.5h2.12M-8.06 0.5h1.12M15.94 0.5h1.12M-11.06 1.5h1.12M-8.06 1.5h1.12M15.94 1.5h1.12M-10.06 2.5h2.12M14.94 2.5h1.12M15.94 5.5h1.12M19.94 16.5h1.12M19.94 17.5h1.12M19.94 22.5h1.12M19.94 23.5h2.12M-15.06 25.5h2.12M21.94 25.5h1.12M-15.06 26.5h2.12M21.94 26.5h1.12M-13.06 27.5h1.12M-16.06 28.5h1.12M16.94 28.5h1.12M-16.06 29.5h1.12M16.94 29.5h1.12M17.94 30.5h1.12M-13.06 32.5h1.12M19.94 32.5h1.12M21.94 32.5h1.12"/>
<path stroke="#787878" d="M-6.06 -0.5h1.12M5.94 -0.5h1.12M-11.06 5.5h1.12M-12.06 6.5h1.12M-12.06 8.5h1.12M-12.06 9.5h1.12M-12.06 11.5h1.12M15.94 13.5h1.12M-13.06 14.5h1.12M15.94 14.5h1.12M15.94 15.5h1.12M15.94 16.5h1.12M15.94 21.5h1.12M15.94 22.5h1.12M13.94 25.5h1.12M12.94 27.5h1.12M-7.06 28.5h1.12M10.94 28.5h1.12M-5.06 29.5h2.12M-2.06 29.5h2.12"/>
<path stroke="#909090" d="M-4.06 -0.5h1.12M-1.06 -0.5h1.12M3.94 -0.5h1.12M-13.06 19.5h1.12M-13.06 21.5h1.12M-12.06 22.5h1.12"/>
<path stroke="#8a8a8a" d="M-3.06 -0.5h1.12M-13.06 18.5h1.12M-12.06 26.5h1.12M11.94 27.5h1.12M1.94 28.5h3.12M5.94 28.5h1.12"/>
<path stroke="#969696" d="M-0.06 -0.5h1.12M2.94 -0.5h1.12M-5.06 0.5h1.12M-13.06 20.5h1.12M-12.06 23.5h1.12M-12.06 25.5h1.12M-6.06 28.5h1.12M0.94 28.5h1.12"/>
<path stroke="#9c9c9c" d="M0.94 -0.5h2.12M-3.06 0.5h1.12M-12.06 24.5h1.12M-11.06 26.5h1.12M-10.06 27.5h1.12M-4.06 28.5h1.12M-2.06 28.5h3.12"/>
<path stroke="#424242" d="M-12.06 0.5h1.12M14.94 0.5h1.12M-12.06 1.5h1.12M14.94 1.5h1.12M15.94 2.5h1.12M13.94 4.5h1.12M16.94 4.5h1.12M14.94 5.5h1.12M19.94 10.5h1.12M19.94 11.5h1.12M19.94 12.5h2.12M19.94 15.5h2.12M18.94 16.5h1.12M20.94 16.5h1.12M18.94 17.5h1.12M20.94 17.5h1.12M18.94 18.5h2.12M20.94 19.5h1.12M20.94 20.5h1.12M19.94 21.5h1.12M18.94 22.5h1.12M20.94 22.5h1.12M18.94 23.5h1.12M21.94 24.5h1.12M16.94 26.5h2.12M-16.06 27.5h1.12M16.94 27.5h1.12M-12.06 28.5h1.12M15.94 29.5h1.12M-16.06 30.5h1.12M-12.06 30.5h1.12M8.94 30.5h1.12M16.94 30.5h1.12M8.94 31.5h1.12M17.94 31.5h1.12M-15.06 32.5h1.12M18.94 32.5h1.12"/>
<path stroke="#363636" d="M-9.06 0.5h1.12M14.94 3.5h2.12M14.94 4.5h2.12M18.94 24.5h1.12M20.94 24.5h1.12M18.94 25.5h1.12M-15.06 27.5h1.12M17.94 27.5h1.12M-15.06 28.5h3.12M-13.06 29.5h1.12M6.94 30.5h2.12M-13.06 31.5h1.12M6.94 31.5h1.12M-14.06 32.5h1.12M20.94 32.5h1.12"/>
<path stroke="#a2a2a2" d="M-4.06 0.5h1.12M-10.06 26.5h1.12M-6.06 27.5h1.12M-5.06 28.5h1.12M-3.06 28.5h1.12"/>
<path stroke="#179825" d="M-0.06 0.5h1.12M7.94 0.5h1.12"/>
<path stroke="#c3e300" d="M0.94 0.5h1.12M0.94 3.5h1.12M7.94 23.5h1.12"/>
<path stroke="#fbdc00" d="M1.94 0.5h1.12M2.94 3.5h2.12"/>
<path stroke="#ffc400" d="M2.94 0.5h1.12M1.94 1.5h1.12M5.94 1.5h1.12M2.94 2.5h1.12M5.94 2.5h1.12"/>
<path stroke="#ffb700" d="M3.94 0.5h1.12M3.94 2.5h2.12"/>
<path stroke="#fdd000" d="M4.94 0.5h1.12M1.94 2.5h1.12M4.94 3.5h2.12"/>
<path stroke="#f9e900" d="M5.94 0.5h1.12M0.94 1.5h1.12M1.94 3.5h1.12"/>
<path stroke="#acdd00" d="M6.94 0.5h1.12M0.94 4.5h1.12M6.94 4.5h1.12M9.94 24.5h1.12M8.94 25.5h1.12"/>
<path stroke="#303030" d="M-10.06 1.5h1.12M19.94 24.5h1.12M19.94 25.5h2.12M-14.06 27.5h1.12M17.94 28.5h1.12M17.94 29.5h1.12M-15.06 30.5h1.12M-13.06 30.5h1.12M-15.06 31.5h2.12M7.94 31.5h1.12M18.94 31.5h2.12M21.94 31.5h1.12"/>
<path stroke="#2a2a2a" d="M-9.06 1.5h1.12M18.94 26.5h1.12M20.94 26.5h1.12M18.94 27.5h1.12M21.94 27.5h1.12M-15.06 29.5h2.12M18.94 30.5h1.12M21.94 30.5h1.12M20.94 31.5h1.12"/>
<path stroke="#082777" d="M-6.06 1.5h1.12M-6.06 2.5h1.12M10.94 2.5h1.12M-6.06 3.5h3.12M10.94 3.5h1.12M-9.06 4.5h1.12M-7.06 4.5h1.12M-4.06 4.5h2.12M11.94 4.5h1.12M11.94 5.5h1.12M-10.06 6.5h2.12M10.94 6.5h1.12M8.94 7.5h2.12M-11.06 8.5h1.12M-6.06 8.5h1.12M-4.06 8.5h2.12M-0.06 8.5h1.12M4.94 8.5h1.12M13.94 8.5h1.12M13.94 9.5h1.12M-7.06 10.5h1.12M5.94 10.5h4.12M-7.06 11.5h1.12M-3.06 11.5h1.12M-1.06 11.5h1.12M5.94 11.5h4.12M-6.06 12.5h1.12M-3.06 12.5h2.12M5.94 12.5h2.12M14.94 12.5h1.12M-5.06 13.5h3.12M5.94 13.5h2.12M9.94 13.5h1.12M14.94 13.5h1.12M-12.06 14.5h1.12M4.94 14.5h2.12M9.94 14.5h1.12M-12.06 15.5h2.12M-7.06 15.5h2.12M4.94 15.5h3.12M5.94 16.5h2.12M-9.06 17.5h1.12M-1.06 17.5h2.12M5.94 17.5h1.12M-0.06 18.5h1.12M5.94 18.5h1.12M-12.06 19.5h1.12M-7.06 19.5h1.12M-1.06 19.5h1.12M2.94 19.5h1.12M10.94 19.5h1.12M-7.06 20.5h1.12M-2.06 20.5h1.12M3.94 20.5h1.12M5.94 20.5h1.12M10.94 20.5h1.12M-5.06 21.5h2.12M5.94 21.5h1.12M11.94 21.5h1.12M-5.06 22.5h2.12M-1.06 22.5h1.12M2.94 22.5h1.12M12.94 22.5h3.12M-5.06 23.5h2.12M14.94 23.5h1.12M-4.06 24.5h1.12M-2.06 24.5h2.12M-3.06 25.5h7.12M-7.06 26.5h2.12M-3.06 26.5h4.12M3.94 26.5h1.12M-3.06 27.5h2.12M0.94 27.5h2.12"/>
<path stroke="#093a70" d="M-5.06 1.5h1.12M9.94 3.5h1.12M-2.06 4.5h1.12M9.94 4.5h1.12M9.94 5.5h1.12M-2.06 7.5h1.12M-2.06 10.5h2.12M-6.06 11.5h1.12M-11.06 21.5h1.12M-8.06 21.5h1.12M6.94 21.5h1.12M10.94 21.5h1.12M-11.06 22.5h1.12M5.94 22.5h1.12M4.94 23.5h1.12M3.94 24.5h1.12M4.94 25.5h1.12M4.94 26.5h1.12M4.94 27.5h1.12"/>
<path stroke="#0b5260" d="M-4.06 1.5h1.12M-1.06 5.5h1.12M6.94 6.5h1.12M-1.06 8.5h1.12M14.94 10.5h1.12M-9.06 19.5h1.12M8.94 21.5h1.12M10.94 22.5h1.12M5.94 23.5h1.12M11.94 24.5h1.12M5.94 26.5h1.12"/>
<path stroke="#0c6a48" d="M-3.06 1.5h1.12M-5.06 10.5h1.12M12.94 25.5h1.12M10.94 26.5h1.12"/>
<path stroke="#0d7242" d="M-2.06 1.5h2.12M-1.06 2.5h1.12M-11.06 24.5h1.12M6.94 26.5h1.12M8.94 27.5h1.12"/>
<path stroke="#3aaf16" d="M-0.06 1.5h1.12M-0.06 2.5h1.12M8.94 22.5h1.12"/>
<path stroke="#ffab00" d="M2.94 1.5h3.12"/>
<path stroke="#efee00" d="M6.94 1.5h1.12M0.94 2.5h1.12M6.94 2.5h1.12M1.94 4.5h5.12M8.94 23.5h1.12M8.94 24.5h1.12"/>
<path stroke="#2ea81b" d="M7.94 1.5h1.12M7.94 2.5h1.12M-0.06 3.5h1.12M7.94 3.5h1.12M6.94 24.5h1.12"/>
<path stroke="#0b585a" d="M8.94 1.5h1.12M-3.06 2.5h1.12M0.94 6.5h1.12M5.94 6.5h1.12M-9.06 20.5h1.12M-0.06 20.5h1.12M5.94 24.5h1.12M5.94 25.5h1.12M5.94 27.5h1.12"/>
<path stroke="#093372" d="M9.94 1.5h1.12M-5.06 2.5h1.12M9.94 2.5h1.12M-2.06 5.5h1.12M-2.06 6.5h1.12M8.94 6.5h1.12M-0.06 7.5h2.12M2.94 7.5h3.12M-5.06 8.5h1.12M-4.06 11.5h1.12M14.94 11.5h1.12M-9.06 18.5h1.12M0.94 19.5h1.12M-10.06 20.5h1.12M-1.06 20.5h1.12M2.94 20.5h1.12M11.94 22.5h1.12"/>
<path stroke="#0a466b" d="M-4.06 2.5h1.12M7.94 6.5h1.12M-11.06 7.5h1.12M-4.06 10.5h1.12M-5.06 11.5h1.12M8.94 13.5h1.12M7.94 14.5h2.12M-8.06 19.5h1.12M-12.06 21.5h1.12M-9.06 21.5h1.12M9.94 21.5h1.12"/>
<path stroke="#0b5e54" d="M-2.06 2.5h1.12M8.94 2.5h1.12M8.94 3.5h1.12M-1.06 4.5h1.12M8.94 4.5h1.12M1.94 6.5h4.12M-5.06 9.5h1.12M1.94 20.5h1.12M9.94 27.5h1.12"/>
<path stroke="#082275" d="M-7.06 3.5h1.12M-8.06 4.5h1.12M-6.06 4.5h2.12M-9.06 5.5h2.12M-5.06 5.5h3.12M-3.06 6.5h1.12M11.94 6.5h2.12M-10.06 7.5h2.12M-5.06 7.5h3.12M10.94 7.5h3.12M-10.06 8.5h1.12M3.94 8.5h1.12M5.94 8.5h4.12M12.94 8.5h1.12M-11.06 9.5h1.12M-7.06 9.5h1.12M-0.06 9.5h1.12M4.94 9.5h4.12M-11.06 10.5h4.12M4.94 10.5h1.12M9.94 10.5h1.12M-11.06 11.5h4.12M4.94 11.5h1.12M9.94 11.5h1.12M13.94 11.5h1.12M-12.06 12.5h6.12M-1.06 12.5h1.12M4.94 12.5h1.12M9.94 12.5h1.12M13.94 12.5h1.12M-12.06 13.5h1.12M-10.06 13.5h3.12M-6.06 13.5h1.12M-2.06 13.5h2.12M3.94 13.5h2.12M13.94 13.5h1.12M-11.06 14.5h10.12M2.94 14.5h2.12M12.94 14.5h3.12M-10.06 15.5h1.12M-8.06 15.5h1.12M2.94 15.5h2.12M9.94 15.5h1.12M11.94 15.5h3.12M-12.06 16.5h3.12M-8.06 16.5h1.12M-6.06 16.5h2.12M-1.06 16.5h3.12M2.94 16.5h3.12M7.94 16.5h3.12M11.94 16.5h3.12M-10.06 17.5h1.12M-8.06 17.5h1.12M-5.06 17.5h1.12M0.94 17.5h5.12M6.94 17.5h1.12M9.94 17.5h6.12M-10.06 18.5h1.12M-1.06 18.5h1.12M0.94 18.5h1.12M2.94 18.5h3.12M6.94 18.5h1.12M9.94 18.5h3.12M13.94 18.5h2.12M-11.06 19.5h1.12M-6.06 19.5h2.12M-2.06 19.5h1.12M3.94 19.5h7.12M11.94 19.5h1.12M13.94 19.5h2.12M-6.06 20.5h4.12M4.94 20.5h1.12M11.94 20.5h1.12M13.94 20.5h2.12M-7.06 21.5h2.12M-3.06 21.5h2.12M3.94 21.5h2.12M12.94 21.5h3.12M-10.06 22.5h1.12M-8.06 22.5h1.12M-3.06 22.5h2.12M3.94 22.5h1.12M-10.06 23.5h2.12M-6.06 23.5h1.12M-3.06 23.5h2.12M13.94 23.5h1.12M-10.06 24.5h1.12M-6.06 24.5h2.12M-3.06 24.5h1.12M-10.06 25.5h1.12M-7.06 25.5h4.12M-8.06 26.5h1.12M-4.06 26.5h1.12M0.94 26.5h3.12M-4.06 27.5h1.12M-1.06 27.5h2.12M2.94 27.5h2.12"/>
<path stroke="#082d75" d="M-3.06 3.5h1.12M10.94 4.5h1.12M10.94 5.5h1.12M9.94 6.5h1.12M1.94 7.5h1.12M5.94 7.5h3.12M-3.06 9.5h1.12M-3.06 10.5h1.12M13.94 10.5h1.12M-2.06 11.5h1.12M-5.06 12.5h2.12M7.94 12.5h2.12M6.94 14.5h1.12M7.94 15.5h2.12M-8.06 18.5h1.12M-10.06 19.5h1.12M-0.06 19.5h1.12M1.94 19.5h1.12M6.94 20.5h4.12M-10.06 21.5h1.12M-1.06 21.5h1.12M2.94 21.5h1.12M-9.06 22.5h1.12M-0.06 22.5h3.12M4.94 22.5h1.12M-1.06 23.5h6.12M12.94 23.5h1.12M-0.06 24.5h4.12M13.94 24.5h1.12M3.94 25.5h1.12"/>
<path stroke="#09406d" d="M-2.06 3.5h1.12M-10.06 5.5h1.12M-1.06 6.5h1.12M-1.06 7.5h1.12M-6.06 9.5h1.12M-4.06 9.5h1.12M7.94 13.5h1.12M-11.06 20.5h1.12M-0.06 21.5h1.12M1.94 21.5h1.12M11.94 23.5h1.12M4.94 24.5h1.12M12.94 24.5h1.12"/>
<path stroke="#0c644e" d="M-1.06 3.5h1.12M-11.06 6.5h1.12M6.94 22.5h1.12M-11.06 23.5h1.12"/>
<path stroke="#d9e800" d="M6.94 3.5h1.12M7.94 24.5h1.12"/>
<path stroke="#46b611" d="M-10.06 4.5h1.12M1.94 5.5h2.12M4.94 5.5h2.12M9.94 25.5h1.12"/>
<path stroke="#23a020" d="M-0.06 4.5h1.12M7.94 4.5h1.12M0.94 5.5h1.12M6.94 5.5h1.12M7.94 22.5h1.12M6.94 23.5h1.12"/>
<path stroke="#081d74" d="M-7.06 5.5h2.12M-8.06 6.5h1.12M-6.06 6.5h3.12M-8.06 7.5h1.12M-6.06 7.5h1.12M-9.06 8.5h3.12M0.94 8.5h1.12M2.94 8.5h1.12M9.94 8.5h3.12M-10.06 9.5h3.12M8.94 9.5h5.12M-0.06 10.5h1.12M10.94 10.5h3.12M-0.06 11.5h1.12M10.94 11.5h3.12M-0.06 12.5h1.12M2.94 12.5h2.12M10.94 12.5h3.12M-11.06 13.5h1.12M-7.06 13.5h1.12M-0.06 13.5h4.12M10.94 13.5h3.12M-1.06 14.5h4.12M10.94 14.5h2.12M-9.06 15.5h1.12M-5.06 15.5h8.12M10.94 15.5h1.12M14.94 15.5h1.12M-9.06 16.5h1.12M-7.06 16.5h1.12M1.94 16.5h1.12M10.94 16.5h1.12M14.94 16.5h1.12M-12.06 17.5h2.12M-6.06 17.5h1.12M7.94 17.5h2.12M-12.06 18.5h2.12M-7.06 18.5h3.12M1.94 18.5h1.12M7.94 18.5h2.12M12.94 18.5h1.12M-4.06 19.5h1.12M12.94 19.5h1.12M12.94 20.5h1.12M-7.06 22.5h2.12M-8.06 23.5h2.12M-9.06 24.5h3.12M-9.06 25.5h2.12M-5.06 26.5h1.12M-5.06 27.5h1.12"/>
<path stroke="#0d7a3c" d="M-0.06 5.5h1.12M7.94 5.5h1.12M0.94 20.5h1.12M10.94 23.5h1.12M11.94 25.5h1.12M9.94 26.5h1.12"/>
<path stroke="#5dc00c" d="M3.94 5.5h1.12"/>
<path stroke="#0a4c66" d="M8.94 5.5h1.12M-0.06 6.5h1.12M-2.06 8.5h1.12M-2.06 9.5h2.12M-6.06 10.5h1.12M-12.06 20.5h1.12M-8.06 20.5h1.12M0.94 21.5h1.12M7.94 21.5h1.12M-11.06 25.5h1.12"/>
<path stroke="#081872" d="M-7.06 6.5h1.12M-7.06 7.5h1.12M1.94 8.5h1.12M3.94 9.5h1.12M3.94 10.5h1.12M3.94 11.5h1.12M0.94 12.5h2.12M-4.06 16.5h1.12M-2.06 16.5h1.12M-7.06 17.5h1.12M-2.06 17.5h1.12M-2.06 18.5h1.12M-3.06 19.5h1.12M-9.06 26.5h1.12"/>
<path stroke="#081371" d="M0.94 9.5h1.12M0.94 11.5h1.12M-3.06 16.5h1.12M-4.06 17.5h1.12M-4.06 18.5h1.12"/>
<path stroke="#070d63" d="M1.94 9.5h1.12M2.94 10.5h1.12M-3.06 17.5h1.12"/>
<path stroke="#080f6c" d="M2.94 9.5h1.12M0.94 10.5h1.12M1.94 11.5h2.12M-3.06 18.5h1.12"/>
<path stroke="#070c5a" d="M1.94 10.5h1.12"/>
<path stroke="#0f8930" d="M9.94 22.5h1.12M10.94 24.5h1.12M7.94 27.5h1.12"/>
<path stroke="#78ca08" d="M9.94 23.5h1.12M7.94 25.5h1.12"/>
<path stroke="#10912a" d="M6.94 25.5h1.12M7.94 26.5h2.12"/>
<path stroke="#0e8136" d="M10.94 25.5h1.12M11.94 26.5h1.12M6.94 27.5h1.12"/>
<path stroke="#242424" d="M19.94 26.5h1.12M20.94 27.5h1.12M18.94 28.5h1.12M21.94 28.5h1.12M21.94 29.5h1.12M19.94 30.5h2.12"/>
<path stroke="#a8a8a8" d="M-9.06 27.5h1.12M-7.06 27.5h1.12"/>
<path stroke="#aeaeae" d="M-8.06 27.5h1.12"/>
<path stroke="#1e1e1e" d="M19.94 27.5h1.12M20.94 28.5h1.12M18.94 29.5h3.12M-14.06 30.5h1.12"/>
<path stroke="#181818" d="M19.94 28.5h1.12"/>
</g></g></g>
<g clip-path="url(#mc4)"><g filter="url(#mb)"><rect x="1198.5" y="373" width="210.9" height="189.6" fill="#555"/><g transform="translate(1286.50,387.80) scale(5.45)" stroke-width="1.12" fill="none">
<path stroke="#5a5a5a" d="M-17.06 -2.5h1.12M-13.06 -2.5h3.12M-7.06 -2.5h1.12M4.94 -2.5h1.12M7.94 -2.5h2.12M12.94 -2.5h1.12M17.94 -2.5h1.12M20.94 -2.5h2.12M-17.06 -1.5h2.12M9.94 -1.5h1.12M11.94 -1.5h1.12M17.94 -1.5h2.12M20.94 -1.5h1.12M-17.06 -0.5h1.12M-15.06 -0.5h1.12M10.94 -0.5h1.12M17.94 -0.5h1.12M19.94 -0.5h3.12M10.94 0.5h1.12M20.94 0.5h1.12M-17.06 1.5h1.12M10.94 1.5h1.12M17.94 1.5h1.12M-17.06 2.5h1.12M-8.06 2.5h1.12M18.94 2.5h1.12M-17.06 3.5h1.12M-9.06 3.5h1.12M17.94 3.5h1.12M20.94 3.5h2.12M-15.06 4.5h1.12M17.94 4.5h1.12M20.94 4.5h1.12M-17.06 5.5h1.12M-13.06 5.5h1.12M12.94 5.5h1.12M17.94 5.5h2.12M20.94 5.5h2.12M-17.06 6.5h1.12M21.94 6.5h1.12M-17.06 7.5h1.12M13.94 7.5h1.12M16.94 7.5h1.12M18.94 7.5h1.12M20.94 7.5h2.12M-17.06 8.5h1.12M16.94 8.5h2.12M21.94 9.5h1.12M21.94 10.5h1.12M-17.06 11.5h1.12M-17.06 12.5h1.12M17.94 12.5h1.12M-17.06 13.5h1.12M-14.06 13.5h1.12M21.94 14.5h1.12M-16.06 15.5h1.12M-14.06 15.5h1.12M21.94 15.5h1.12M-17.06 16.5h2.12M-16.06 17.5h1.12M-14.06 17.5h1.12M16.94 17.5h1.12M-16.06 18.5h2.12M16.94 18.5h1.12M-16.06 19.5h1.12M16.94 19.5h1.12M-17.06 21.5h1.12M-17.06 22.5h1.12M-14.06 22.5h1.12M16.94 23.5h1.12M14.94 26.5h1.12M13.94 27.5h1.12M-11.06 29.5h1.12M-9.06 29.5h3.12M13.94 29.5h1.12M-11.06 30.5h2.12M2.94 30.5h1.12M11.94 30.5h1.12M13.94 30.5h1.12M-10.06 31.5h2.12M-2.06 31.5h1.12M-0.06 31.5h4.12M9.94 31.5h1.12M11.94 31.5h3.12"/>
<path stroke="#545454" d="M-16.06 -2.5h3.12M-9.06 -2.5h2.12M14.94 -2.5h3.12M-15.06 -1.5h4.12M-8.06 -1.5h1.12M12.94 -1.5h1.12M16.94 -1.5h1.12M-16.06 -0.5h1.12M16.94 -0.5h1.12M18.94 -0.5h1.12M-17.06 0.5h1.12M-15.06 0.5h1.12M11.94 0.5h1.12M17.94 0.5h3.12M21.94 0.5h1.12M-16.06 1.5h2.12M11.94 1.5h1.12M16.94 1.5h1.12M18.94 1.5h4.12M-16.06 2.5h1.12M11.94 2.5h1.12M16.94 2.5h2.12M19.94 2.5h3.12M-16.06 3.5h2.12M-12.06 3.5h1.12M11.94 3.5h1.12M18.94 3.5h1.12M-16.06 4.5h1.12M-14.06 4.5h1.12M18.94 4.5h2.12M-16.06 5.5h3.12M16.94 5.5h1.12M19.94 5.5h1.12M-16.06 6.5h1.12M-14.06 6.5h1.12M13.94 6.5h1.12M16.94 6.5h5.12M-16.06 7.5h1.12M-14.06 7.5h1.12M14.94 7.5h2.12M17.94 7.5h1.12M19.94 7.5h1.12M-16.06 8.5h1.12M18.94 8.5h1.12M-17.06 9.5h1.12M17.94 9.5h1.12M20.94 9.5h1.12M-17.06 10.5h1.12M17.94 10.5h1.12M-14.06 11.5h1.12M20.94 11.5h2.12M-16.06 12.5h1.12M-14.06 12.5h1.12M21.94 12.5h1.12M17.94 13.5h1.12M21.94 13.5h1.12M-17.06 14.5h1.12M17.94 14.5h1.12M20.94 14.5h1.12M-17.06 15.5h1.12M-14.06 16.5h1.12M21.94 16.5h1.12M-15.06 17.5h1.12M21.94 17.5h1.12M-17.06 18.5h1.12M-17.06 19.5h1.12M-15.06 19.5h1.12M21.94 19.5h1.12M-17.06 20.5h1.12M-15.06 20.5h1.12M-15.06 21.5h1.12M21.94 21.5h1.12M21.94 22.5h1.12M-17.06 23.5h1.12M-17.06 24.5h1.12M-13.06 26.5h1.12M13.94 28.5h1.12M6.94 29.5h2.12M12.94 29.5h1.12M14.94 29.5h1.12M-1.06 30.5h1.12M0.94 30.5h2.12M3.94 30.5h1.12M10.94 30.5h1.12M12.94 30.5h1.12M-11.06 31.5h1.12M-8.06 31.5h6.12M-1.06 31.5h1.12M4.94 31.5h1.12M8.94 31.5h1.12"/>
<path stroke="#4e4e4e" d="M-10.06 -2.5h1.12M13.94 -2.5h1.12M-11.06 -1.5h3.12M-14.06 -0.5h2.12M-8.06 -0.5h1.12M11.94 -0.5h2.12M-16.06 0.5h1.12M-14.06 0.5h1.12M16.94 0.5h1.12M-14.06 1.5h1.12M-15.06 2.5h1.12M12.94 2.5h1.12M-14.06 3.5h1.12M12.94 3.5h1.12M16.94 3.5h1.12M19.94 3.5h1.12M-13.06 4.5h1.12M12.94 4.5h1.12M13.94 5.5h1.12M-15.06 6.5h1.12M15.94 6.5h1.12M-15.06 7.5h1.12M-15.06 8.5h2.12M19.94 8.5h3.12M-16.06 9.5h3.12M18.94 9.5h1.12M-14.06 10.5h1.12M20.94 10.5h1.12M-16.06 11.5h2.12M17.94 11.5h1.12M-16.06 13.5h1.12M20.94 13.5h1.12M-16.06 14.5h1.12M18.94 14.5h2.12M-15.06 15.5h1.12M-15.06 16.5h1.12M20.94 18.5h2.12M19.94 19.5h1.12M21.94 20.5h1.12M17.94 21.5h1.12M20.94 21.5h1.12M-15.06 22.5h1.12M17.94 22.5h1.12M-16.06 23.5h3.12M16.94 24.5h1.12M15.94 25.5h1.12M-12.06 28.5h1.12M14.94 28.5h1.12M-12.06 29.5h1.12M-9.06 30.5h2.12M-3.06 30.5h2.12M-0.06 30.5h1.12M4.94 30.5h1.12M8.94 30.5h1.12M14.94 30.5h1.12M-12.06 31.5h1.12M3.94 31.5h1.12M5.94 31.5h1.12M14.94 31.5h1.12"/>
<path stroke="#606060" d="M-6.06 -2.5h2.12M-3.06 -2.5h1.12M1.94 -2.5h1.12M3.94 -2.5h1.12M5.94 -2.5h2.12M9.94 -2.5h3.12M18.94 -2.5h2.12M-7.06 -1.5h1.12M10.94 -1.5h1.12M19.94 -1.5h1.12M21.94 -1.5h1.12M9.94 -0.5h1.12M-11.06 3.5h2.12M-17.06 4.5h1.12M-12.06 4.5h1.12M21.94 4.5h1.12M-13.06 6.5h1.12M-13.06 7.5h1.12M-13.06 8.5h1.12M14.94 8.5h2.12M-13.06 9.5h1.12M16.94 9.5h1.12M-13.06 10.5h1.12M16.94 10.5h1.12M-14.06 14.5h1.12M16.94 15.5h1.12M16.94 16.5h1.12M-17.06 17.5h1.12M-14.06 19.5h1.12M-16.06 20.5h1.12M16.94 20.5h1.12M-16.06 21.5h1.12M16.94 21.5h1.12M-16.06 22.5h1.12M16.94 22.5h1.12M15.94 24.5h1.12M-12.06 27.5h1.12M-11.06 28.5h1.12M-10.06 29.5h1.12M5.94 29.5h1.12M8.94 29.5h1.12M11.94 29.5h1.12M9.94 30.5h1.12M10.94 31.5h1.12"/>
<path stroke="#666666" d="M-4.06 -2.5h1.12M-2.06 -2.5h4.12M2.94 -2.5h1.12M5.94 -1.5h2.12M8.94 -1.5h1.12M-7.06 -0.5h1.12M6.94 -0.5h3.12M8.94 0.5h2.12M-8.06 3.5h1.12M14.94 9.5h2.12M16.94 11.5h1.12M16.94 12.5h1.12M16.94 13.5h1.12M16.94 14.5h1.12M-14.06 18.5h1.12M-14.06 20.5h1.12M-14.06 21.5h1.12M-13.06 25.5h1.12M12.94 28.5h1.12M-6.06 29.5h1.12M1.94 29.5h2.12M9.94 29.5h2.12"/>
<path stroke="#787878" d="M-6.06 -1.5h3.12M-2.06 -1.5h1.12M-11.06 5.5h1.12M-12.06 7.5h1.12M-12.06 10.5h1.12M-13.06 13.5h1.12M15.94 13.5h1.12M15.94 14.5h1.12M15.94 15.5h1.12M15.94 16.5h1.12M15.94 21.5h1.12M15.94 22.5h1.12M13.94 25.5h1.12M12.94 27.5h1.12M-7.06 28.5h1.12M10.94 28.5h1.12M-1.06 29.5h1.12"/>
<path stroke="#727272" d="M-3.06 -1.5h1.12M3.94 -1.5h2.12M5.94 -0.5h1.12M-12.06 5.5h1.12M15.94 11.5h1.12M-13.06 12.5h1.12M15.94 12.5h1.12M15.94 17.5h1.12M15.94 18.5h1.12M15.94 19.5h1.12M15.94 20.5h1.12M15.94 23.5h1.12M14.94 24.5h1.12M13.94 26.5h1.12M-11.06 27.5h1.12M-10.06 28.5h1.12M-5.06 29.5h4.12M0.94 29.5h1.12"/>
<path stroke="#848484" d="M-1.06 -1.5h1.12M1.94 -1.5h2.12M-6.06 -0.5h1.12M-3.06 -0.5h1.12M3.94 -0.5h1.12M-13.06 15.5h1.12M-13.06 16.5h1.12M-13.06 17.5h1.12M-13.06 22.5h1.12M4.94 28.5h3.12"/>
<path stroke="#8a8a8a" d="M-0.06 -1.5h2.12M-6.06 0.5h1.12M11.94 27.5h1.12M1.94 28.5h3.12"/>
<path stroke="#6c6c6c" d="M7.94 -1.5h1.12M-7.06 0.5h1.12M-7.06 1.5h1.12M-7.06 2.5h1.12M-11.06 4.5h1.12M15.94 10.5h1.12M-13.06 11.5h1.12M-13.06 23.5h1.12M-13.06 24.5h1.12M14.94 25.5h1.12M11.94 28.5h1.12M-0.06 29.5h1.12M3.94 29.5h2.12"/>
<path stroke="#484848" d="M13.94 -1.5h3.12M-12.06 -0.5h1.12M13.94 -0.5h3.12M12.94 0.5h1.12M-13.06 1.5h1.12M-8.06 1.5h1.12M12.94 1.5h1.12M-14.06 2.5h3.12M-13.06 3.5h1.12M16.94 4.5h1.12M14.94 6.5h1.12M19.94 9.5h1.12M-16.06 10.5h2.12M18.94 10.5h1.12M-15.06 12.5h1.12M18.94 12.5h1.12M20.94 12.5h1.12M-15.06 13.5h1.12M18.94 13.5h2.12M-15.06 14.5h1.12M17.94 15.5h2.12M20.94 15.5h1.12M20.94 16.5h1.12M17.94 17.5h1.12M20.94 17.5h1.12M19.94 18.5h1.12M17.94 19.5h1.12M20.94 19.5h1.12M17.94 20.5h1.12M19.94 20.5h2.12M18.94 21.5h2.12M20.94 22.5h1.12M21.94 23.5h1.12M-16.06 24.5h3.12M-17.06 25.5h1.12M14.94 27.5h2.12M-12.06 30.5h1.12M-7.06 30.5h3.12M-17.06 31.5h1.12M15.94 31.5h2.12"/>
<path stroke="#424242" d="M-11.06 -0.5h2.12M-13.06 0.5h2.12M-8.06 0.5h1.12M13.94 0.5h3.12M13.94 1.5h3.12M-11.06 2.5h1.12M13.94 2.5h1.12M15.94 2.5h1.12M13.94 3.5h1.12M14.94 5.5h2.12M19.94 10.5h1.12M18.94 11.5h2.12M19.94 12.5h1.12M19.94 15.5h1.12M17.94 16.5h1.12M19.94 16.5h1.12M18.94 17.5h1.12M17.94 18.5h2.12M18.94 19.5h1.12M18.94 20.5h1.12M17.94 23.5h1.12M21.94 24.5h1.12M-16.06 25.5h1.12M16.94 25.5h1.12M21.94 25.5h1.12M-17.06 26.5h1.12M15.94 26.5h1.12M-17.06 27.5h1.12M-13.06 27.5h1.12M-17.06 28.5h1.12M-13.06 28.5h1.12M15.94 28.5h1.12M-17.06 29.5h1.12M-13.06 29.5h1.12M15.94 29.5h1.12M-4.06 30.5h1.12M5.94 30.5h1.12M15.94 30.5h1.12M-16.06 31.5h1.12M-13.06 31.5h1.12M7.94 31.5h1.12M17.94 31.5h1.12"/>
<path stroke="#3c3c3c" d="M-9.06 -0.5h1.12M-12.06 1.5h1.12M-10.06 2.5h2.12M15.94 3.5h1.12M13.94 4.5h1.12M15.94 4.5h1.12M18.94 16.5h1.12M19.94 17.5h1.12M18.94 22.5h2.12M18.94 23.5h3.12M17.94 24.5h1.12M-14.06 25.5h1.12M17.94 25.5h1.12M-16.06 26.5h1.12M-14.06 26.5h1.12M16.94 26.5h1.12M21.94 26.5h1.12M-17.06 30.5h2.12M16.94 30.5h1.12M6.94 31.5h1.12M21.94 31.5h1.12"/>
<path stroke="#909090" d="M-5.06 -0.5h2.12M-1.06 -0.5h1.12M2.94 -0.5h1.12M-3.06 0.5h1.12M-13.06 18.5h1.12M-13.06 19.5h1.12M-13.06 21.5h1.12M-12.06 26.5h1.12"/>
<path stroke="#7e7e7e" d="M-2.06 -0.5h1.12M4.94 -0.5h1.12M-2.06 0.5h2.12M-12.06 6.5h1.12M-12.06 8.5h1.12M-12.06 9.5h1.12M-12.06 11.5h1.12M-13.06 14.5h1.12M12.94 26.5h1.12M10.94 27.5h1.12M-9.06 28.5h2.12M7.94 28.5h3.12"/>
<path stroke="#969696" d="M-0.06 -0.5h1.12M1.94 -0.5h1.12M-13.06 20.5h1.12M-12.06 22.5h1.12M-6.06 28.5h1.12M0.94 28.5h1.12"/>
<path stroke="#9c9c9c" d="M0.94 -0.5h1.12M-5.06 0.5h1.12M-12.06 23.5h1.12M-12.06 24.5h1.12M-12.06 25.5h1.12M-11.06 26.5h1.12M-10.06 27.5h1.12M-4.06 28.5h1.12M-2.06 28.5h3.12"/>
<path stroke="#363636" d="M-11.06 0.5h3.12M-11.06 1.5h1.12M14.94 2.5h1.12M14.94 3.5h1.12M14.94 4.5h1.12M20.94 24.5h1.12M-15.06 25.5h1.12M20.94 25.5h1.12M-15.06 26.5h1.12M17.94 26.5h1.12M-16.06 27.5h1.12M16.94 27.5h1.12M-14.06 28.5h1.12M16.94 28.5h1.12M16.94 29.5h1.12M-13.06 30.5h1.12M7.94 30.5h1.12M17.94 30.5h1.12M-14.06 31.5h1.12"/>
<path stroke="#a2a2a2" d="M-4.06 0.5h1.12M-10.06 26.5h1.12M-6.06 27.5h1.12M-5.06 28.5h1.12M-3.06 28.5h1.12"/>
<path stroke="#5dc00c" d="M-0.06 0.5h1.12M-0.06 1.5h1.12M-0.06 2.5h1.12M-0.06 3.5h1.12M10.94 3.5h1.12M-0.06 4.5h1.12M11.94 4.5h1.12M8.94 5.5h3.12M-4.06 16.5h1.12M2.94 17.5h1.12M-4.06 18.5h1.12M-12.06 19.5h2.12M0.94 19.5h1.12M6.94 21.5h1.12M9.94 22.5h1.12M7.94 24.5h1.12M-6.06 25.5h1.12M-4.06 25.5h1.12"/>
<path stroke="#2ea81b" d="M0.94 0.5h1.12M6.94 0.5h1.12M0.94 1.5h1.12M7.94 2.5h2.12M0.94 3.5h1.12M8.94 3.5h1.12M-10.06 4.5h1.12M0.94 4.5h1.12M7.94 4.5h1.12M0.94 10.5h1.12M-3.06 16.5h1.12M6.94 22.5h1.12"/>
<path stroke="#23a020" d="M1.94 0.5h1.12M5.94 0.5h1.12M6.94 1.5h1.12M0.94 2.5h1.12M6.94 2.5h1.12M7.94 3.5h1.12M1.94 4.5h6.12M1.94 9.5h1.12M-4.06 17.5h1.12M8.94 23.5h1.12"/>
<path stroke="#179825" d="M2.94 0.5h3.12M1.94 1.5h1.12M5.94 1.5h1.12M1.94 2.5h1.12M5.94 2.5h1.12M1.94 3.5h1.12M5.94 3.5h2.12M8.94 22.5h1.12"/>
<path stroke="#46b611" d="M7.94 0.5h1.12M8.94 1.5h1.12M9.94 2.5h1.12M9.94 3.5h1.12M9.94 4.5h2.12M0.94 5.5h4.12M7.94 5.5h1.12M0.94 9.5h1.12M2.94 9.5h1.12M1.94 11.5h1.12M3.94 16.5h1.12M8.94 21.5h1.12M-11.06 24.5h1.12M0.94 24.5h1.12M-5.06 25.5h1.12M0.94 25.5h1.12"/>
<path stroke="#303030" d="M-10.06 1.5h1.12M18.94 24.5h2.12M18.94 25.5h1.12M-15.06 27.5h2.12M21.94 27.5h1.12M-16.06 28.5h2.12M-16.06 29.5h1.12M-14.06 29.5h1.12M21.94 30.5h1.12M-15.06 31.5h1.12M18.94 31.5h3.12"/>
<path stroke="#2a2a2a" d="M-9.06 1.5h1.12M19.94 25.5h1.12M20.94 26.5h1.12M17.94 27.5h1.12M21.94 28.5h1.12M-15.06 29.5h1.12M17.94 29.5h1.12M21.94 29.5h1.12M-15.06 30.5h1.12M6.94 30.5h1.12M20.94 30.5h1.12"/>
<path stroke="#d9e800" d="M-6.06 1.5h3.12M-5.06 2.5h2.12M-4.06 3.5h2.12M-4.06 4.5h2.12M-6.06 5.5h2.12M-3.06 5.5h1.12M-11.06 6.5h4.12M-2.06 6.5h1.12M12.94 6.5h1.12M-11.06 7.5h4.12M-2.06 7.5h2.12M11.94 7.5h2.12M-10.06 8.5h3.12M-3.06 8.5h3.12M7.94 8.5h7.12M-10.06 9.5h4.12M-4.06 9.5h4.12M3.94 9.5h1.12M8.94 9.5h1.12M10.94 9.5h1.12M-11.06 10.5h7.12M14.94 10.5h1.12M-11.06 11.5h7.12M-0.06 11.5h1.12M3.94 11.5h1.12M5.94 11.5h1.12M-8.06 12.5h3.12M2.94 12.5h1.12M11.94 12.5h1.12M13.94 12.5h1.12M-6.06 13.5h1.12M0.94 13.5h2.12M11.94 13.5h2.12M-9.06 14.5h4.12M-3.06 14.5h1.12M0.94 14.5h3.12M5.94 14.5h3.12M-10.06 15.5h4.12M-2.06 15.5h1.12M0.94 15.5h1.12M7.94 15.5h2.12M14.94 15.5h1.12M-12.06 16.5h5.12M-5.06 16.5h1.12M0.94 16.5h1.12M8.94 16.5h1.12M14.94 16.5h1.12M-12.06 17.5h4.12M0.94 17.5h1.12M4.94 17.5h1.12M6.94 17.5h4.12M11.94 17.5h3.12M-8.06 18.5h1.12M-5.06 18.5h1.12M0.94 18.5h4.12M7.94 18.5h5.12M14.94 18.5h1.12M-5.06 19.5h1.12M-2.06 19.5h1.12M9.94 19.5h2.12M14.94 19.5h1.12M-8.06 20.5h1.12M-5.06 20.5h2.12M5.94 20.5h1.12M9.94 20.5h2.12M14.94 20.5h1.12M-12.06 21.5h5.12M-5.06 21.5h1.12M-0.06 21.5h1.12M10.94 21.5h2.12M14.94 21.5h1.12M-11.06 22.5h2.12M-8.06 22.5h5.12M-0.06 22.5h2.12M4.94 22.5h1.12M11.94 22.5h4.12M-10.06 23.5h3.12M-2.06 23.5h1.12M4.94 23.5h1.12M10.94 23.5h1.12M14.94 23.5h1.12M-10.06 24.5h2.12M-1.06 24.5h1.12M2.94 24.5h1.12M4.94 24.5h1.12M10.94 24.5h1.12M-10.06 25.5h2.12M-1.06 25.5h1.12M2.94 25.5h1.12M4.94 25.5h5.12M-9.06 26.5h2.12M-1.06 26.5h1.12M2.94 26.5h1.12M5.94 26.5h1.12M11.94 26.5h1.12M-3.06 27.5h2.12M0.94 27.5h2.12M4.94 27.5h2.12"/>
<path stroke="#c3e300" d="M-3.06 1.5h1.12M-6.06 2.5h1.12M-3.06 2.5h1.12M-5.06 3.5h1.12M-2.06 3.5h1.12M-5.06 4.5h1.12M-2.06 4.5h1.12M-9.06 5.5h3.12M-2.06 5.5h1.12M-1.06 6.5h1.12M-0.06 7.5h12.12M-0.06 8.5h1.12M3.94 8.5h1.12M-0.06 9.5h1.12M11.94 9.5h1.12M13.94 9.5h1.12M3.94 10.5h1.12M11.94 10.5h1.12M13.94 10.5h1.12M11.94 11.5h1.12M13.94 11.5h1.12M-12.06 12.5h4.12M0.94 12.5h2.12M12.94 12.5h1.12M-10.06 13.5h4.12M-10.06 14.5h1.12M-12.06 15.5h2.12M-4.06 15.5h1.12M1.94 15.5h1.12M3.94 15.5h2.12M-2.06 16.5h1.12M4.94 16.5h1.12M7.94 16.5h1.12M-5.06 17.5h1.12M-10.06 18.5h1.12M-2.06 18.5h1.12M13.94 18.5h1.12M-8.06 19.5h1.12M-4.06 19.5h2.12M-0.06 19.5h1.12M1.94 19.5h1.12M11.94 19.5h1.12M-10.06 20.5h2.12M-0.06 20.5h1.12M1.94 20.5h1.12M6.94 20.5h3.12M11.94 20.5h1.12M5.94 21.5h1.12M13.94 21.5h1.12M-9.06 22.5h1.12M10.94 22.5h1.12M-7.06 23.5h2.12M-4.06 23.5h2.12M-0.06 23.5h1.12M1.94 23.5h1.12M-8.06 24.5h1.12M-2.06 24.5h1.12M-8.06 25.5h1.12M-2.06 25.5h1.12M-2.06 26.5h1.12M-0.06 26.5h1.12M1.94 26.5h1.12M-5.06 27.5h2.12"/>
<path stroke="#acdd00" d="M-2.06 1.5h1.12M-2.06 2.5h1.12M-6.06 3.5h1.12M-9.06 4.5h2.12M-6.06 4.5h1.12M-10.06 5.5h1.12M-1.06 5.5h1.12M-0.06 6.5h1.12M11.94 6.5h1.12M0.94 8.5h1.12M2.94 8.5h1.12M12.94 9.5h1.12M-0.06 10.5h1.12M12.94 11.5h1.12M-3.06 15.5h1.12M2.94 15.5h1.12M1.94 16.5h1.12M1.94 17.5h1.12M-12.06 18.5h2.12M-9.06 18.5h1.12M12.94 18.5h1.12M-10.06 19.5h1.12M-12.06 20.5h2.12M9.94 21.5h1.12M12.94 21.5h1.12M-5.06 23.5h1.12M0.94 23.5h1.12M-7.06 24.5h1.12M-3.06 24.5h1.12M5.94 24.5h1.12M9.94 24.5h1.12M-11.06 25.5h1.12M-7.06 26.5h1.12M-3.06 26.5h1.12"/>
<path stroke="#93d404" d="M-1.06 1.5h1.12M-1.06 2.5h1.12M10.94 2.5h1.12M-7.06 3.5h1.12M-1.06 3.5h1.12M-7.06 4.5h1.12M-1.06 4.5h1.12M0.94 6.5h3.12M8.94 6.5h3.12M1.94 8.5h1.12M12.94 10.5h1.12M2.94 11.5h1.12M5.94 15.5h2.12M5.94 16.5h2.12M-2.06 17.5h1.12M12.94 19.5h2.12M0.94 20.5h1.12M12.94 20.5h2.12M5.94 22.5h1.12M-11.06 23.5h1.12M5.94 23.5h1.12M-0.06 24.5h1.12M1.94 24.5h1.12M-7.06 25.5h1.12M-3.06 25.5h1.12M-0.06 25.5h1.12M1.94 25.5h1.12M-6.06 26.5h1.12M-4.06 26.5h1.12M0.94 26.5h1.12"/>
<path stroke="#10912a" d="M2.94 1.5h3.12M2.94 2.5h1.12M4.94 2.5h1.12M2.94 3.5h3.12M7.94 23.5h1.12"/>
<path stroke="#3aaf16" d="M7.94 1.5h1.12M8.94 4.5h1.12M4.94 5.5h3.12M2.94 10.5h1.12M2.94 16.5h1.12M-3.06 18.5h1.12M7.94 21.5h1.12M6.94 23.5h1.12"/>
<path stroke="#78ca08" d="M9.94 1.5h1.12M-0.06 5.5h1.12M11.94 5.5h1.12M3.94 6.5h5.12M0.94 11.5h1.12M-12.06 13.5h2.12M-12.06 14.5h2.12M3.94 17.5h1.12M-9.06 19.5h1.12M9.94 23.5h1.12M-6.06 24.5h3.12M6.94 24.5h1.12M8.94 24.5h1.12M-5.06 26.5h1.12"/>
<path stroke="#0f8930" d="M3.94 2.5h1.12M1.94 10.5h1.12M7.94 22.5h1.12"/>
<path stroke="#efee00" d="M-4.06 5.5h1.12M-7.06 6.5h5.12M-7.06 7.5h5.12M-11.06 8.5h1.12M-7.06 8.5h4.12M4.94 8.5h3.12M-11.06 9.5h1.12M-6.06 9.5h2.12M7.94 9.5h1.12M9.94 9.5h1.12M-4.06 10.5h4.12M6.94 10.5h5.12M-4.06 11.5h1.12M-1.06 11.5h1.12M4.94 11.5h1.12M6.94 11.5h5.12M14.94 11.5h1.12M-5.06 12.5h1.12M-0.06 12.5h1.12M3.94 12.5h8.12M14.94 12.5h1.12M-5.06 13.5h6.12M2.94 13.5h1.12M5.94 13.5h6.12M13.94 13.5h2.12M-5.06 14.5h2.12M-2.06 14.5h3.12M3.94 14.5h2.12M8.94 14.5h7.12M-6.06 15.5h2.12M-1.06 15.5h2.12M9.94 15.5h5.12M-7.06 16.5h2.12M-1.06 16.5h2.12M9.94 16.5h5.12M-8.06 17.5h3.12M-1.06 17.5h2.12M5.94 17.5h1.12M10.94 17.5h1.12M14.94 17.5h1.12M-7.06 18.5h2.12M-1.06 18.5h2.12M4.94 18.5h3.12M-7.06 19.5h2.12M-1.06 19.5h1.12M2.94 19.5h1.12M4.94 19.5h5.12M-7.06 20.5h2.12M-3.06 20.5h3.12M2.94 20.5h1.12M4.94 20.5h1.12M-7.06 21.5h2.12M-4.06 21.5h4.12M0.94 21.5h5.12M-3.06 22.5h3.12M1.94 22.5h3.12M-1.06 23.5h1.12M2.94 23.5h2.12M11.94 23.5h3.12M3.94 24.5h1.12M11.94 24.5h1.12M13.94 24.5h1.12M3.94 25.5h1.12M9.94 25.5h4.12M3.94 26.5h2.12M6.94 26.5h5.12M-1.06 27.5h2.12M2.94 27.5h2.12M6.94 27.5h4.12"/>
<path stroke="#fbdc00" d="M4.94 9.5h2.12M-3.06 12.5h2.12"/>
<path stroke="#f9e900" d="M6.94 9.5h1.12M4.94 10.5h2.12M-3.06 11.5h2.12M-4.06 12.5h1.12M-1.06 12.5h1.12M3.94 13.5h2.12M3.94 19.5h1.12M3.94 20.5h1.12M12.94 24.5h1.12"/>
<path stroke="#0e8136" d="M-3.06 17.5h1.12"/>
<path stroke="#242424" d="M18.94 26.5h2.12M18.94 27.5h1.12M20.94 27.5h1.12M17.94 28.5h1.12M20.94 28.5h1.12M20.94 29.5h1.12M-14.06 30.5h1.12M18.94 30.5h2.12"/>
<path stroke="#a8a8a8" d="M-9.06 27.5h1.12M-7.06 27.5h1.12"/>
<path stroke="#aeaeae" d="M-8.06 27.5h1.12"/>
<path stroke="#1e1e1e" d="M19.94 27.5h1.12M18.94 28.5h1.12M18.94 29.5h2.12"/>
<path stroke="#181818" d="M19.94 28.5h1.12"/>
</g></g></g>
<g clip-path="url(#mc5)"><g filter="url(#mb)"><rect x="1419.1" y="374.4" width="209.8" height="189.2" fill="#555"/><g transform="translate(1509.80,391.40) scale(5.45)" stroke-width="1.12" fill="none">
<path stroke="#5a5a5a" d="M-17.06 -3.5h2.12M-7.06 -3.5h3.12M-2.06 -3.5h3.12M4.94 -3.5h2.12M7.94 -3.5h5.12M14.94 -3.5h1.12M17.94 -3.5h2.12M-17.06 -2.5h1.12M7.94 -2.5h2.12M11.94 -2.5h1.12M17.94 -2.5h1.12M20.94 -2.5h1.12M-17.06 -1.5h2.12M-8.06 -1.5h1.12M9.94 -1.5h3.12M17.94 -1.5h2.12M20.94 -1.5h1.12M-17.06 -0.5h1.12M10.94 -0.5h1.12M16.94 -0.5h2.12M19.94 -0.5h2.12M10.94 0.5h1.12M17.94 0.5h1.12M20.94 0.5h1.12M-17.06 1.5h1.12M10.94 1.5h1.12M16.94 1.5h2.12M20.94 1.5h1.12M-17.06 2.5h1.12M16.94 2.5h3.12M20.94 3.5h1.12M-17.06 4.5h1.12M17.94 4.5h1.12M20.94 4.5h1.12M-17.06 5.5h1.12M16.94 5.5h1.12M20.94 5.5h1.12M-17.06 6.5h1.12M16.94 6.5h1.12M20.94 6.5h1.12M13.94 7.5h3.12M20.94 7.5h1.12M-17.06 8.5h1.12M16.94 8.5h1.12M20.94 11.5h1.12M-17.06 13.5h1.12M-14.06 13.5h1.12M20.94 14.5h1.12M-14.06 15.5h1.12M16.94 15.5h1.12M-17.06 16.5h1.12M-14.06 16.5h1.12M16.94 16.5h1.12M-17.06 17.5h1.12M-14.06 17.5h1.12M-16.06 18.5h1.12M-16.06 19.5h1.12M-16.06 20.5h1.12M16.94 20.5h1.12M-17.06 21.5h2.12M16.94 21.5h1.12M-16.06 22.5h1.12M-14.06 22.5h1.12M16.94 22.5h1.12M15.94 24.5h1.12M13.94 27.5h1.12M-11.06 29.5h2.12M-11.06 30.5h2.12M-1.06 30.5h1.12M0.94 30.5h1.12M2.94 30.5h1.12M10.94 30.5h2.12M13.94 30.5h1.12M-11.06 31.5h9.12M-1.06 31.5h5.12M8.94 31.5h1.12M11.94 31.5h3.12"/>
<path stroke="#545454" d="M-15.06 -3.5h3.12M-11.06 -3.5h4.12M6.94 -3.5h1.12M12.94 -3.5h2.12M19.94 -3.5h2.12M-16.06 -2.5h6.12M-9.06 -2.5h2.12M12.94 -2.5h1.12M14.94 -2.5h3.12M-13.06 -1.5h1.12M12.94 -1.5h1.12M16.94 -1.5h1.12M-16.06 -0.5h2.12M-8.06 -0.5h1.12M18.94 -0.5h1.12M-17.06 0.5h1.12M-15.06 0.5h1.12M16.94 0.5h1.12M18.94 0.5h2.12M-16.06 1.5h2.12M18.94 1.5h2.12M-16.06 2.5h1.12M19.94 2.5h2.12M-17.06 3.5h2.12M-12.06 3.5h1.12M16.94 3.5h1.12M18.94 3.5h2.12M-16.06 4.5h3.12M16.94 4.5h1.12M18.94 4.5h2.12M-16.06 5.5h3.12M12.94 5.5h1.12M17.94 5.5h3.12M-16.06 6.5h1.12M-14.06 6.5h1.12M13.94 6.5h1.12M15.94 6.5h1.12M17.94 6.5h1.12M19.94 6.5h1.12M-17.06 7.5h1.12M-14.06 7.5h1.12M17.94 7.5h3.12M17.94 8.5h1.12M20.94 8.5h1.12M-17.06 9.5h1.12M20.94 9.5h1.12M-17.06 10.5h1.12M-14.06 10.5h1.12M20.94 10.5h1.12M-17.06 11.5h1.12M-14.06 11.5h1.12M-17.06 12.5h1.12M-14.06 12.5h1.12M20.94 13.5h1.12M-17.06 14.5h1.12M19.94 14.5h1.12M-17.06 15.5h2.12M-16.06 16.5h1.12M-16.06 17.5h2.12M16.94 17.5h1.12M-17.06 18.5h1.12M-15.06 18.5h1.12M16.94 18.5h1.12M20.94 18.5h1.12M-17.06 19.5h1.12M-15.06 19.5h1.12M16.94 19.5h1.12M19.94 19.5h1.12M-17.06 20.5h1.12M-15.06 20.5h1.12M-15.06 21.5h1.12M20.94 21.5h1.12M-17.06 22.5h1.12M-17.06 23.5h1.12M16.94 23.5h1.12M-13.06 26.5h1.12M14.94 26.5h1.12M-12.06 28.5h1.12M13.94 28.5h1.12M-12.06 29.5h1.12M-9.06 29.5h3.12M7.94 29.5h1.12M12.94 29.5h2.12M-2.06 30.5h1.12M-0.06 30.5h1.12M1.94 30.5h1.12M3.94 30.5h1.12M8.94 30.5h1.12M12.94 30.5h1.12M-12.06 31.5h1.12M4.94 31.5h2.12"/>
<path stroke="#606060" d="M-12.06 -3.5h1.12M-4.06 -3.5h2.12M0.94 -3.5h4.12M15.94 -3.5h2.12M-7.06 -2.5h1.12M4.94 -2.5h3.12M9.94 -2.5h2.12M18.94 -2.5h2.12M8.94 -1.5h1.12M19.94 -1.5h1.12M8.94 -0.5h2.12M-8.06 2.5h1.12M-10.06 3.5h1.12M17.94 3.5h1.12M-12.06 4.5h1.12M-13.06 5.5h1.12M-13.06 6.5h1.12M-13.06 7.5h1.12M16.94 7.5h1.12M-13.06 9.5h1.12M16.94 9.5h1.12M-13.06 10.5h1.12M16.94 10.5h1.12M16.94 11.5h1.12M16.94 12.5h1.12M16.94 13.5h1.12M-14.06 14.5h1.12M16.94 14.5h1.12M-11.06 28.5h1.12M12.94 28.5h1.12M-6.06 29.5h1.12M4.94 29.5h1.12M11.94 29.5h1.12M9.94 30.5h1.12M-2.06 31.5h1.12M9.94 31.5h2.12"/>
<path stroke="#4e4e4e" d="M-10.06 -2.5h1.12M13.94 -2.5h1.12M-15.06 -1.5h2.12M-12.06 -1.5h2.12M-9.06 -1.5h1.12M15.94 -1.5h1.12M-14.06 -0.5h1.12M11.94 -0.5h1.12M15.94 -0.5h1.12M-16.06 0.5h1.12M-14.06 0.5h1.12M11.94 0.5h1.12M-8.06 1.5h1.12M11.94 1.5h1.12M11.94 2.5h1.12M15.94 2.5h1.12M-15.06 3.5h1.12M11.94 3.5h1.12M-13.06 4.5h1.12M13.94 5.5h1.12M15.94 5.5h1.12M-15.06 6.5h1.12M14.94 6.5h1.12M18.94 6.5h1.12M-16.06 7.5h2.12M-16.06 8.5h1.12M-14.06 8.5h1.12M18.94 8.5h2.12M-14.06 9.5h1.12M19.94 9.5h1.12M17.94 10.5h1.12M-16.06 12.5h1.12M17.94 12.5h1.12M20.94 12.5h1.12M-16.06 13.5h1.12M17.94 13.5h1.12M19.94 13.5h1.12M19.94 15.5h2.12M-15.06 16.5h1.12M20.94 16.5h1.12M20.94 17.5h1.12M19.94 18.5h1.12M20.94 19.5h1.12M19.94 20.5h2.12M-15.06 22.5h1.12M20.94 22.5h1.12M-16.06 23.5h1.12M-14.06 23.5h1.12M-17.06 24.5h1.12M5.94 29.5h1.12M14.94 29.5h1.12M-12.06 30.5h1.12M-9.06 30.5h2.12M-6.06 30.5h2.12M-3.06 30.5h1.12M-13.06 31.5h1.12M3.94 31.5h1.12M6.94 31.5h2.12M14.94 31.5h1.12"/>
<path stroke="#666666" d="M-6.06 -2.5h1.12M-3.06 -2.5h1.12M1.94 -2.5h1.12M3.94 -2.5h1.12M5.94 -1.5h3.12M6.94 -0.5h2.12M8.94 0.5h2.12M-11.06 3.5h1.12M-9.06 3.5h1.12M-13.06 8.5h1.12M14.94 8.5h2.12M14.94 9.5h1.12M-14.06 18.5h1.12M-14.06 19.5h1.12M-14.06 21.5h1.12M-13.06 25.5h1.12M14.94 25.5h1.12M-12.06 27.5h1.12M1.94 29.5h2.12M8.94 29.5h3.12"/>
<path stroke="#6c6c6c" d="M-5.06 -2.5h2.12M-2.06 -2.5h1.12M-0.06 -2.5h1.12M2.94 -2.5h1.12M-7.06 -1.5h1.12M5.94 -0.5h1.12M-8.06 3.5h1.12M15.94 9.5h1.12M15.94 18.5h1.12M-14.06 20.5h1.12M-13.06 23.5h1.12M15.94 23.5h1.12M14.94 24.5h1.12M13.94 26.5h1.12M11.94 28.5h1.12M-5.06 29.5h4.12M-0.06 29.5h2.12M3.94 29.5h1.12"/>
<path stroke="#727272" d="M-1.06 -2.5h1.12M0.94 -2.5h1.12M3.94 -1.5h2.12M-7.06 -0.5h1.12M-7.06 0.5h1.12M-7.06 1.5h1.12M-7.06 2.5h1.12M-11.06 4.5h1.12M15.94 10.5h1.12M-13.06 11.5h1.12M15.94 11.5h1.12M15.94 12.5h1.12M15.94 13.5h1.12M15.94 17.5h1.12M15.94 19.5h1.12M15.94 20.5h1.12M15.94 22.5h1.12M-13.06 24.5h1.12M13.94 25.5h1.12M-10.06 28.5h1.12M-1.06 29.5h1.12"/>
<path stroke="#484848" d="M-10.06 -1.5h1.12M13.94 -1.5h2.12M-13.06 -0.5h1.12M12.94 -0.5h1.12M14.94 -0.5h1.12M-8.06 0.5h1.12M15.94 0.5h1.12M-14.06 1.5h1.12M15.94 1.5h1.12M-15.06 2.5h1.12M-13.06 2.5h2.12M-14.06 3.5h2.12M12.94 3.5h1.12M15.94 3.5h1.12M12.94 4.5h1.12M15.94 4.5h1.12M14.94 5.5h1.12M-15.06 8.5h1.12M-16.06 9.5h2.12M17.94 9.5h2.12M-16.06 10.5h2.12M-16.06 11.5h2.12M17.94 11.5h1.12M19.94 11.5h1.12M18.94 12.5h2.12M-16.06 14.5h2.12M17.94 14.5h2.12M-15.06 15.5h1.12M19.94 16.5h1.12M19.94 17.5h1.12M17.94 21.5h1.12M19.94 21.5h1.12M-15.06 23.5h1.12M-14.06 24.5h1.12M16.94 24.5h1.12M15.94 25.5h1.12M-13.06 27.5h1.12M-13.06 28.5h1.12M14.94 28.5h1.12M-13.06 29.5h1.12M6.94 29.5h1.12M-7.06 30.5h1.12M-4.06 30.5h1.12M4.94 30.5h1.12M14.94 30.5h1.12M15.94 31.5h1.12"/>
<path stroke="#7e7e7e" d="M-6.06 -1.5h1.12M-4.06 -1.5h1.12M-2.06 -1.5h1.12M-3.06 -0.5h1.12M-12.06 6.5h1.12M-12.06 8.5h1.12M-12.06 9.5h1.12M-12.06 10.5h1.12M-12.06 11.5h1.12M-13.06 13.5h1.12M12.94 26.5h1.12M10.94 27.5h1.12M-9.06 28.5h2.12M5.94 28.5h5.12"/>
<path stroke="#848484" d="M-5.06 -1.5h1.12M2.94 -1.5h1.12M2.94 -0.5h1.12M-13.06 14.5h1.12M4.94 28.5h1.12"/>
<path stroke="#787878" d="M-3.06 -1.5h1.12M-2.06 -0.5h1.12M3.94 -0.5h2.12M-2.06 0.5h2.12M-12.06 5.5h2.12M-12.06 7.5h1.12M-13.06 12.5h1.12M15.94 14.5h1.12M15.94 15.5h1.12M15.94 16.5h1.12M15.94 21.5h1.12M-11.06 27.5h1.12M12.94 27.5h1.12M-7.06 28.5h1.12M10.94 28.5h1.12"/>
<path stroke="#909090" d="M-1.06 -1.5h1.12M0.94 -1.5h1.12M-5.06 -0.5h1.12M-0.06 -0.5h2.12M-13.06 18.5h1.12M-13.06 21.5h1.12M-12.06 26.5h1.12"/>
<path stroke="#969696" d="M-0.06 -1.5h1.12M-5.06 0.5h2.12M-13.06 19.5h1.12M-12.06 22.5h1.12M-6.06 28.5h1.12M0.94 28.5h1.12"/>
<path stroke="#8a8a8a" d="M1.94 -1.5h1.12M-6.06 -0.5h1.12M-4.06 -0.5h1.12M-1.06 -0.5h1.12M1.94 -0.5h1.12M-6.06 0.5h1.12M-3.06 0.5h1.12M-13.06 15.5h1.12M-13.06 16.5h1.12M-13.06 17.5h1.12M-13.06 22.5h1.12M11.94 27.5h1.12M1.94 28.5h3.12"/>
<path stroke="#424242" d="M-12.06 -0.5h1.12M13.94 -0.5h1.12M12.94 0.5h1.12M14.94 0.5h1.12M-13.06 1.5h1.12M12.94 1.5h1.12M14.94 1.5h1.12M-14.06 2.5h1.12M-11.06 2.5h1.12M-9.06 2.5h1.12M12.94 2.5h1.12M18.94 10.5h2.12M18.94 11.5h1.12M-15.06 12.5h1.12M-15.06 13.5h1.12M18.94 13.5h1.12M17.94 15.5h2.12M17.94 17.5h1.12M17.94 19.5h2.12M17.94 20.5h2.12M18.94 21.5h1.12M17.94 22.5h1.12M19.94 22.5h1.12M20.94 23.5h1.12M-16.06 24.5h2.12M-17.06 25.5h1.12M14.94 27.5h1.12M-13.06 30.5h1.12M7.94 30.5h1.12M15.94 30.5h1.12M-17.06 31.5h1.12M-14.06 31.5h1.12M16.94 31.5h2.12"/>
<path stroke="#3c3c3c" d="M-11.06 -0.5h3.12M-13.06 0.5h2.12M13.94 0.5h1.12M-12.06 1.5h1.12M-10.06 2.5h1.12M14.94 2.5h1.12M13.94 3.5h1.12M13.94 4.5h2.12M17.94 16.5h2.12M18.94 17.5h1.12M17.94 18.5h2.12M18.94 22.5h1.12M19.94 23.5h1.12M20.94 24.5h1.12M-14.06 25.5h1.12M-17.06 26.5h1.12M-14.06 26.5h1.12M15.94 26.5h1.12M-17.06 27.5h1.12M15.94 27.5h1.12M-17.06 28.5h1.12M-14.06 28.5h1.12M15.94 29.5h1.12M-16.06 31.5h1.12M19.94 31.5h2.12"/>
<path stroke="#303030" d="M-11.06 0.5h2.12M-9.06 1.5h1.12M17.94 24.5h1.12M19.94 24.5h1.12M17.94 25.5h1.12M-16.06 26.5h2.12M16.94 26.5h1.12M20.94 26.5h1.12M-15.06 28.5h1.12M20.94 28.5h1.12M16.94 29.5h1.12M20.94 29.5h1.12M-15.06 30.5h2.12M6.94 30.5h1.12M17.94 30.5h1.12"/>
<path stroke="#363636" d="M-9.06 0.5h1.12M-11.06 1.5h1.12M13.94 1.5h1.12M13.94 2.5h1.12M14.94 3.5h1.12M17.94 23.5h2.12M-16.06 25.5h2.12M16.94 25.5h1.12M20.94 25.5h1.12M-14.06 27.5h1.12M15.94 28.5h1.12M-17.06 29.5h1.12M-14.06 29.5h1.12M-17.06 30.5h2.12M5.94 30.5h1.12M16.94 30.5h1.12M20.94 30.5h1.12M-15.06 31.5h1.12M18.94 31.5h1.12"/>
<path stroke="#5dc00c" d="M-0.06 0.5h4.12M4.94 0.5h4.12M-4.06 1.5h3.12M-3.06 2.5h2.12M-0.06 2.5h1.12M-0.06 4.5h1.12M7.94 4.5h1.12M7.94 5.5h1.12M-2.06 6.5h2.12M1.94 6.5h1.12M6.94 6.5h1.12M-4.06 7.5h5.12M3.94 7.5h2.12M-6.06 8.5h1.12M-3.06 8.5h2.12M4.94 8.5h1.12M12.94 8.5h1.12M-6.06 9.5h1.12M-2.06 9.5h1.12M12.94 9.5h1.12M-5.06 10.5h3.12M6.94 12.5h3.12M5.94 13.5h1.12M8.94 13.5h1.12M6.94 14.5h3.12M12.94 14.5h1.12M11.94 15.5h1.12M13.94 15.5h1.12M11.94 16.5h2.12M-10.06 17.5h1.12M-8.06 17.5h1.12M12.94 17.5h1.12M-7.06 18.5h1.12M-11.06 19.5h1.12M-11.06 20.5h1.12M5.94 20.5h3.12M10.94 20.5h1.12M-10.06 21.5h1.12M12.94 21.5h1.12M-11.06 22.5h3.12M4.94 22.5h1.12M13.94 22.5h1.12M-6.06 23.5h1.12M4.94 23.5h1.12M13.94 23.5h1.12M-6.06 24.5h1.12M5.94 24.5h1.12M13.94 24.5h1.12M-10.06 25.5h4.12M5.94 25.5h1.12M11.94 25.5h1.12M5.94 26.5h1.12M9.94 26.5h2.12M4.94 27.5h5.12"/>
<path stroke="#78ca08" d="M3.94 0.5h1.12M-6.06 1.5h2.12M-1.06 1.5h2.12M8.94 1.5h1.12M-5.06 2.5h2.12M-1.06 2.5h1.12M-4.06 3.5h4.12M-1.06 4.5h1.12M-1.06 5.5h1.12M-3.06 6.5h1.12M7.94 6.5h1.12M0.94 7.5h1.12M2.94 7.5h1.12M5.94 7.5h2.12M12.94 7.5h1.12M-11.06 8.5h1.12M-1.06 8.5h1.12M3.94 8.5h1.12M5.94 8.5h2.12M9.94 8.5h2.12M-7.06 9.5h1.12M4.94 9.5h2.12M9.94 9.5h2.12M-6.06 10.5h1.12M-2.06 10.5h1.12M5.94 10.5h3.12M13.94 10.5h2.12M5.94 11.5h4.12M14.94 11.5h1.12M4.94 12.5h2.12M9.94 12.5h1.12M4.94 13.5h1.12M9.94 13.5h2.12M12.94 13.5h1.12M5.94 14.5h1.12M9.94 14.5h3.12M13.94 14.5h1.12M-7.06 15.5h1.12M6.94 15.5h5.12M-8.06 16.5h2.12M6.94 16.5h3.12M13.94 16.5h1.12M-11.06 17.5h1.12M-7.06 17.5h1.12M11.94 17.5h1.12M-12.06 18.5h1.12M5.94 18.5h1.12M-12.06 19.5h1.12M-7.06 19.5h1.12M5.94 19.5h2.12M9.94 19.5h1.12M-7.06 20.5h1.12M-5.06 20.5h1.12M1.94 20.5h1.12M11.94 20.5h1.12M-12.06 21.5h2.12M-7.06 21.5h2.12M4.94 21.5h1.12M13.94 21.5h2.12M-6.06 22.5h1.12M-0.06 22.5h1.12M3.94 22.5h1.12M14.94 22.5h1.12M3.94 23.5h1.12M14.94 23.5h1.12M4.94 24.5h1.12M-11.06 25.5h1.12M-6.06 25.5h1.12M4.94 25.5h1.12M12.94 25.5h1.12M-9.06 26.5h2.12M4.94 26.5h1.12M11.94 26.5h1.12M3.94 27.5h1.12M9.94 27.5h1.12"/>
<path stroke="#2a2a2a" d="M-10.06 1.5h1.12M18.94 24.5h1.12M18.94 25.5h2.12M17.94 26.5h1.12M-16.06 27.5h2.12M16.94 27.5h1.12M20.94 27.5h1.12M-16.06 28.5h1.12M16.94 28.5h1.12M-16.06 29.5h2.12M18.94 30.5h2.12"/>
<path stroke="#46b611" d="M0.94 1.5h1.12M5.94 1.5h3.12M7.94 2.5h1.12M-0.06 3.5h1.12M7.94 3.5h1.12M-0.06 5.5h1.12M-0.06 6.5h2.12M4.94 6.5h2.12M-5.06 8.5h2.12M-5.06 9.5h3.12M6.94 13.5h2.12M12.94 15.5h1.12M-9.06 17.5h1.12M-11.06 18.5h1.12M-8.06 20.5h1.12M8.94 20.5h2.12M-9.06 21.5h2.12M5.94 21.5h1.12M11.94 21.5h1.12M-8.06 22.5h2.12M12.94 22.5h1.12M-11.06 23.5h2.12M5.94 23.5h1.12M12.94 23.5h1.12M-11.06 24.5h3.12M12.94 24.5h1.12M6.94 25.5h1.12M6.94 26.5h3.12"/>
<path stroke="#3aaf16" d="M1.94 1.5h1.12M4.94 1.5h1.12M0.94 2.5h1.12M6.94 2.5h1.12M6.94 3.5h1.12M6.94 4.5h1.12M0.94 5.5h1.12M6.94 5.5h1.12M2.94 6.5h2.12M-11.06 7.5h1.12M13.94 8.5h1.12M13.94 9.5h1.12M-10.06 18.5h1.12M-8.06 18.5h1.12M-8.06 19.5h1.12M-10.06 20.5h2.12M6.94 21.5h1.12M5.94 22.5h1.12M-9.06 23.5h1.12M-7.06 23.5h1.12M-8.06 24.5h2.12M6.94 24.5h1.12M11.94 24.5h1.12M7.94 25.5h4.12"/>
<path stroke="#2ea81b" d="M2.94 1.5h2.12M5.94 2.5h1.12M0.94 3.5h1.12M0.94 4.5h1.12M1.94 5.5h1.12M4.94 5.5h2.12M-11.06 6.5h1.12M-10.06 19.5h1.12M7.94 21.5h1.12M10.94 21.5h1.12M11.94 22.5h1.12M-8.06 23.5h1.12M11.94 23.5h1.12M10.94 24.5h1.12"/>
<path stroke="#93d404" d="M9.94 1.5h1.12M-6.06 2.5h1.12M8.94 2.5h1.12M-5.06 3.5h1.12M-10.06 4.5h2.12M-5.06 4.5h2.12M-2.06 4.5h1.12M8.94 4.5h1.12M-10.06 5.5h1.12M-3.06 5.5h2.12M8.94 5.5h1.12M-4.06 6.5h1.12M8.94 6.5h4.12M-10.06 7.5h1.12M-6.06 7.5h2.12M1.94 7.5h1.12M7.94 7.5h5.12M-10.06 8.5h1.12M-7.06 8.5h1.12M-0.06 8.5h1.12M7.94 8.5h2.12M11.94 8.5h1.12M-11.06 9.5h2.12M-8.06 9.5h1.12M-1.06 9.5h2.12M3.94 9.5h1.12M6.94 9.5h3.12M11.94 9.5h1.12M-11.06 10.5h1.12M-1.06 10.5h2.12M4.94 10.5h1.12M8.94 10.5h3.12M-5.06 11.5h5.12M4.94 11.5h1.12M9.94 11.5h1.12M13.94 11.5h1.12M-7.06 12.5h1.12M-1.06 12.5h2.12M3.94 12.5h1.12M10.94 12.5h1.12M14.94 12.5h1.12M-8.06 13.5h3.12M11.94 13.5h1.12M13.94 13.5h1.12M-8.06 14.5h3.12M4.94 14.5h1.12M14.94 14.5h1.12M-8.06 15.5h1.12M-6.06 15.5h1.12M5.94 15.5h1.12M14.94 15.5h1.12M-12.06 16.5h4.12M-6.06 16.5h1.12M5.94 16.5h1.12M9.94 16.5h2.12M-12.06 17.5h1.12M-6.06 17.5h1.12M5.94 17.5h4.12M13.94 17.5h1.12M-6.06 18.5h1.12M6.94 18.5h3.12M11.94 18.5h2.12M-6.06 19.5h3.12M1.94 19.5h1.12M4.94 19.5h1.12M7.94 19.5h2.12M10.94 19.5h2.12M14.94 19.5h1.12M-12.06 20.5h1.12M-6.06 20.5h1.12M-4.06 20.5h2.12M-1.06 20.5h3.12M2.94 20.5h1.12M4.94 20.5h1.12M12.94 20.5h3.12M-5.06 21.5h1.12M-1.06 21.5h6.12M-5.06 22.5h1.12M-1.06 22.5h1.12M0.94 22.5h1.12M2.94 22.5h1.12M-5.06 23.5h1.12M-1.06 23.5h5.12M2.94 24.5h2.12M-7.06 26.5h2.12M2.94 27.5h1.12"/>
<path stroke="#23a020" d="M1.94 2.5h1.12M5.94 3.5h1.12M5.94 4.5h1.12M2.94 5.5h2.12M-9.06 18.5h1.12M-9.06 19.5h1.12M8.94 21.5h2.12M6.94 22.5h1.12M6.94 23.5h1.12M7.94 24.5h1.12"/>
<path stroke="#179825" d="M2.94 2.5h3.12M1.94 3.5h1.12M1.94 4.5h2.12M4.94 4.5h1.12M7.94 22.5h1.12M10.94 22.5h1.12M7.94 23.5h1.12M10.94 23.5h1.12M8.94 24.5h2.12"/>
<path stroke="#acdd00" d="M9.94 2.5h2.12M-7.06 3.5h2.12M8.94 3.5h1.12M-8.06 4.5h1.12M-6.06 4.5h1.12M-3.06 4.5h1.12M-5.06 5.5h2.12M9.94 5.5h3.12M-10.06 6.5h1.12M-6.06 6.5h2.12M12.94 6.5h1.12M-7.06 7.5h1.12M-9.06 8.5h2.12M0.94 8.5h1.12M2.94 8.5h1.12M-9.06 9.5h1.12M-10.06 10.5h1.12M-7.06 10.5h1.12M3.94 10.5h1.12M11.94 10.5h2.12M-11.06 11.5h2.12M-7.06 11.5h2.12M-0.06 11.5h3.12M3.94 11.5h1.12M10.94 11.5h3.12M-9.06 12.5h2.12M-6.06 12.5h5.12M0.94 12.5h3.12M11.94 12.5h3.12M-9.06 13.5h1.12M-2.06 13.5h4.12M2.94 13.5h2.12M14.94 13.5h1.12M-9.06 14.5h1.12M-5.06 14.5h1.12M-12.06 15.5h4.12M-5.06 15.5h1.12M14.94 16.5h1.12M9.94 17.5h2.12M14.94 17.5h1.12M-5.06 18.5h1.12M4.94 18.5h1.12M9.94 18.5h2.12M13.94 18.5h1.12M-3.06 19.5h1.12M-1.06 19.5h3.12M2.94 19.5h2.12M12.94 19.5h2.12M-2.06 20.5h1.12M3.94 20.5h1.12M-4.06 21.5h1.12M-2.06 21.5h1.12M-4.06 22.5h1.12M1.94 22.5h1.12M-2.06 23.5h1.12M-5.06 24.5h1.12M-3.06 24.5h6.12M-5.06 25.5h2.12M3.94 25.5h1.12M-5.06 26.5h2.12M2.94 26.5h2.12M0.94 27.5h2.12"/>
<path stroke="#10912a" d="M2.94 3.5h1.12M4.94 3.5h1.12M3.94 4.5h1.12M8.94 22.5h2.12M9.94 23.5h1.12"/>
<path stroke="#0f8930" d="M3.94 3.5h1.12M8.94 23.5h1.12"/>
<path stroke="#d9e800" d="M9.94 3.5h1.12M1.94 9.5h1.12M1.94 10.5h1.12M-0.06 14.5h2.12M-3.06 15.5h6.12M-4.06 16.5h1.12M-1.06 16.5h3.12M4.94 16.5h1.12M-1.06 17.5h3.12M-4.06 18.5h1.12M-0.06 18.5h2.12M-0.06 25.5h3.12M-2.06 26.5h2.12M-3.06 27.5h3.12"/>
<path stroke="#c3e300" d="M10.94 3.5h1.12M-7.06 4.5h1.12M9.94 4.5h3.12M-9.06 5.5h4.12M-9.06 6.5h3.12M-9.06 7.5h2.12M1.94 8.5h1.12M0.94 9.5h1.12M2.94 9.5h1.12M-9.06 10.5h2.12M0.94 10.5h1.12M2.94 10.5h1.12M-9.06 11.5h2.12M2.94 11.5h1.12M-12.06 12.5h3.12M-12.06 13.5h3.12M-5.06 13.5h3.12M1.94 13.5h1.12M-12.06 14.5h3.12M-4.06 14.5h4.12M1.94 14.5h3.12M-4.06 15.5h1.12M4.94 15.5h1.12M-5.06 16.5h1.12M-5.06 17.5h1.12M4.94 17.5h1.12M-1.06 18.5h1.12M1.94 18.5h3.12M14.94 18.5h1.12M-2.06 19.5h1.12M-3.06 21.5h1.12M-3.06 22.5h2.12M-4.06 23.5h2.12M-4.06 24.5h1.12M-3.06 25.5h3.12M2.94 25.5h1.12M-3.06 26.5h1.12M-0.06 26.5h3.12M-5.06 27.5h2.12M-0.06 27.5h1.12"/>
<path stroke="#f9e900" d="M2.94 15.5h2.12M2.94 17.5h2.12M-2.06 18.5h1.12"/>
<path stroke="#efee00" d="M-3.06 16.5h2.12M1.94 16.5h1.12M-4.06 17.5h1.12M1.94 17.5h1.12"/>
<path stroke="#fdd000" d="M2.94 16.5h2.12M-3.06 17.5h1.12"/>
<path stroke="#fbdc00" d="M-2.06 17.5h1.12M-3.06 18.5h1.12"/>
<path stroke="#9c9c9c" d="M-13.06 20.5h1.12M-12.06 23.5h1.12M-12.06 25.5h1.12M-10.06 27.5h1.12M-4.06 28.5h1.12M-2.06 28.5h3.12"/>
<path stroke="#a2a2a2" d="M-12.06 24.5h1.12M-11.06 26.5h2.12M-6.06 27.5h1.12M-5.06 28.5h1.12M-3.06 28.5h1.12"/>
<path stroke="#1e1e1e" d="M18.94 26.5h1.12M17.94 27.5h3.12M17.94 28.5h1.12M19.94 28.5h1.12M18.94 29.5h1.12"/>
<path stroke="#242424" d="M19.94 26.5h1.12M17.94 29.5h1.12M19.94 29.5h1.12"/>
<path stroke="#a8a8a8" d="M-9.06 27.5h1.12M-7.06 27.5h1.12"/>
<path stroke="#aeaeae" d="M-8.06 27.5h1.12"/>
<path stroke="#181818" d="M18.94 28.5h1.12"/>
</g></g></g>
<g clip-path="url(#mc6)"><g filter="url(#mb)"><rect x="980.6" y="646.6" width="210.6" height="193.6" fill="#555"/><g transform="translate(1067.10,661.60) scale(5.45)" stroke-width="1.12" fill="none">
<path stroke="#545454" d="M-16.06 -2.5h3.12M-9.06 -2.5h2.12M14.94 -2.5h3.12M-15.06 -1.5h5.12M12.94 -1.5h1.12M16.94 -1.5h1.12M-16.06 -0.5h1.12M-14.06 -0.5h1.12M16.94 -0.5h1.12M18.94 -0.5h1.12M-14.06 0.5h1.12M11.94 0.5h1.12M17.94 0.5h3.12M21.94 0.5h1.12M-16.06 1.5h2.12M11.94 1.5h1.12M18.94 1.5h4.12M-16.06 2.5h1.12M-8.06 2.5h1.12M11.94 2.5h1.12M17.94 2.5h5.12M-16.06 3.5h2.12M-12.06 3.5h1.12M11.94 3.5h2.12M18.94 3.5h1.12M-14.06 4.5h1.12M18.94 4.5h3.12M-14.06 5.5h1.12M13.94 5.5h1.12M17.94 5.5h1.12M19.94 5.5h1.12M-15.06 6.5h2.12M13.94 6.5h1.12M16.94 6.5h5.12M-16.06 7.5h1.12M-14.06 7.5h1.12M14.94 7.5h2.12M17.94 7.5h1.12M19.94 7.5h1.12M-16.06 8.5h1.12M16.94 8.5h1.12M-16.06 9.5h1.12M17.94 9.5h1.12M17.94 10.5h1.12M-16.06 11.5h1.12M-14.06 11.5h1.12M17.94 11.5h1.12M21.94 11.5h1.12M-16.06 12.5h1.12M-14.06 12.5h1.12M21.94 12.5h1.12M-16.06 13.5h1.12M21.94 13.5h1.12M17.94 14.5h1.12M20.94 14.5h2.12M21.94 15.5h1.12M-14.06 16.5h1.12M21.94 16.5h1.12M-15.06 17.5h1.12M-15.06 19.5h1.12M21.94 19.5h1.12M-15.06 20.5h1.12M-15.06 21.5h1.12M17.94 21.5h1.12M21.94 21.5h1.12M-15.06 22.5h1.12M21.94 22.5h1.12M-16.06 23.5h1.12M16.94 24.5h1.12M15.94 25.5h1.12M-13.06 26.5h1.12M-11.06 29.5h1.12M12.94 29.5h1.12M14.94 29.5h1.12M-9.06 30.5h2.12M-6.06 30.5h2.12M-3.06 30.5h1.12M-0.06 30.5h1.12M1.94 30.5h1.12M4.94 30.5h1.12M10.94 30.5h1.12M12.94 30.5h1.12M-11.06 31.5h3.12M-0.06 31.5h4.12M4.94 31.5h1.12M-11.06 32.5h1.12M-7.06 32.5h1.12M-5.06 32.5h2.12M-1.06 32.5h2.12M2.94 32.5h2.12M5.94 32.5h1.12M13.94 32.5h3.12"/>
<path stroke="#5a5a5a" d="M-13.06 -2.5h3.12M-7.06 -2.5h1.12M4.94 -2.5h1.12M7.94 -2.5h2.12M12.94 -2.5h1.12M17.94 -2.5h2.12M20.94 -2.5h2.12M-16.06 -1.5h1.12M11.94 -1.5h1.12M17.94 -1.5h2.12M20.94 -1.5h1.12M-15.06 -0.5h1.12M10.94 -0.5h1.12M17.94 -0.5h1.12M19.94 -0.5h3.12M-15.06 0.5h1.12M20.94 0.5h1.12M10.94 1.5h1.12M17.94 1.5h1.12M-9.06 3.5h1.12M17.94 3.5h1.12M20.94 3.5h2.12M-16.06 4.5h2.12M17.94 4.5h1.12M-16.06 5.5h2.12M-13.06 5.5h1.12M12.94 5.5h1.12M18.94 5.5h1.12M20.94 5.5h2.12M-16.06 6.5h1.12M-13.06 6.5h1.12M21.94 6.5h1.12M-13.06 7.5h1.12M13.94 7.5h1.12M16.94 7.5h1.12M18.94 7.5h1.12M20.94 7.5h2.12M17.94 8.5h2.12M-13.06 9.5h1.12M21.94 9.5h1.12M-13.06 10.5h1.12M21.94 10.5h1.12M17.94 12.5h1.12M-14.06 13.5h1.12M17.94 13.5h1.12M-16.06 15.5h1.12M-14.06 15.5h1.12M-16.06 16.5h1.12M-16.06 17.5h1.12M-14.06 17.5h1.12M16.94 17.5h1.12M-15.06 18.5h1.12M16.94 18.5h1.12M-16.06 19.5h1.12M16.94 19.5h1.12M-14.06 22.5h1.12M14.94 26.5h1.12M13.94 27.5h1.12M13.94 28.5h1.12M-9.06 29.5h1.12M13.94 29.5h1.12M-11.06 30.5h1.12M-2.06 30.5h2.12M0.94 30.5h1.12M2.94 30.5h2.12M11.94 30.5h1.12M13.94 30.5h1.12M9.94 31.5h1.12M11.94 31.5h3.12M-10.06 32.5h1.12M-8.06 32.5h1.12M-3.06 32.5h2.12M0.94 32.5h2.12M4.94 32.5h1.12M9.94 32.5h1.12M11.94 32.5h2.12"/>
<path stroke="#4e4e4e" d="M-10.06 -2.5h1.12M13.94 -2.5h1.12M-10.06 -1.5h3.12M-13.06 -0.5h1.12M11.94 -0.5h2.12M-16.06 0.5h1.12M16.94 0.5h1.12M-14.06 1.5h1.12M12.94 1.5h1.12M16.94 1.5h1.12M-15.06 2.5h1.12M-13.06 2.5h1.12M12.94 2.5h1.12M16.94 2.5h1.12M-14.06 3.5h2.12M16.94 3.5h1.12M19.94 3.5h1.12M-13.06 4.5h1.12M12.94 4.5h1.12M16.94 5.5h1.12M-15.06 7.5h1.12M-15.06 8.5h2.12M19.94 8.5h3.12M-15.06 9.5h2.12M18.94 9.5h1.12M20.94 9.5h1.12M-16.06 10.5h3.12M20.94 10.5h1.12M-15.06 11.5h1.12M20.94 11.5h1.12M18.94 12.5h1.12M20.94 13.5h1.12M-16.06 14.5h2.12M18.94 14.5h2.12M-15.06 15.5h1.12M17.94 15.5h1.12M-15.06 16.5h1.12M17.94 17.5h1.12M21.94 17.5h1.12M21.94 18.5h1.12M19.94 19.5h1.12M21.94 20.5h1.12M20.94 21.5h1.12M17.94 22.5h1.12M-15.06 23.5h2.12M21.94 23.5h1.12M-16.06 24.5h1.12M14.94 27.5h1.12M14.94 28.5h1.12M-12.06 29.5h1.12M-7.06 30.5h1.12M-4.06 30.5h1.12M5.94 30.5h1.12M8.94 30.5h1.12M14.94 30.5h1.12M-8.06 31.5h2.12M-2.06 31.5h2.12M3.94 31.5h1.12M14.94 31.5h1.12M-12.06 32.5h1.12M-6.06 32.5h1.12M6.94 32.5h1.12M8.94 32.5h1.12M16.94 32.5h1.12"/>
<path stroke="#606060" d="M-6.06 -2.5h2.12M-3.06 -2.5h1.12M1.94 -2.5h1.12M3.94 -2.5h1.12M5.94 -2.5h2.12M9.94 -2.5h3.12M19.94 -2.5h1.12M-7.06 -1.5h1.12M9.94 -1.5h2.12M19.94 -1.5h1.12M21.94 -1.5h1.12M-7.06 -0.5h1.12M9.94 -0.5h1.12M10.94 0.5h1.12M-10.06 3.5h1.12M-12.06 4.5h1.12M21.94 4.5h1.12M-13.06 8.5h1.12M14.94 8.5h2.12M16.94 9.5h1.12M16.94 10.5h1.12M-14.06 14.5h1.12M16.94 15.5h1.12M16.94 16.5h1.12M-16.06 18.5h1.12M-14.06 19.5h1.12M-16.06 20.5h1.12M16.94 20.5h1.12M-16.06 21.5h1.12M16.94 21.5h1.12M-16.06 22.5h1.12M16.94 22.5h1.12M16.94 23.5h1.12M-12.06 27.5h1.12M-11.06 28.5h1.12M-10.06 29.5h1.12M-8.06 29.5h2.12M7.94 29.5h1.12M11.94 29.5h1.12M-10.06 30.5h1.12M9.94 30.5h1.12M10.94 31.5h1.12M-9.06 32.5h1.12M10.94 32.5h1.12"/>
<path stroke="#666666" d="M-4.06 -2.5h1.12M-2.06 -2.5h4.12M2.94 -2.5h1.12M5.94 -1.5h1.12M8.94 -1.5h1.12M7.94 -0.5h2.12M-7.06 0.5h1.12M8.94 0.5h1.12M-7.06 1.5h1.12M-7.06 2.5h1.12M-11.06 3.5h1.12M-8.06 3.5h1.12M14.94 9.5h2.12M16.94 11.5h1.12M16.94 12.5h1.12M16.94 13.5h1.12M16.94 14.5h1.12M-14.06 18.5h1.12M-14.06 20.5h1.12M-14.06 21.5h1.12M15.94 24.5h1.12M-13.06 25.5h1.12M12.94 28.5h1.12M1.94 29.5h1.12M6.94 29.5h1.12M8.94 29.5h3.12"/>
<path stroke="#727272" d="M-6.06 -1.5h1.12M-3.06 -1.5h1.12M3.94 -1.5h2.12M5.94 -0.5h1.12M-12.06 5.5h1.12M15.94 11.5h1.12M-13.06 12.5h1.12M15.94 12.5h1.12M15.94 17.5h1.12M15.94 18.5h1.12M15.94 19.5h1.12M15.94 20.5h1.12M15.94 23.5h1.12M14.94 24.5h1.12M13.94 26.5h1.12M-11.06 27.5h1.12M-10.06 28.5h1.12M-3.06 29.5h1.12M-0.06 29.5h2.12M3.94 29.5h2.12"/>
<path stroke="#787878" d="M-5.06 -1.5h2.12M-2.06 -1.5h1.12M-11.06 5.5h1.12M-12.06 6.5h1.12M-12.06 7.5h1.12M-12.06 8.5h1.12M-12.06 9.5h1.12M-12.06 10.5h1.12M-12.06 11.5h1.12M-13.06 13.5h1.12M15.94 13.5h1.12M15.94 14.5h1.12M15.94 15.5h1.12M15.94 16.5h1.12M15.94 21.5h1.12M15.94 22.5h1.12M13.94 25.5h1.12M12.94 27.5h1.12M-7.06 28.5h1.12M10.94 28.5h1.12M-5.06 29.5h2.12M-2.06 29.5h2.12"/>
<path stroke="#848484" d="M-1.06 -1.5h1.12M1.94 -1.5h2.12M-3.06 -0.5h1.12M-6.06 0.5h1.12M-13.06 15.5h1.12M-13.06 16.5h1.12M-13.06 17.5h1.12M-13.06 22.5h1.12M4.94 28.5h1.12M6.94 28.5h1.12"/>
<path stroke="#8a8a8a" d="M-0.06 -1.5h2.12M-5.06 -0.5h1.12M3.94 -0.5h1.12M-13.06 18.5h1.12M11.94 27.5h1.12M1.94 28.5h3.12M5.94 28.5h1.12"/>
<path stroke="#6c6c6c" d="M6.94 -1.5h2.12M6.94 -0.5h1.12M9.94 0.5h1.12M-11.06 4.5h1.12M15.94 10.5h1.12M-13.06 11.5h1.12M-13.06 23.5h1.12M-13.06 24.5h1.12M14.94 25.5h1.12M11.94 28.5h1.12M-6.06 29.5h1.12M2.94 29.5h1.12M5.94 29.5h1.12"/>
<path stroke="#484848" d="M13.94 -1.5h3.12M-12.06 -0.5h1.12M-8.06 -0.5h1.12M13.94 -0.5h3.12M-13.06 0.5h1.12M12.94 0.5h1.12M-13.06 1.5h1.12M-14.06 2.5h1.12M-12.06 2.5h2.12M16.94 4.5h1.12M14.94 6.5h2.12M19.94 9.5h1.12M18.94 10.5h1.12M18.94 11.5h1.12M-15.06 12.5h1.12M20.94 12.5h1.12M-15.06 13.5h1.12M18.94 13.5h2.12M18.94 15.5h1.12M20.94 15.5h1.12M17.94 16.5h1.12M20.94 17.5h1.12M17.94 18.5h1.12M20.94 18.5h1.12M17.94 19.5h1.12M20.94 19.5h1.12M17.94 20.5h4.12M18.94 21.5h2.12M20.94 22.5h1.12M17.94 23.5h1.12M-15.06 24.5h2.12M-16.06 25.5h1.12M16.94 25.5h1.12M15.94 26.5h1.12M15.94 27.5h1.12M-12.06 28.5h1.12M-12.06 30.5h1.12M15.94 30.5h1.12M-12.06 31.5h1.12M-6.06 31.5h4.12M5.94 31.5h1.12M8.94 31.5h1.12M15.94 31.5h2.12M17.94 32.5h1.12"/>
<path stroke="#424242" d="M-11.06 -0.5h2.12M-12.06 0.5h1.12M-8.06 0.5h1.12M13.94 0.5h3.12M-12.06 1.5h1.12M-8.06 1.5h1.12M13.94 1.5h3.12M13.94 2.5h1.12M15.94 2.5h1.12M13.94 3.5h1.12M13.94 4.5h1.12M14.94 5.5h1.12M19.94 10.5h1.12M19.94 11.5h1.12M19.94 12.5h1.12M19.94 15.5h1.12M20.94 16.5h1.12M18.94 17.5h1.12M18.94 18.5h2.12M18.94 19.5h1.12M18.94 22.5h1.12M17.94 24.5h1.12M21.94 24.5h1.12M-14.06 25.5h1.12M17.94 25.5h1.12M21.94 25.5h1.12M-16.06 26.5h1.12M16.94 26.5h2.12M21.94 26.5h1.12M-13.06 27.5h1.12M15.94 28.5h1.12M15.94 29.5h1.12M-16.06 31.5h1.12M-16.06 32.5h1.12M-13.06 32.5h1.12M7.94 32.5h1.12M18.94 32.5h1.12"/>
<path stroke="#3c3c3c" d="M-9.06 -0.5h1.12M-11.06 0.5h1.12M-11.06 1.5h1.12M-10.06 2.5h2.12M15.94 4.5h1.12M15.94 5.5h1.12M18.94 16.5h2.12M19.94 17.5h1.12M19.94 22.5h1.12M18.94 23.5h3.12M-15.06 25.5h1.12M-15.06 26.5h2.12M-16.06 27.5h1.12M16.94 27.5h1.12M-13.06 28.5h1.12M-13.06 29.5h1.12M-16.06 30.5h1.12M6.94 30.5h2.12M16.94 30.5h1.12M-13.06 31.5h1.12M17.94 31.5h1.12M-15.06 32.5h1.12M21.94 32.5h1.12"/>
<path stroke="#7e7e7e" d="M-6.06 -0.5h1.12M-2.06 -0.5h1.12M4.94 -0.5h1.12M-2.06 0.5h2.12M-13.06 14.5h1.12M12.94 26.5h1.12M10.94 27.5h1.12M-9.06 28.5h2.12M7.94 28.5h3.12"/>
<path stroke="#909090" d="M-4.06 -0.5h1.12M-1.06 -0.5h1.12M2.94 -0.5h1.12M-13.06 19.5h1.12M-13.06 21.5h1.12M-12.06 22.5h1.12M-12.06 26.5h1.12"/>
<path stroke="#969696" d="M-0.06 -0.5h1.12M1.94 -0.5h1.12M-3.06 0.5h1.12M-13.06 20.5h1.12M-6.06 28.5h1.12M0.94 28.5h1.12"/>
<path stroke="#9c9c9c" d="M0.94 -0.5h1.12M-5.06 0.5h1.12M-12.06 23.5h1.12M-12.06 24.5h1.12M-12.06 25.5h1.12M-11.06 26.5h1.12M-10.06 27.5h1.12M-4.06 28.5h1.12M-2.06 28.5h3.12"/>
<path stroke="#363636" d="M-10.06 0.5h2.12M14.94 2.5h1.12M14.94 3.5h2.12M14.94 4.5h1.12M18.94 24.5h1.12M20.94 24.5h1.12M18.94 25.5h1.12M20.94 25.5h1.12M-15.06 27.5h2.12M-16.06 28.5h3.12M16.94 28.5h1.12M-16.06 29.5h1.12M16.94 29.5h1.12M17.94 30.5h1.12M21.94 31.5h1.12M-14.06 32.5h1.12M19.94 32.5h2.12"/>
<path stroke="#a2a2a2" d="M-4.06 0.5h1.12M-10.06 26.5h1.12M-6.06 27.5h1.12M-5.06 28.5h1.12M-3.06 28.5h1.12"/>
<path stroke="#10912a" d="M-0.06 0.5h1.12M-1.06 1.5h1.12M-4.06 3.5h2.12M6.94 3.5h1.12M-6.06 4.5h1.12M-9.06 5.5h1.12M6.94 5.5h3.12M11.94 5.5h1.12M-11.06 6.5h6.12M-4.06 6.5h3.12M8.94 6.5h1.12M11.94 6.5h1.12M-8.06 7.5h1.12M-4.06 7.5h2.12M4.94 7.5h5.12M11.94 7.5h2.12M5.94 8.5h1.12M10.94 8.5h1.12M12.94 8.5h2.12M11.94 9.5h1.12M-9.06 10.5h2.12M-11.06 11.5h1.12M-7.06 11.5h1.12M-1.06 12.5h1.12M9.94 12.5h2.12M-5.06 13.5h3.12M-0.06 13.5h1.12M9.94 13.5h3.12M8.94 14.5h3.12M-8.06 15.5h3.12M-2.06 15.5h1.12M0.94 15.5h1.12M8.94 15.5h3.12M-1.06 16.5h3.12M13.94 16.5h1.12M3.94 18.5h1.12M-0.06 19.5h1.12M1.94 19.5h1.12M5.94 19.5h1.12M-1.06 20.5h1.12M6.94 20.5h1.12M13.94 20.5h1.12M-0.06 21.5h1.12M6.94 21.5h2.12M-7.06 22.5h1.12M-3.06 22.5h1.12M1.94 22.5h4.12M8.94 22.5h1.12M13.94 22.5h1.12M-2.06 23.5h1.12M7.94 23.5h1.12M13.94 23.5h1.12M-9.06 24.5h1.12M6.94 24.5h1.12M-11.06 25.5h1.12M3.94 25.5h1.12M-9.06 26.5h1.12M3.94 26.5h1.12M-5.06 27.5h1.12M-1.06 27.5h1.12M1.94 27.5h1.12M3.94 27.5h1.12"/>
<path stroke="#0e8136" d="M0.94 0.5h1.12M7.94 0.5h1.12M-2.06 3.5h1.12M5.94 3.5h1.12M-5.06 4.5h2.12M4.94 4.5h1.12M-5.06 5.5h3.12M4.94 5.5h1.12M3.94 6.5h1.12M1.94 7.5h2.12M-8.06 8.5h1.12M-6.06 8.5h1.12M-4.06 8.5h1.12M-10.06 9.5h4.12M-4.06 9.5h1.12M-6.06 11.5h1.12M-4.06 11.5h1.12M-5.06 12.5h1.12M14.94 13.5h1.12M13.94 15.5h1.12M3.94 19.5h1.12M0.94 21.5h1.12M4.94 21.5h2.12M4.94 26.5h1.12M4.94 27.5h1.12"/>
<path stroke="#0d7a3c" d="M1.94 0.5h2.12M0.94 1.5h1.12M7.94 1.5h1.12M6.94 2.5h1.12M4.94 3.5h1.12M-3.06 4.5h1.12M-2.06 5.5h1.12M-11.06 7.5h2.12M0.94 7.5h1.12M-9.06 8.5h1.12M-7.06 8.5h1.12M-5.06 8.5h1.12M-11.06 9.5h1.12M-6.06 9.5h1.12M-6.06 10.5h1.12M-4.06 10.5h1.12M-5.06 11.5h1.12M-1.06 14.5h1.12M-1.06 15.5h1.12M14.94 18.5h1.12M0.94 20.5h1.12M4.94 20.5h1.12M3.94 21.5h1.12M14.94 23.5h1.12M7.94 24.5h1.12M11.94 24.5h1.12M5.94 26.5h1.12M5.94 27.5h1.12"/>
<path stroke="#0d7242" d="M3.94 0.5h1.12M1.94 1.5h1.12M-1.06 3.5h1.12M-2.06 4.5h1.12M-1.06 5.5h1.12M-0.06 6.5h1.12M-11.06 8.5h2.12M-5.06 9.5h1.12M2.94 20.5h2.12M1.94 21.5h1.12M8.94 24.5h1.12M6.94 25.5h1.12"/>
<path stroke="#0b5e54" d="M4.94 0.5h1.12M3.94 1.5h1.12M0.94 2.5h3.12M-0.06 5.5h1.12M1.94 6.5h1.12"/>
<path stroke="#0b5260" d="M5.94 0.5h1.12M6.94 1.5h1.12M2.94 3.5h1.12M-0.06 4.5h1.12M14.94 21.5h1.12"/>
<path stroke="#0c644e" d="M6.94 0.5h1.12M3.94 2.5h3.12M3.94 3.5h1.12M3.94 4.5h1.12M0.94 6.5h1.12M14.94 19.5h1.12M14.94 22.5h1.12M12.94 25.5h1.12M6.94 26.5h1.12M6.94 27.5h1.12"/>
<path stroke="#303030" d="M-10.06 1.5h1.12M19.94 24.5h1.12M19.94 25.5h1.12M17.94 27.5h1.12M21.94 27.5h1.12M-14.06 29.5h1.12M-13.06 30.5h1.12M-14.06 31.5h1.12M6.94 31.5h2.12"/>
<path stroke="#2a2a2a" d="M-9.06 1.5h1.12M18.94 26.5h1.12M20.94 26.5h1.12M18.94 27.5h1.12M17.94 28.5h1.12M21.94 28.5h1.12M-15.06 29.5h1.12M17.94 29.5h1.12M-15.06 30.5h1.12M21.94 30.5h1.12M-15.06 31.5h1.12M18.94 31.5h3.12"/>
<path stroke="#3aaf16" d="M-6.06 1.5h3.12M-5.06 2.5h2.12M9.94 3.5h2.12M-0.06 10.5h1.12M12.94 10.5h1.12M12.94 11.5h1.12M-12.06 13.5h2.12M-9.06 13.5h1.12M5.94 13.5h1.12M-11.06 14.5h1.12M2.94 14.5h2.12M3.94 15.5h1.12M6.94 15.5h1.12M-3.06 16.5h1.12M-5.06 17.5h1.12M-2.06 17.5h1.12M6.94 17.5h1.12M12.94 17.5h1.12M-10.06 18.5h1.12M-5.06 18.5h1.12M-10.06 19.5h4.12M-4.06 19.5h1.12M12.94 19.5h1.12M-10.06 20.5h4.12M10.94 21.5h1.12M12.94 21.5h1.12"/>
<path stroke="#2ea81b" d="M-3.06 1.5h1.12M9.94 1.5h1.12M-6.06 2.5h1.12M-3.06 2.5h1.12M9.94 2.5h2.12M8.94 8.5h2.12M-2.06 9.5h3.12M4.94 9.5h1.12M8.94 9.5h2.12M-1.06 10.5h1.12M13.94 10.5h1.12M-1.06 11.5h1.12M5.94 11.5h1.12M13.94 11.5h1.12M-12.06 12.5h4.12M-0.06 12.5h1.12M5.94 12.5h1.12M-8.06 13.5h2.12M-12.06 14.5h1.12M-10.06 14.5h2.12M1.94 14.5h1.12M6.94 14.5h1.12M-11.06 15.5h1.12M-12.06 16.5h2.12M-5.06 16.5h2.12M3.94 16.5h1.12M-10.06 17.5h1.12M-8.06 17.5h3.12M4.94 17.5h1.12M7.94 17.5h2.12M13.94 17.5h1.12M-9.06 18.5h4.12M5.94 18.5h6.12M12.94 18.5h1.12M-6.06 19.5h1.12M10.94 19.5h1.12M-12.06 20.5h2.12M-6.06 20.5h1.12M-3.06 20.5h1.12M10.94 20.5h1.12M9.94 21.5h1.12M10.94 22.5h3.12M-4.06 24.5h1.12M0.94 24.5h3.12M-2.06 25.5h1.12M1.94 25.5h2.12M-2.06 26.5h1.12M-4.06 27.5h2.12"/>
<path stroke="#23a020" d="M-2.06 1.5h1.12M-2.06 2.5h1.12M8.94 2.5h1.12M-7.06 3.5h2.12M8.94 3.5h1.12M8.94 4.5h1.12M9.94 5.5h1.12M-2.06 8.5h1.12M0.94 8.5h5.12M7.94 8.5h1.12M7.94 9.5h1.12M12.94 9.5h1.12M-2.06 10.5h1.12M5.94 10.5h1.12M7.94 10.5h3.12M11.94 10.5h1.12M-9.06 11.5h1.12M-2.06 11.5h1.12M7.94 11.5h1.12M11.94 11.5h1.12M14.94 11.5h1.12M-8.06 12.5h2.12M6.94 12.5h2.12M12.94 12.5h1.12M6.94 13.5h2.12M-8.06 14.5h1.12M-6.06 14.5h1.12M7.94 14.5h1.12M-12.06 15.5h1.12M-4.06 15.5h2.12M2.94 15.5h1.12M7.94 15.5h1.12M-10.06 16.5h1.12M-6.06 16.5h1.12M-2.06 16.5h1.12M2.94 16.5h1.12M7.94 16.5h1.12M12.94 16.5h1.12M-9.06 17.5h1.12M9.94 17.5h3.12M-1.06 18.5h3.12M11.94 18.5h1.12M-5.06 19.5h1.12M8.94 19.5h2.12M-5.06 20.5h2.12M-2.06 20.5h1.12M9.94 20.5h1.12M-6.06 21.5h3.12M-5.06 22.5h1.12M-1.06 22.5h2.12M9.94 22.5h1.12M-8.06 23.5h1.12M-4.06 23.5h1.12M-0.06 23.5h3.12M5.94 23.5h1.12M11.94 23.5h2.12M-5.06 24.5h1.12M-3.06 24.5h1.12M-0.06 24.5h1.12M5.94 24.5h1.12M-0.06 25.5h2.12M-8.06 26.5h2.12M-2.06 27.5h1.12"/>
<path stroke="#0f8930" d="M-0.06 1.5h1.12M-1.06 2.5h1.12M7.94 2.5h1.12M5.94 4.5h2.12M-6.06 5.5h1.12M5.94 5.5h1.12M-5.06 6.5h1.12M-1.06 6.5h1.12M4.94 6.5h4.12M9.94 6.5h2.12M-9.06 7.5h1.12M-7.06 7.5h3.12M-0.06 7.5h1.12M9.94 7.5h2.12M11.94 8.5h1.12M-11.06 10.5h2.12M-7.06 10.5h1.12M-4.06 12.5h1.12M14.94 12.5h1.12M-2.06 13.5h2.12M13.94 13.5h1.12M-2.06 14.5h1.12M-0.06 14.5h1.12M11.94 14.5h4.12M-0.06 15.5h1.12M11.94 15.5h2.12M14.94 15.5h1.12M14.94 16.5h1.12M14.94 17.5h1.12M2.94 19.5h1.12M4.94 19.5h1.12M-0.06 20.5h1.12M5.94 20.5h1.12M5.94 22.5h3.12M8.94 23.5h1.12M12.94 24.5h2.12M4.94 25.5h2.12"/>
<path stroke="#0c6a48" d="M2.94 1.5h1.12M-0.06 2.5h1.12M-1.06 4.5h1.12M3.94 5.5h1.12M2.94 6.5h1.12M-5.06 10.5h1.12M1.94 20.5h1.12M2.94 21.5h1.12M9.94 24.5h2.12"/>
<path stroke="#0a4c66" d="M4.94 1.5h1.12M0.94 3.5h1.12M2.94 4.5h1.12M0.94 5.5h2.12M8.94 25.5h1.12M7.94 26.5h1.12"/>
<path stroke="#09406d" d="M5.94 1.5h1.12M0.94 4.5h2.12M9.94 25.5h1.12M7.94 27.5h1.12"/>
<path stroke="#179825" d="M8.94 1.5h1.12M-5.06 3.5h1.12M7.94 3.5h1.12M-10.06 4.5h4.12M7.94 4.5h1.12M11.94 4.5h1.12M-10.06 5.5h1.12M-8.06 5.5h2.12M10.94 5.5h1.12M12.94 6.5h1.12M-2.06 7.5h2.12M3.94 7.5h1.12M-3.06 8.5h1.12M-1.06 8.5h2.12M6.94 8.5h1.12M-3.06 9.5h1.12M5.94 9.5h2.12M10.94 9.5h1.12M13.94 9.5h1.12M-3.06 10.5h1.12M6.94 10.5h1.12M10.94 10.5h1.12M14.94 10.5h1.12M-10.06 11.5h1.12M-8.06 11.5h1.12M-3.06 11.5h1.12M6.94 11.5h1.12M8.94 11.5h3.12M-6.06 12.5h1.12M-3.06 12.5h2.12M8.94 12.5h1.12M11.94 12.5h1.12M13.94 12.5h1.12M-6.06 13.5h1.12M8.94 13.5h1.12M12.94 13.5h1.12M-7.06 14.5h1.12M-5.06 14.5h3.12M0.94 14.5h1.12M-10.06 15.5h2.12M-5.06 15.5h1.12M1.94 15.5h1.12M-9.06 16.5h3.12M1.94 16.5h1.12M8.94 16.5h4.12M-1.06 17.5h6.12M1.94 18.5h2.12M4.94 18.5h1.12M13.94 18.5h1.12M-1.06 19.5h1.12M0.94 19.5h1.12M6.94 19.5h2.12M13.94 19.5h1.12M7.94 20.5h2.12M-12.06 21.5h6.12M-3.06 21.5h3.12M8.94 21.5h1.12M13.94 21.5h1.12M-11.06 22.5h4.12M-6.06 22.5h1.12M-4.06 22.5h1.12M-2.06 22.5h1.12M0.94 22.5h1.12M-11.06 23.5h3.12M-7.06 23.5h3.12M-3.06 23.5h1.12M-1.06 23.5h1.12M2.94 23.5h3.12M6.94 23.5h1.12M9.94 23.5h2.12M-11.06 24.5h2.12M-8.06 24.5h3.12M-2.06 24.5h2.12M3.94 24.5h2.12M-10.06 25.5h6.12M-1.06 25.5h1.12M-6.06 26.5h2.12M-1.06 26.5h5.12M-0.06 27.5h2.12M2.94 27.5h1.12"/>
<path stroke="#0b585a" d="M-0.06 3.5h1.12M2.94 5.5h1.12M14.94 20.5h1.12M7.94 25.5h1.12M11.94 25.5h1.12"/>
<path stroke="#0a466b" d="M1.94 3.5h1.12M10.94 25.5h1.12M11.94 26.5h1.12"/>
<path stroke="#5dc00c" d="M9.94 4.5h1.12M1.94 9.5h2.12M4.94 11.5h1.12M4.94 12.5h1.12M-12.06 18.5h2.12M-2.06 18.5h1.12M11.94 20.5h1.12"/>
<path stroke="#46b611" d="M10.94 4.5h1.12M0.94 9.5h1.12M3.94 9.5h1.12M4.94 10.5h1.12M-0.06 11.5h1.12M-10.06 13.5h1.12M0.94 13.5h1.12M4.94 13.5h1.12M4.94 14.5h2.12M4.94 15.5h2.12M4.94 16.5h3.12M-12.06 17.5h2.12M-4.06 17.5h1.12M5.94 17.5h1.12M-4.06 18.5h1.12M-12.06 19.5h2.12M-2.06 19.5h1.12M11.94 19.5h1.12M12.94 20.5h1.12M11.94 21.5h1.12M-4.06 25.5h2.12M-4.06 26.5h2.12"/>
<path stroke="#78ca08" d="M0.94 10.5h1.12M-3.06 17.5h1.12"/>
<path stroke="#d9e800" d="M1.94 10.5h2.12M3.94 12.5h1.12"/>
<path stroke="#acdd00" d="M3.94 10.5h1.12M2.94 13.5h1.12M-3.06 19.5h1.12"/>
<path stroke="#c3e300" d="M0.94 11.5h1.12M-3.06 18.5h1.12"/>
<path stroke="#fbdc00" d="M1.94 11.5h2.12M2.94 12.5h1.12"/>
<path stroke="#efee00" d="M3.94 11.5h1.12"/>
<path stroke="#93d404" d="M0.94 12.5h1.12M1.94 13.5h1.12M3.94 13.5h1.12"/>
<path stroke="#f9e900" d="M1.94 12.5h1.12"/>
<path stroke="#093a70" d="M8.94 26.5h1.12"/>
<path stroke="#082777" d="M9.94 26.5h1.12"/>
<path stroke="#093372" d="M10.94 26.5h1.12M9.94 27.5h1.12"/>
<path stroke="#242424" d="M19.94 26.5h1.12M20.94 27.5h1.12M20.94 28.5h1.12M20.94 29.5h2.12M-14.06 30.5h1.12M18.94 30.5h1.12M20.94 30.5h1.12"/>
<path stroke="#a8a8a8" d="M-9.06 27.5h1.12M-7.06 27.5h1.12"/>
<path stroke="#aeaeae" d="M-8.06 27.5h1.12"/>
<path stroke="#082d75" d="M8.94 27.5h1.12"/>
<path stroke="#1e1e1e" d="M19.94 27.5h1.12M18.94 28.5h1.12M18.94 29.5h1.12M19.94 30.5h1.12"/>
<path stroke="#181818" d="M19.94 28.5h1.12M19.94 29.5h1.12"/>
</g></g></g>
<g clip-path="url(#mc7)"><g filter="url(#mb)"><rect x="1198.5" y="647.3" width="210.7" height="192.7" fill="#555"/><g transform="translate(1286.20,664.30) scale(5.45)" stroke-width="1.12" fill="none">
<path stroke="#5a5a5a" d="M-16.06 -3.5h1.12M-7.06 -3.5h3.12M-2.06 -3.5h1.12M-0.06 -3.5h1.12M4.94 -3.5h2.12M7.94 -3.5h6.12M14.94 -3.5h1.12M17.94 -3.5h2.12M21.94 -3.5h1.12M-7.06 -2.5h1.12M7.94 -2.5h2.12M11.94 -2.5h1.12M17.94 -2.5h2.12M20.94 -2.5h2.12M-16.06 -1.5h1.12M9.94 -1.5h3.12M17.94 -1.5h2.12M20.94 -1.5h1.12M-15.06 -0.5h1.12M10.94 -0.5h1.12M17.94 -0.5h1.12M19.94 -0.5h3.12M20.94 0.5h1.12M10.94 1.5h1.12M17.94 1.5h1.12M-8.06 2.5h1.12M18.94 2.5h1.12M17.94 3.5h1.12M20.94 3.5h2.12M-15.06 4.5h1.12M17.94 4.5h1.12M-13.06 5.5h1.12M12.94 5.5h1.12M17.94 5.5h2.12M20.94 5.5h2.12M17.94 6.5h1.12M21.94 6.5h1.12M-13.06 7.5h1.12M13.94 7.5h2.12M16.94 7.5h3.12M20.94 7.5h2.12M16.94 8.5h2.12M-13.06 9.5h1.12M21.94 9.5h1.12M-13.06 10.5h1.12M21.94 10.5h1.12M17.94 12.5h1.12M-14.06 13.5h1.12M21.94 14.5h1.12M-16.06 15.5h1.12M-14.06 15.5h1.12M21.94 15.5h1.12M-16.06 16.5h1.12M-16.06 17.5h1.12M-14.06 17.5h1.12M16.94 17.5h1.12M-16.06 18.5h2.12M16.94 18.5h1.12M-16.06 19.5h1.12M16.94 19.5h1.12M-14.06 22.5h1.12M16.94 23.5h1.12M14.94 26.5h1.12M13.94 27.5h1.12M-11.06 29.5h1.12M-9.06 29.5h1.12M-7.06 29.5h1.12M6.94 29.5h2.12M13.94 29.5h1.12M-11.06 30.5h2.12M2.94 30.5h1.12M11.94 30.5h1.12M13.94 30.5h1.12M-10.06 31.5h1.12M0.94 31.5h2.12M9.94 31.5h1.12M11.94 31.5h3.12M-11.06 32.5h2.12M-8.06 32.5h1.12M-4.06 32.5h2.12M0.94 32.5h1.12M4.94 32.5h3.12M9.94 32.5h1.12M11.94 32.5h2.12"/>
<path stroke="#545454" d="M-15.06 -3.5h3.12M-11.06 -3.5h4.12M6.94 -3.5h1.12M13.94 -3.5h1.12M19.94 -3.5h2.12M-16.06 -2.5h6.12M-9.06 -2.5h2.12M12.94 -2.5h1.12M14.94 -2.5h3.12M-15.06 -1.5h1.12M-13.06 -1.5h2.12M12.94 -1.5h1.12M16.94 -1.5h1.12M-16.06 -0.5h1.12M16.94 -0.5h1.12M18.94 -0.5h1.12M-15.06 0.5h1.12M11.94 0.5h1.12M17.94 0.5h3.12M21.94 0.5h1.12M-16.06 1.5h2.12M11.94 1.5h1.12M18.94 1.5h4.12M-16.06 2.5h1.12M11.94 2.5h1.12M16.94 2.5h2.12M19.94 2.5h3.12M-16.06 3.5h2.12M-12.06 3.5h1.12M11.94 3.5h1.12M18.94 3.5h1.12M-16.06 4.5h1.12M-14.06 4.5h1.12M18.94 4.5h3.12M-16.06 5.5h3.12M13.94 5.5h1.12M16.94 5.5h1.12M19.94 5.5h1.12M-16.06 6.5h1.12M-14.06 6.5h1.12M13.94 6.5h1.12M16.94 6.5h1.12M18.94 6.5h3.12M-16.06 7.5h1.12M-14.06 7.5h1.12M15.94 7.5h1.12M19.94 7.5h1.12M-16.06 8.5h1.12M18.94 8.5h1.12M17.94 9.5h1.12M17.94 10.5h1.12M-14.06 11.5h1.12M20.94 11.5h2.12M-16.06 12.5h1.12M-14.06 12.5h1.12M21.94 12.5h1.12M-16.06 13.5h1.12M17.94 13.5h1.12M21.94 13.5h1.12M17.94 14.5h1.12M20.94 14.5h1.12M-14.06 16.5h1.12M21.94 16.5h1.12M-15.06 17.5h1.12M-15.06 19.5h1.12M21.94 19.5h1.12M-15.06 20.5h1.12M-15.06 21.5h1.12M21.94 21.5h1.12M21.94 22.5h1.12M15.94 25.5h1.12M-13.06 26.5h1.12M13.94 28.5h1.12M12.94 29.5h1.12M14.94 29.5h1.12M-9.06 30.5h1.12M-2.06 30.5h2.12M0.94 30.5h2.12M3.94 30.5h1.12M10.94 30.5h1.12M12.94 30.5h1.12M-11.06 31.5h1.12M-9.06 31.5h3.12M-3.06 31.5h4.12M2.94 31.5h1.12M4.94 31.5h1.12M8.94 31.5h1.12M-12.06 32.5h1.12M-7.06 32.5h1.12M-5.06 32.5h1.12M-1.06 32.5h2.12M2.94 32.5h2.12M8.94 32.5h1.12M13.94 32.5h3.12"/>
<path stroke="#606060" d="M-12.06 -3.5h1.12M-4.06 -3.5h2.12M-1.06 -3.5h1.12M0.94 -3.5h4.12M15.94 -3.5h2.12M4.94 -2.5h3.12M9.94 -2.5h2.12M19.94 -2.5h1.12M-7.06 -1.5h1.12M19.94 -1.5h1.12M21.94 -1.5h1.12M9.94 -0.5h1.12M10.94 0.5h1.12M-10.06 3.5h2.12M-12.06 4.5h1.12M21.94 4.5h1.12M-13.06 6.5h1.12M-13.06 8.5h1.12M14.94 8.5h2.12M16.94 9.5h1.12M16.94 10.5h1.12M-14.06 14.5h1.12M16.94 15.5h1.12M16.94 16.5h1.12M-14.06 19.5h1.12M-16.06 20.5h1.12M16.94 20.5h1.12M-16.06 21.5h1.12M16.94 21.5h1.12M-16.06 22.5h1.12M16.94 22.5h1.12M15.94 24.5h1.12M-12.06 27.5h1.12M-11.06 28.5h1.12M-10.06 29.5h1.12M-8.06 29.5h1.12M8.94 29.5h1.12M11.94 29.5h1.12M9.94 30.5h1.12M10.94 31.5h1.12M-9.06 32.5h1.12M-2.06 32.5h1.12M1.94 32.5h1.12M10.94 32.5h1.12"/>
<path stroke="#4e4e4e" d="M-10.06 -2.5h1.12M13.94 -2.5h1.12M-14.06 -1.5h1.12M-11.06 -1.5h2.12M-8.06 -1.5h1.12M-14.06 -0.5h1.12M11.94 -0.5h2.12M-16.06 0.5h1.12M-14.06 0.5h1.12M16.94 0.5h1.12M-14.06 1.5h1.12M16.94 1.5h1.12M-15.06 2.5h1.12M12.94 2.5h1.12M-14.06 3.5h2.12M12.94 3.5h1.12M16.94 3.5h1.12M19.94 3.5h1.12M-13.06 4.5h1.12M12.94 4.5h1.12M16.94 4.5h1.12M-15.06 6.5h1.12M14.94 6.5h2.12M-15.06 7.5h1.12M-15.06 8.5h2.12M19.94 8.5h3.12M-16.06 9.5h3.12M18.94 9.5h1.12M20.94 9.5h1.12M-14.06 10.5h1.12M20.94 10.5h1.12M-16.06 11.5h2.12M17.94 11.5h1.12M20.94 13.5h1.12M-16.06 14.5h1.12M18.94 14.5h2.12M-15.06 15.5h1.12M-15.06 16.5h1.12M17.94 17.5h1.12M21.94 17.5h1.12M20.94 18.5h2.12M19.94 19.5h1.12M21.94 20.5h1.12M17.94 21.5h1.12M20.94 21.5h1.12M-15.06 22.5h1.12M17.94 22.5h1.12M-16.06 23.5h3.12M21.94 23.5h1.12M16.94 24.5h1.12M-12.06 28.5h1.12M14.94 28.5h1.12M-12.06 29.5h1.12M-8.06 30.5h1.12M-6.06 30.5h1.12M-3.06 30.5h1.12M-0.06 30.5h1.12M4.94 30.5h1.12M8.94 30.5h1.12M14.94 30.5h1.12M-12.06 31.5h1.12M-6.06 31.5h3.12M3.94 31.5h1.12M14.94 31.5h1.12M-6.06 32.5h1.12M7.94 32.5h1.12M16.94 32.5h1.12"/>
<path stroke="#666666" d="M-6.06 -2.5h2.12M-3.06 -2.5h1.12M1.94 -2.5h1.12M3.94 -2.5h1.12M5.94 -1.5h1.12M8.94 -1.5h1.12M-7.06 -0.5h1.12M6.94 -0.5h3.12M8.94 0.5h1.12M-7.06 1.5h1.12M-11.06 3.5h1.12M14.94 9.5h2.12M16.94 11.5h1.12M16.94 12.5h1.12M16.94 13.5h1.12M16.94 14.5h1.12M-14.06 18.5h1.12M-14.06 20.5h1.12M-14.06 21.5h1.12M-13.06 25.5h1.12M12.94 28.5h1.12M-6.06 29.5h1.12M1.94 29.5h2.12M5.94 29.5h1.12M9.94 29.5h2.12"/>
<path stroke="#6c6c6c" d="M-4.06 -2.5h1.12M-2.06 -2.5h3.12M2.94 -2.5h1.12M6.94 -1.5h2.12M-7.06 0.5h1.12M9.94 0.5h1.12M-7.06 2.5h1.12M-8.06 3.5h1.12M15.94 10.5h1.12M-13.06 11.5h1.12M-13.06 23.5h1.12M-13.06 24.5h1.12M14.94 25.5h1.12M11.94 28.5h1.12M3.94 29.5h2.12"/>
<path stroke="#727272" d="M0.94 -2.5h1.12M5.94 -0.5h1.12M-11.06 4.5h1.12M-12.06 5.5h1.12M15.94 11.5h1.12M-13.06 12.5h1.12M15.94 12.5h1.12M15.94 17.5h1.12M15.94 18.5h1.12M15.94 19.5h1.12M15.94 20.5h1.12M15.94 23.5h1.12M14.94 24.5h1.12M13.94 26.5h1.12M-11.06 27.5h1.12M-10.06 28.5h1.12M-3.06 29.5h2.12M-0.06 29.5h2.12"/>
<path stroke="#484848" d="M-9.06 -1.5h1.12M13.94 -1.5h3.12M-13.06 -0.5h1.12M-8.06 -0.5h1.12M13.94 -0.5h3.12M12.94 0.5h1.12M-13.06 1.5h1.12M12.94 1.5h1.12M-14.06 2.5h4.12M19.94 9.5h1.12M-16.06 10.5h2.12M18.94 10.5h1.12M-15.06 12.5h1.12M18.94 12.5h1.12M20.94 12.5h1.12M-15.06 13.5h1.12M18.94 13.5h2.12M-15.06 14.5h1.12M17.94 15.5h2.12M20.94 15.5h1.12M20.94 16.5h1.12M20.94 17.5h1.12M17.94 18.5h1.12M19.94 18.5h1.12M17.94 19.5h1.12M20.94 19.5h1.12M17.94 20.5h1.12M19.94 20.5h2.12M18.94 21.5h2.12M20.94 22.5h1.12M-16.06 24.5h3.12M14.94 27.5h2.12M-12.06 30.5h1.12M-7.06 30.5h1.12M-5.06 30.5h2.12M5.94 31.5h1.12M15.94 31.5h2.12M-16.06 32.5h1.12M-13.06 32.5h1.12M17.94 32.5h1.12"/>
<path stroke="#787878" d="M-6.06 -1.5h1.12M-3.06 -1.5h1.12M3.94 -1.5h2.12M-2.06 -0.5h1.12M4.94 -0.5h1.12M-2.06 0.5h2.12M-11.06 5.5h1.12M-12.06 7.5h1.12M-12.06 10.5h1.12M-13.06 13.5h1.12M15.94 13.5h1.12M15.94 14.5h1.12M15.94 15.5h1.12M15.94 16.5h1.12M15.94 21.5h1.12M15.94 22.5h1.12M13.94 25.5h1.12M12.94 27.5h1.12M-7.06 28.5h1.12M10.94 28.5h1.12M-5.06 29.5h2.12M-1.06 29.5h1.12"/>
<path stroke="#7e7e7e" d="M-5.06 -1.5h2.12M-2.06 -1.5h1.12M-6.06 -0.5h1.12M3.94 -0.5h1.12M-12.06 6.5h1.12M-12.06 8.5h1.12M-12.06 9.5h1.12M-12.06 11.5h1.12M-13.06 14.5h1.12M12.94 26.5h1.12M10.94 27.5h1.12M-9.06 28.5h2.12M7.94 28.5h3.12"/>
<path stroke="#8a8a8a" d="M-1.06 -1.5h1.12M1.94 -1.5h2.12M-5.06 -0.5h2.12M-1.06 -0.5h1.12M1.94 -0.5h1.12M11.94 27.5h1.12M1.94 28.5h3.12M5.94 28.5h1.12"/>
<path stroke="#909090" d="M-0.06 -1.5h2.12M-0.06 -0.5h2.12M-3.06 0.5h1.12M-13.06 18.5h1.12M-13.06 19.5h1.12M-13.06 21.5h1.12M-12.06 26.5h1.12"/>
<path stroke="#424242" d="M-12.06 -0.5h1.12M-13.06 0.5h1.12M-8.06 0.5h1.12M13.94 0.5h3.12M-8.06 1.5h1.12M13.94 1.5h1.12M15.94 1.5h1.12M-9.06 2.5h1.12M13.94 2.5h1.12M15.94 2.5h1.12M13.94 3.5h1.12M13.94 4.5h1.12M14.94 5.5h2.12M18.94 11.5h2.12M19.94 12.5h1.12M19.94 15.5h1.12M17.94 16.5h1.12M19.94 16.5h1.12M18.94 17.5h1.12M18.94 18.5h1.12M18.94 19.5h1.12M18.94 20.5h1.12M17.94 23.5h1.12M21.94 24.5h1.12M-16.06 25.5h1.12M16.94 25.5h1.12M21.94 25.5h1.12M15.94 26.5h1.12M-13.06 27.5h1.12M-13.06 28.5h1.12M15.94 28.5h1.12M15.94 29.5h1.12M5.94 30.5h1.12M15.94 30.5h1.12M-13.06 31.5h1.12M17.94 31.5h1.12M-15.06 32.5h1.12M18.94 32.5h1.12M21.94 32.5h1.12"/>
<path stroke="#3c3c3c" d="M-11.06 -0.5h3.12M-12.06 0.5h1.12M-12.06 1.5h1.12M14.94 1.5h1.12M-10.06 2.5h1.12M15.94 3.5h1.12M15.94 4.5h1.12M19.94 10.5h1.12M18.94 16.5h1.12M19.94 17.5h1.12M18.94 22.5h2.12M18.94 23.5h3.12M17.94 24.5h1.12M-14.06 25.5h1.12M17.94 25.5h1.12M-16.06 26.5h1.12M-14.06 26.5h1.12M16.94 26.5h2.12M21.94 26.5h1.12M-13.06 29.5h1.12M-16.06 30.5h1.12M16.94 30.5h1.12M-16.06 31.5h1.12M7.94 31.5h1.12M21.94 31.5h1.12M-14.06 32.5h1.12M19.94 32.5h2.12"/>
<path stroke="#848484" d="M-3.06 -0.5h1.12M2.94 -0.5h1.12M-6.06 0.5h1.12M-13.06 15.5h1.12M-13.06 16.5h1.12M-13.06 17.5h1.12M-13.06 22.5h1.12M4.94 28.5h1.12M6.94 28.5h1.12"/>
<path stroke="#363636" d="M-11.06 0.5h1.12M-11.06 1.5h1.12M14.94 2.5h1.12M14.94 3.5h1.12M14.94 4.5h1.12M20.94 24.5h1.12M-15.06 25.5h1.12M20.94 25.5h1.12M-15.06 26.5h1.12M-16.06 27.5h1.12M16.94 27.5h1.12M-14.06 28.5h1.12M16.94 28.5h1.12M16.94 29.5h1.12M-13.06 30.5h1.12M7.94 30.5h1.12M17.94 30.5h1.12M-14.06 31.5h1.12M6.94 31.5h1.12"/>
<path stroke="#303030" d="M-10.06 0.5h2.12M-10.06 1.5h1.12M18.94 24.5h2.12M18.94 25.5h1.12M-15.06 27.5h2.12M21.94 27.5h1.12M-16.06 28.5h2.12M-16.06 29.5h1.12M-14.06 29.5h1.12M6.94 30.5h1.12M21.94 30.5h1.12M-15.06 31.5h1.12M18.94 31.5h3.12"/>
<path stroke="#969696" d="M-5.06 0.5h1.12M-13.06 20.5h1.12M-12.06 22.5h1.12M-6.06 28.5h1.12M0.94 28.5h1.12"/>
<path stroke="#9c9c9c" d="M-4.06 0.5h1.12M-12.06 23.5h1.12M-12.06 24.5h1.12M-12.06 25.5h1.12M-11.06 26.5h1.12M-10.06 27.5h1.12M-4.06 28.5h1.12M-2.06 28.5h3.12"/>
<path stroke="#0a466b" d="M-0.06 0.5h1.12M-0.06 1.5h3.12M-10.06 4.5h1.12M-8.06 4.5h2.12M-11.06 6.5h1.12M-6.06 6.5h1.12M-11.06 7.5h1.12M-6.06 7.5h1.12M-9.06 8.5h2.12M0.94 18.5h4.12M-0.06 19.5h1.12M4.94 19.5h1.12M-0.06 20.5h1.12M3.94 20.5h2.12M14.94 22.5h1.12M14.94 23.5h1.12M5.94 26.5h1.12"/>
<path stroke="#0a4c66" d="M0.94 0.5h2.12M-3.06 1.5h3.12M2.94 1.5h1.12M-3.06 2.5h1.12M-7.06 3.5h2.12M-6.06 4.5h1.12M-6.06 5.5h1.12M-11.06 8.5h2.12M-7.06 8.5h2.12M-11.06 9.5h6.12M-11.06 10.5h7.12M-8.06 11.5h1.12M-6.06 11.5h2.12M-5.06 12.5h2.12M-4.06 13.5h1.12M14.94 13.5h1.12M-0.06 17.5h2.12M-0.06 18.5h1.12M4.94 18.5h1.12M5.94 19.5h1.12M5.94 20.5h1.12M0.94 21.5h4.12M13.94 24.5h1.12M3.94 26.5h1.12M6.94 26.5h2.12M3.94 27.5h1.12M7.94 27.5h1.12"/>
<path stroke="#0b5260" d="M2.94 0.5h1.12M-4.06 1.5h1.12M3.94 1.5h1.12M-6.06 2.5h1.12M-4.06 2.5h1.12M-2.06 2.5h2.12M-5.06 3.5h1.12M-5.06 4.5h1.12M-5.06 5.5h1.12M-5.06 6.5h1.12M-5.06 7.5h1.12M-5.06 8.5h4.12M-5.06 9.5h3.12M-4.06 10.5h1.12M-10.06 11.5h2.12M-7.06 11.5h1.12M-4.06 11.5h1.12M-6.06 12.5h1.12M-3.06 12.5h2.12M14.94 12.5h1.12M-6.06 13.5h2.12M-3.06 13.5h3.12M13.94 13.5h1.12M13.94 14.5h2.12M-0.06 16.5h1.12M1.94 17.5h1.12M3.94 17.5h2.12M7.94 17.5h1.12M7.94 18.5h1.12M-1.06 19.5h1.12M6.94 19.5h1.12M-1.06 20.5h1.12M6.94 20.5h1.12M-1.06 21.5h2.12M4.94 21.5h2.12M14.94 21.5h1.12M2.94 22.5h3.12M5.94 23.5h1.12M13.94 23.5h1.12M5.94 24.5h1.12M5.94 25.5h2.12M8.94 26.5h1.12M8.94 27.5h1.12"/>
<path stroke="#0b585a" d="M3.94 0.5h3.12M-6.06 1.5h2.12M4.94 1.5h2.12M-5.06 2.5h1.12M-0.06 2.5h3.12M6.94 2.5h1.12M-4.06 3.5h5.12M-1.06 4.5h1.12M7.94 4.5h1.12M-4.06 5.5h1.12M-1.06 5.5h1.12M-4.06 6.5h2.12M-1.06 6.5h2.12M3.94 6.5h1.12M-4.06 7.5h4.12M10.94 7.5h1.12M-1.06 8.5h1.12M7.94 8.5h2.12M-2.06 9.5h1.12M7.94 9.5h1.12M-3.06 10.5h1.12M-11.06 11.5h1.12M-3.06 11.5h1.12M-7.06 12.5h1.12M-0.06 13.5h1.12M7.94 13.5h1.12M11.94 13.5h2.12M-5.06 14.5h1.12M-1.06 14.5h2.12M11.94 14.5h2.12M-7.06 15.5h1.12M-0.06 15.5h1.12M10.94 15.5h1.12M14.94 15.5h1.12M-7.06 16.5h1.12M-1.06 16.5h1.12M0.94 16.5h1.12M14.94 16.5h1.12M-6.06 17.5h1.12M-1.06 17.5h1.12M2.94 17.5h1.12M8.94 17.5h1.12M-6.06 18.5h1.12M-1.06 18.5h1.12M5.94 18.5h2.12M8.94 18.5h1.12M7.94 19.5h2.12M-2.06 20.5h1.12M7.94 20.5h2.12M-7.06 21.5h6.12M6.94 21.5h3.12M-11.06 22.5h1.12M-7.06 22.5h3.12M-0.06 22.5h3.12M5.94 22.5h3.12M2.94 23.5h3.12M6.94 23.5h1.12M2.94 24.5h1.12M4.94 24.5h1.12M6.94 24.5h1.12M10.94 24.5h1.12M12.94 24.5h1.12M-11.06 25.5h1.12M2.94 25.5h3.12M7.94 25.5h3.12M2.94 26.5h1.12M9.94 26.5h1.12M2.94 27.5h1.12M9.94 27.5h1.12"/>
<path stroke="#0b5e54" d="M6.94 0.5h1.12M6.94 1.5h1.12M2.94 2.5h4.12M7.94 2.5h2.12M6.94 3.5h3.12M-4.06 4.5h1.12M-2.06 4.5h1.12M-0.06 4.5h1.12M6.94 4.5h1.12M8.94 4.5h1.12M-3.06 5.5h2.12M-0.06 5.5h2.12M7.94 5.5h2.12M-2.06 6.5h1.12M2.94 6.5h1.12M4.94 6.5h3.12M10.94 6.5h3.12M-0.06 7.5h1.12M3.94 7.5h2.12M6.94 7.5h1.12M8.94 7.5h2.12M11.94 7.5h2.12M5.94 8.5h2.12M9.94 8.5h2.12M13.94 8.5h1.12M-1.06 9.5h1.12M5.94 9.5h2.12M8.94 9.5h3.12M-2.06 10.5h1.12M7.94 10.5h4.12M14.94 10.5h1.12M-2.06 11.5h1.12M10.94 11.5h1.12M-8.06 12.5h1.12M-1.06 12.5h1.12M5.94 12.5h4.12M11.94 12.5h1.12M13.94 12.5h1.12M-7.06 13.5h1.12M4.94 13.5h3.12M8.94 13.5h1.12M-7.06 14.5h2.12M-4.06 14.5h3.12M0.94 14.5h1.12M3.94 14.5h8.12M-8.06 15.5h1.12M-6.06 15.5h1.12M-1.06 15.5h1.12M0.94 15.5h1.12M3.94 15.5h2.12M7.94 15.5h3.12M11.94 15.5h1.12M13.94 15.5h1.12M-8.06 16.5h1.12M-6.06 16.5h1.12M1.94 16.5h1.12M3.94 16.5h2.12M7.94 16.5h5.12M-7.06 17.5h1.12M5.94 17.5h2.12M9.94 17.5h1.12M14.94 17.5h1.12M-7.06 18.5h1.12M9.94 18.5h1.12M14.94 18.5h1.12M-9.06 19.5h1.12M9.94 19.5h1.12M-9.06 20.5h1.12M-6.06 20.5h4.12M14.94 20.5h1.12M-12.06 21.5h2.12M-8.06 21.5h1.12M13.94 21.5h1.12M-8.06 22.5h1.12M-4.06 22.5h4.12M8.94 22.5h1.12M13.94 22.5h1.12M-11.06 23.5h1.12M-1.06 23.5h1.12M1.94 23.5h1.12M9.94 23.5h4.12M-11.06 24.5h1.12M3.94 24.5h1.12M9.94 24.5h1.12M11.94 24.5h1.12M-10.06 25.5h1.12M10.94 25.5h3.12M-9.06 26.5h1.12M10.94 26.5h1.12M-2.06 27.5h2.12M1.94 27.5h1.12"/>
<path stroke="#0c644e" d="M7.94 0.5h1.12M7.94 1.5h1.12M0.94 3.5h2.12M5.94 3.5h1.12M-3.06 4.5h1.12M0.94 4.5h2.12M1.94 5.5h6.12M11.94 5.5h1.12M0.94 6.5h2.12M7.94 6.5h3.12M0.94 7.5h1.12M5.94 7.5h1.12M7.94 7.5h1.12M-0.06 8.5h1.12M11.94 8.5h2.12M11.94 9.5h1.12M13.94 9.5h1.12M5.94 10.5h2.12M11.94 10.5h1.12M-1.06 11.5h1.12M5.94 11.5h5.12M11.94 11.5h1.12M14.94 11.5h1.12M-9.06 12.5h1.12M-0.06 12.5h1.12M4.94 12.5h1.12M9.94 12.5h2.12M3.94 13.5h1.12M-8.06 14.5h1.12M1.94 14.5h2.12M-9.06 15.5h1.12M1.94 15.5h2.12M5.94 15.5h2.12M12.94 15.5h1.12M-12.06 16.5h1.12M-10.06 16.5h2.12M-5.06 16.5h1.12M5.94 16.5h2.12M-8.06 17.5h1.12M-5.06 17.5h1.12M10.94 17.5h1.12M-8.06 18.5h1.12M-5.06 18.5h1.12M10.94 18.5h1.12M-8.06 19.5h4.12M10.94 19.5h1.12M13.94 19.5h2.12M-10.06 20.5h1.12M-8.06 20.5h2.12M9.94 20.5h1.12M13.94 20.5h1.12M-10.06 21.5h2.12M9.94 21.5h1.12M-10.06 22.5h2.12M9.94 22.5h1.12M-10.06 23.5h3.12M-0.06 23.5h2.12M7.94 23.5h2.12M-10.06 24.5h1.12M-1.06 24.5h1.12M7.94 24.5h2.12M-9.06 25.5h1.12M-8.06 26.5h1.12M-2.06 26.5h2.12M11.94 26.5h1.12M-3.06 27.5h1.12M-0.06 27.5h1.12"/>
<path stroke="#2a2a2a" d="M-9.06 1.5h1.12M19.94 25.5h1.12M20.94 26.5h1.12M17.94 27.5h1.12M21.94 28.5h1.12M-15.06 29.5h1.12M17.94 29.5h1.12M21.94 29.5h1.12M-15.06 30.5h1.12M20.94 30.5h1.12"/>
<path stroke="#0c6a48" d="M8.94 1.5h1.12M9.94 2.5h1.12M2.94 3.5h3.12M9.94 3.5h2.12M2.94 4.5h4.12M11.94 4.5h1.12M1.94 7.5h2.12M4.94 8.5h1.12M4.94 9.5h1.12M-1.06 10.5h1.12M13.94 10.5h1.12M4.94 11.5h1.12M13.94 11.5h1.12M-12.06 12.5h1.12M-10.06 12.5h1.12M12.94 12.5h1.12M-8.06 13.5h1.12M0.94 13.5h1.12M2.94 13.5h1.12M9.94 13.5h2.12M-5.06 15.5h2.12M-2.06 15.5h1.12M-11.06 16.5h1.12M2.94 16.5h1.12M12.94 16.5h1.12M-12.06 17.5h1.12M-9.06 17.5h1.12M11.94 17.5h1.12M-9.06 18.5h1.12M11.94 18.5h1.12M13.94 18.5h1.12M10.94 20.5h1.12M10.94 21.5h1.12M10.94 22.5h3.12M-7.06 23.5h1.12M-2.06 23.5h1.12M-9.06 24.5h1.12M-0.06 24.5h1.12M1.94 24.5h1.12M-1.06 25.5h1.12M-7.06 26.5h1.12M-3.06 26.5h1.12M1.94 26.5h1.12M-4.06 27.5h1.12M0.94 27.5h1.12"/>
<path stroke="#0d7242" d="M9.94 1.5h1.12M10.94 2.5h1.12M9.94 5.5h1.12M12.94 9.5h1.12M4.94 10.5h1.12M-11.06 12.5h1.12M3.94 12.5h1.12M-9.06 13.5h1.12M1.94 13.5h1.12M-9.06 14.5h1.12M-12.06 15.5h1.12M-10.06 15.5h1.12M-3.06 15.5h1.12M-2.06 16.5h1.12M13.94 16.5h1.12M-11.06 17.5h2.12M12.94 17.5h1.12M-10.06 18.5h1.12M12.94 18.5h1.12M-10.06 19.5h1.12M-4.06 19.5h1.12M-2.06 19.5h1.12M-12.06 20.5h2.12M-6.06 23.5h1.12M-3.06 23.5h1.12M-8.06 24.5h1.12M-8.06 25.5h1.12M-2.06 25.5h1.12M-6.06 26.5h3.12M-0.06 26.5h1.12M-5.06 27.5h1.12"/>
<path stroke="#09406d" d="M-9.06 4.5h1.12M-10.06 5.5h4.12M-10.06 6.5h4.12M-10.06 7.5h4.12M0.94 19.5h1.12M2.94 19.5h2.12M0.94 20.5h3.12M4.94 26.5h1.12M6.94 27.5h1.12"/>
<path stroke="#0d7a3c" d="M9.94 4.5h2.12M10.94 5.5h1.12M3.94 8.5h1.12M-0.06 9.5h1.12M12.94 11.5h1.12M-11.06 15.5h1.12M-4.06 16.5h1.12M13.94 17.5h1.12M11.94 19.5h2.12M11.94 21.5h2.12M-5.06 23.5h2.12M-2.06 24.5h1.12M-0.06 25.5h1.12M1.94 25.5h1.12"/>
<path stroke="#0f8930" d="M0.94 8.5h1.12M-0.06 10.5h1.12M-12.06 13.5h1.12M-12.06 14.5h1.12M-11.06 18.5h1.12M-12.06 19.5h1.12M-3.06 24.5h1.12M-3.06 25.5h1.12M0.94 26.5h1.12"/>
<path stroke="#2ea81b" d="M1.94 8.5h1.12M3.94 10.5h1.12"/>
<path stroke="#179825" d="M2.94 8.5h1.12M3.94 9.5h1.12M3.94 11.5h1.12M2.94 12.5h1.12M-4.06 17.5h1.12M-2.06 17.5h1.12M-4.06 18.5h1.12M-2.06 18.5h1.12M-5.06 24.5h1.12M0.94 25.5h1.12"/>
<path stroke="#5dc00c" d="M0.94 9.5h1.12M0.94 11.5h1.12"/>
<path stroke="#d9e800" d="M1.94 9.5h1.12M2.94 10.5h1.12M1.94 11.5h1.12"/>
<path stroke="#acdd00" d="M2.94 9.5h1.12"/>
<path stroke="#93d404" d="M0.94 10.5h1.12M2.94 11.5h1.12"/>
<path stroke="#f9e900" d="M1.94 10.5h1.12"/>
<path stroke="#0e8136" d="M12.94 10.5h1.12M-0.06 11.5h1.12M0.94 12.5h1.12M-10.06 13.5h1.12M-10.06 14.5h1.12M-12.06 18.5h1.12M11.94 20.5h2.12M-7.06 24.5h1.12M0.94 24.5h1.12M-7.06 25.5h1.12"/>
<path stroke="#23a020" d="M1.94 12.5h1.12M-3.06 16.5h1.12M-3.06 19.5h1.12"/>
<path stroke="#10912a" d="M-11.06 13.5h1.12M-11.06 14.5h1.12M-11.06 19.5h1.12M-6.06 24.5h1.12M-4.06 24.5h1.12M-6.06 25.5h3.12"/>
<path stroke="#efee00" d="M-3.06 17.5h1.12M-3.06 18.5h1.12"/>
<path stroke="#093a70" d="M1.94 19.5h1.12M4.94 27.5h2.12"/>
<path stroke="#a2a2a2" d="M-10.06 26.5h1.12M-6.06 27.5h1.12M-5.06 28.5h1.12M-3.06 28.5h1.12"/>
<path stroke="#242424" d="M18.94 26.5h2.12M18.94 27.5h1.12M20.94 27.5h1.12M17.94 28.5h1.12M20.94 28.5h1.12M20.94 29.5h1.12M-14.06 30.5h1.12M18.94 30.5h2.12"/>
<path stroke="#a8a8a8" d="M-9.06 27.5h1.12M-7.06 27.5h1.12"/>
<path stroke="#aeaeae" d="M-8.06 27.5h1.12"/>
<path stroke="#1e1e1e" d="M19.94 27.5h1.12M18.94 28.5h1.12M18.94 29.5h2.12"/>
<path stroke="#181818" d="M19.94 28.5h1.12"/>
</g></g></g>
<g clip-path="url(#mc8)"><g filter="url(#mb)"><rect x="1419.1" y="649.2" width="209.8" height="191.8" fill="#555"/><g transform="translate(1510.60,665.40) scale(5.45)" stroke-width="1.12" fill="none">
<path stroke="#5a5a5a" d="M-17.06 -2.5h1.12M-8.06 -2.5h1.12M4.94 -2.5h1.12M7.94 -2.5h2.12M11.94 -2.5h1.12M17.94 -2.5h1.12M-17.06 -1.5h2.12M-8.06 -1.5h1.12M9.94 -1.5h3.12M16.94 -1.5h3.12M20.94 -1.5h1.12M-17.06 -0.5h1.12M-8.06 -0.5h1.12M10.94 -0.5h1.12M16.94 -0.5h2.12M19.94 -0.5h2.12M10.94 0.5h1.12M17.94 0.5h1.12M20.94 0.5h1.12M-17.06 1.5h1.12M16.94 1.5h1.12M20.94 1.5h1.12M-17.06 2.5h1.12M16.94 2.5h3.12M16.94 3.5h1.12M20.94 3.5h1.12M-17.06 4.5h1.12M17.94 4.5h1.12M19.94 4.5h2.12M-17.06 5.5h1.12M16.94 5.5h1.12M18.94 5.5h1.12M-17.06 6.5h1.12M16.94 6.5h1.12M20.94 6.5h1.12M13.94 7.5h3.12M20.94 7.5h1.12M-17.06 8.5h1.12M16.94 8.5h1.12M20.94 11.5h1.12M-17.06 13.5h1.12M-14.06 13.5h1.12M16.94 14.5h1.12M-14.06 15.5h1.12M16.94 15.5h1.12M-17.06 16.5h1.12M-14.06 16.5h1.12M16.94 16.5h1.12M-17.06 17.5h1.12M-14.06 17.5h1.12M-16.06 18.5h1.12M-16.06 19.5h1.12M-16.06 20.5h1.12M-17.06 21.5h2.12M16.94 21.5h1.12M-16.06 22.5h1.12M-14.06 22.5h1.12M16.94 22.5h1.12M-13.06 26.5h1.12M13.94 27.5h1.12M-11.06 29.5h1.12M-9.06 29.5h3.12M6.94 29.5h1.12M-11.06 30.5h2.12M-1.06 30.5h1.12M0.94 30.5h1.12M2.94 30.5h1.12M10.94 30.5h2.12M13.94 30.5h1.12M-10.06 31.5h1.12M-2.06 31.5h1.12M-0.06 31.5h3.12M8.94 31.5h1.12M11.94 31.5h2.12M-12.06 32.5h3.12M-8.06 32.5h1.12M-4.06 32.5h2.12M-1.06 32.5h1.12M0.94 32.5h1.12M6.94 32.5h1.12M8.94 32.5h2.12M11.94 32.5h2.12"/>
<path stroke="#545454" d="M-16.06 -2.5h6.12M-9.06 -2.5h1.12M12.94 -2.5h1.12M14.94 -2.5h3.12M-13.06 -1.5h1.12M12.94 -1.5h1.12M-16.06 -0.5h2.12M18.94 -0.5h1.12M-17.06 0.5h1.12M-15.06 0.5h1.12M16.94 0.5h1.12M18.94 0.5h2.12M-16.06 1.5h2.12M10.94 1.5h1.12M18.94 1.5h2.12M19.94 2.5h2.12M-17.06 3.5h2.12M-12.06 3.5h1.12M18.94 3.5h2.12M-16.06 4.5h2.12M16.94 4.5h1.12M18.94 4.5h1.12M-16.06 5.5h3.12M12.94 5.5h1.12M17.94 5.5h1.12M19.94 5.5h1.12M-16.06 6.5h1.12M-14.06 6.5h1.12M13.94 6.5h1.12M15.94 6.5h1.12M17.94 6.5h1.12M19.94 6.5h1.12M-17.06 7.5h1.12M-14.06 7.5h1.12M17.94 7.5h3.12M-14.06 8.5h1.12M17.94 8.5h1.12M19.94 8.5h2.12M-17.06 9.5h1.12M-14.06 9.5h1.12M20.94 9.5h1.12M-17.06 10.5h1.12M-14.06 10.5h1.12M20.94 10.5h1.12M-17.06 11.5h1.12M-14.06 11.5h1.12M-17.06 12.5h1.12M-14.06 12.5h1.12M19.94 13.5h2.12M-17.06 14.5h1.12M19.94 14.5h1.12M-17.06 15.5h2.12M20.94 15.5h1.12M-16.06 16.5h1.12M-16.06 17.5h1.12M16.94 17.5h1.12M20.94 17.5h1.12M-17.06 18.5h1.12M-15.06 18.5h1.12M16.94 18.5h1.12M20.94 18.5h1.12M-17.06 19.5h1.12M-15.06 19.5h1.12M16.94 19.5h1.12M19.94 19.5h2.12M-17.06 20.5h1.12M-15.06 20.5h1.12M16.94 20.5h1.12M-15.06 21.5h1.12M20.94 21.5h1.12M-17.06 22.5h1.12M-17.06 23.5h1.12M16.94 23.5h1.12M14.94 26.5h1.12M-12.06 28.5h1.12M13.94 28.5h1.12M-12.06 29.5h1.12M12.94 29.5h2.12M-2.06 30.5h1.12M-0.06 30.5h1.12M1.94 30.5h1.12M8.94 30.5h1.12M12.94 30.5h1.12M-12.06 31.5h2.12M-9.06 31.5h3.12M-3.06 31.5h1.12M-1.06 31.5h1.12M2.94 31.5h1.12M13.94 31.5h1.12M-7.06 32.5h1.12M-5.06 32.5h1.12M-0.06 32.5h1.12M2.94 32.5h4.12M7.94 32.5h1.12M13.94 32.5h2.12"/>
<path stroke="#4e4e4e" d="M-10.06 -2.5h1.12M13.94 -2.5h1.12M-15.06 -1.5h2.12M-12.06 -1.5h4.12M15.94 -1.5h1.12M-14.06 -0.5h1.12M11.94 -0.5h1.12M15.94 -0.5h1.12M-16.06 0.5h1.12M-14.06 0.5h1.12M-8.06 0.5h1.12M11.94 0.5h1.12M-8.06 1.5h1.12M11.94 1.5h1.12M15.94 1.5h1.12M-16.06 2.5h1.12M11.94 2.5h1.12M15.94 2.5h1.12M-15.06 3.5h1.12M11.94 3.5h1.12M-14.06 4.5h2.12M13.94 5.5h1.12M15.94 5.5h1.12M-15.06 6.5h1.12M14.94 6.5h1.12M18.94 6.5h1.12M-16.06 7.5h2.12M-16.06 8.5h1.12M18.94 8.5h1.12M19.94 9.5h1.12M17.94 10.5h1.12M-16.06 12.5h1.12M17.94 12.5h1.12M20.94 12.5h1.12M17.94 13.5h1.12M19.94 15.5h1.12M20.94 16.5h1.12M-15.06 17.5h1.12M19.94 18.5h1.12M19.94 20.5h2.12M19.94 21.5h1.12M-15.06 22.5h1.12M20.94 22.5h1.12M-16.06 23.5h3.12M-17.06 24.5h1.12M-14.06 24.5h1.12M14.94 29.5h1.12M-12.06 30.5h1.12M-9.06 30.5h2.12M-3.06 30.5h1.12M3.94 30.5h1.12M-6.06 31.5h3.12M3.94 31.5h1.12M-13.06 32.5h1.12M-6.06 32.5h1.12M15.94 32.5h1.12"/>
<path stroke="#606060" d="M-7.06 -2.5h1.12M1.94 -2.5h1.12M3.94 -2.5h1.12M5.94 -2.5h2.12M9.94 -2.5h2.12M18.94 -2.5h3.12M8.94 -1.5h1.12M19.94 -1.5h1.12M8.94 -0.5h2.12M17.94 1.5h1.12M-11.06 3.5h3.12M17.94 3.5h1.12M-12.06 4.5h1.12M-13.06 5.5h1.12M20.94 5.5h1.12M-13.06 6.5h1.12M-13.06 7.5h1.12M16.94 7.5h1.12M14.94 8.5h1.12M16.94 9.5h1.12M16.94 10.5h1.12M16.94 11.5h1.12M16.94 12.5h1.12M16.94 13.5h1.12M-14.06 14.5h1.12M20.94 14.5h1.12M15.94 24.5h1.12M-11.06 28.5h1.12M12.94 28.5h1.12M-10.06 29.5h1.12M5.94 29.5h1.12M7.94 29.5h1.12M11.94 29.5h1.12M9.94 30.5h1.12M9.94 31.5h2.12M-9.06 32.5h1.12M-2.06 32.5h1.12M1.94 32.5h1.12M10.94 32.5h1.12"/>
<path stroke="#666666" d="M-6.06 -2.5h4.12M2.94 -2.5h1.12M5.94 -1.5h3.12M6.94 -0.5h2.12M8.94 0.5h2.12M-8.06 2.5h1.12M-13.06 8.5h1.12M15.94 8.5h1.12M-13.06 9.5h1.12M14.94 9.5h1.12M-13.06 10.5h1.12M-14.06 18.5h1.12M-14.06 19.5h1.12M-14.06 21.5h1.12M14.94 25.5h1.12M-12.06 27.5h1.12M-6.06 29.5h1.12M1.94 29.5h2.12M4.94 29.5h1.12M8.94 29.5h3.12"/>
<path stroke="#6c6c6c" d="M-2.06 -2.5h4.12M-7.06 -1.5h1.12M3.94 -1.5h2.12M5.94 -0.5h1.12M-8.06 3.5h1.12M-11.06 4.5h1.12M15.94 9.5h1.12M15.94 18.5h1.12M-14.06 20.5h1.12M15.94 23.5h1.12M-13.06 25.5h1.12M13.94 26.5h1.12M11.94 28.5h1.12M3.94 29.5h1.12"/>
<path stroke="#7e7e7e" d="M-6.06 -1.5h2.12M-2.06 -1.5h1.12M2.94 -1.5h1.12M-3.06 -0.5h1.12M3.94 -0.5h1.12M-12.06 6.5h1.12M-12.06 7.5h1.12M-12.06 8.5h1.12M-12.06 9.5h1.12M-12.06 10.5h1.12M-12.06 11.5h1.12M-13.06 13.5h1.12M12.94 26.5h1.12M10.94 27.5h1.12M-9.06 28.5h2.12M7.94 28.5h3.12"/>
<path stroke="#787878" d="M-4.06 -1.5h1.12M-7.06 -0.5h1.12M-2.06 -0.5h1.12M4.94 -0.5h1.12M-7.06 0.5h1.12M-2.06 0.5h2.12M-12.06 5.5h2.12M-13.06 12.5h1.12M15.94 14.5h1.12M15.94 15.5h1.12M15.94 21.5h1.12M15.94 22.5h1.12M-11.06 27.5h1.12M12.94 27.5h1.12M-7.06 28.5h1.12M10.94 28.5h1.12M-5.06 29.5h2.12M-1.06 29.5h1.12"/>
<path stroke="#727272" d="M-3.06 -1.5h1.12M-7.06 1.5h1.12M-7.06 2.5h1.12M15.94 10.5h1.12M-13.06 11.5h1.12M15.94 11.5h1.12M15.94 12.5h1.12M15.94 13.5h1.12M15.94 16.5h1.12M15.94 17.5h1.12M15.94 19.5h1.12M15.94 20.5h1.12M-13.06 23.5h1.12M-13.06 24.5h1.12M14.94 24.5h1.12M13.94 25.5h1.12M-10.06 28.5h1.12M-3.06 29.5h2.12M-0.06 29.5h2.12"/>
<path stroke="#909090" d="M-1.06 -1.5h3.12M-5.06 -0.5h1.12M-1.06 -0.5h1.12M1.94 -0.5h1.12M-6.06 0.5h1.12M-13.06 18.5h1.12"/>
<path stroke="#848484" d="M1.94 -1.5h1.12M2.94 -0.5h1.12M-13.06 14.5h1.12M4.94 28.5h3.12"/>
<path stroke="#484848" d="M13.94 -1.5h2.12M-13.06 -0.5h1.12M12.94 -0.5h1.12M14.94 -0.5h1.12M15.94 0.5h1.12M-14.06 1.5h1.12M-15.06 2.5h1.12M-13.06 2.5h1.12M-14.06 3.5h2.12M15.94 3.5h1.12M12.94 4.5h1.12M15.94 4.5h1.12M14.94 5.5h1.12M-15.06 8.5h1.12M-16.06 9.5h2.12M17.94 9.5h2.12M-15.06 10.5h1.12M-16.06 11.5h2.12M17.94 11.5h1.12M19.94 11.5h1.12M18.94 12.5h2.12M-16.06 13.5h1.12M18.94 13.5h1.12M-16.06 14.5h2.12M17.94 14.5h2.12M-15.06 15.5h1.12M-15.06 16.5h1.12M19.94 16.5h1.12M19.94 17.5h1.12M17.94 21.5h2.12M20.94 23.5h1.12M-16.06 24.5h2.12M16.94 24.5h1.12M15.94 25.5h1.12M-13.06 27.5h1.12M-13.06 28.5h1.12M14.94 28.5h1.12M-13.06 29.5h1.12M-7.06 30.5h4.12M14.94 30.5h1.12M-13.06 31.5h1.12M4.94 31.5h1.12M7.94 31.5h1.12M14.94 31.5h1.12M-17.06 32.5h1.12M16.94 32.5h2.12"/>
<path stroke="#424242" d="M-12.06 -0.5h1.12M-9.06 -0.5h1.12M13.94 -0.5h1.12M12.94 0.5h1.12M14.94 0.5h1.12M-13.06 1.5h1.12M12.94 1.5h1.12M14.94 1.5h1.12M-14.06 2.5h1.12M-12.06 2.5h2.12M-9.06 2.5h1.12M12.94 2.5h1.12M12.94 3.5h1.12M-16.06 10.5h1.12M18.94 10.5h2.12M18.94 11.5h1.12M-15.06 12.5h1.12M-15.06 13.5h1.12M17.94 15.5h2.12M17.94 17.5h1.12M18.94 18.5h1.12M18.94 19.5h1.12M18.94 20.5h1.12M17.94 22.5h1.12M19.94 22.5h1.12M19.94 23.5h1.12M20.94 24.5h1.12M-17.06 25.5h1.12M-14.06 25.5h1.12M-14.06 26.5h1.12M14.94 27.5h1.12M-14.06 28.5h1.12M-13.06 30.5h1.12M4.94 30.5h1.12M7.94 30.5h1.12M-17.06 31.5h1.12M5.94 31.5h1.12M15.94 31.5h1.12M-16.06 32.5h3.12M18.94 32.5h3.12"/>
<path stroke="#3c3c3c" d="M-11.06 -0.5h2.12M-13.06 0.5h2.12M-9.06 0.5h1.12M13.94 0.5h1.12M-12.06 1.5h1.12M-10.06 2.5h1.12M14.94 2.5h1.12M13.94 3.5h2.12M14.94 4.5h1.12M17.94 16.5h2.12M18.94 17.5h1.12M17.94 18.5h1.12M17.94 19.5h1.12M17.94 20.5h1.12M18.94 22.5h1.12M17.94 23.5h2.12M-16.06 25.5h1.12M20.94 25.5h1.12M-17.06 26.5h1.12M15.94 26.5h1.12M-17.06 27.5h1.12M-14.06 27.5h1.12M15.94 27.5h1.12M15.94 30.5h1.12M-14.06 31.5h1.12M6.94 31.5h1.12M16.94 31.5h1.12"/>
<path stroke="#8a8a8a" d="M-6.06 -0.5h1.12M-4.06 -0.5h1.12M-3.06 0.5h1.12M-13.06 15.5h1.12M-13.06 16.5h1.12M-13.06 17.5h1.12M-13.06 22.5h1.12M11.94 27.5h1.12M1.94 28.5h3.12"/>
<path stroke="#969696" d="M-0.06 -0.5h2.12M-4.06 0.5h1.12M-13.06 19.5h1.12M-13.06 21.5h1.12M-12.06 22.5h1.12M-12.06 26.5h1.12M-6.06 28.5h1.12M0.94 28.5h1.12"/>
<path stroke="#303030" d="M-11.06 0.5h2.12M-11.06 1.5h1.12M-9.06 1.5h1.12M18.94 24.5h1.12M19.94 25.5h1.12M16.94 26.5h2.12M-16.06 27.5h2.12M20.94 27.5h1.12M-15.06 28.5h1.12M20.94 28.5h1.12M20.94 29.5h1.12M-14.06 30.5h1.12M6.94 30.5h1.12M16.94 30.5h1.12M20.94 30.5h1.12M-15.06 31.5h1.12"/>
<path stroke="#9c9c9c" d="M-5.06 0.5h1.12M-13.06 20.5h1.12M-12.06 23.5h1.12M-12.06 25.5h1.12M-10.06 27.5h1.12M-4.06 28.5h1.12M-2.06 28.5h3.12"/>
<path stroke="#2ea81b" d="M-0.06 0.5h1.12M-3.06 1.5h2.12M-0.06 1.5h1.12M-3.06 2.5h1.12M-1.06 2.5h1.12M1.94 2.5h1.12M3.94 2.5h1.12M-1.06 3.5h1.12M5.94 4.5h1.12M-8.06 7.5h1.12M-10.06 8.5h1.12M2.94 16.5h1.12M0.94 20.5h1.12M6.94 24.5h1.12M11.94 26.5h1.12"/>
<path stroke="#179825" d="M0.94 0.5h1.12M6.94 0.5h1.12M0.94 1.5h1.12M6.94 1.5h1.12M0.94 3.5h1.12M-9.06 8.5h1.12M-0.06 18.5h1.12M1.94 19.5h1.12M14.94 23.5h1.12M10.94 25.5h1.12"/>
<path stroke="#10912a" d="M1.94 0.5h1.12M1.94 1.5h1.12M5.94 1.5h1.12M-0.06 3.5h1.12M0.94 18.5h1.12M-0.06 19.5h2.12M6.94 25.5h1.12M7.94 27.5h1.12M9.94 27.5h1.12"/>
<path stroke="#0f8930" d="M2.94 0.5h1.12M5.94 0.5h1.12M2.94 1.5h1.12M-9.06 7.5h1.12M14.94 22.5h1.12M6.94 26.5h1.12M10.94 26.5h1.12M8.94 27.5h1.12"/>
<path stroke="#0e8136" d="M3.94 0.5h2.12M3.94 1.5h2.12M9.94 25.5h1.12"/>
<path stroke="#23a020" d="M7.94 0.5h1.12M-2.06 2.5h1.12M-0.06 2.5h2.12M-0.06 4.5h2.12M-9.06 6.5h1.12M-10.06 7.5h1.12M-1.06 18.5h1.12M1.94 18.5h1.12M-1.06 19.5h1.12M14.94 21.5h1.12M7.94 24.5h3.12M5.94 25.5h1.12M5.94 26.5h1.12M6.94 27.5h1.12"/>
<path stroke="#2a2a2a" d="M-10.06 1.5h1.12M18.94 25.5h1.12M19.94 26.5h1.12M16.94 27.5h1.12M-16.06 28.5h1.12M16.94 28.5h1.12M-16.06 29.5h2.12M16.94 29.5h1.12M-15.06 30.5h1.12M17.94 30.5h1.12M19.94 30.5h1.12M18.94 31.5h1.12"/>
<path stroke="#acdd00" d="M-6.06 1.5h1.12M10.94 2.5h1.12M-6.06 3.5h2.12M7.94 3.5h3.12M-5.06 4.5h2.12M4.94 4.5h1.12M7.94 4.5h4.12M2.94 5.5h1.12M4.94 5.5h1.12M8.94 5.5h3.12M-3.06 6.5h1.12M-1.06 6.5h1.12M1.94 6.5h2.12M4.94 6.5h1.12M10.94 6.5h1.12M-3.06 7.5h2.12M4.94 7.5h2.12M7.94 7.5h4.12M-11.06 8.5h1.12M-1.06 8.5h1.12M4.94 8.5h3.12M-11.06 9.5h1.12M-1.06 9.5h1.12M4.94 9.5h3.12M-0.06 10.5h1.12M3.94 10.5h1.12M5.94 10.5h2.12M11.94 10.5h1.12M-10.06 11.5h1.12M-0.06 11.5h7.12M11.94 11.5h2.12M-10.06 12.5h3.12M-6.06 12.5h3.12M0.94 12.5h6.12M9.94 12.5h3.12M13.94 12.5h2.12M-9.06 13.5h1.12M-4.06 13.5h1.12M1.94 13.5h2.12M4.94 13.5h2.12M9.94 13.5h3.12M13.94 13.5h1.12M-3.06 14.5h3.12M0.94 14.5h1.12M2.94 14.5h1.12M5.94 14.5h1.12M9.94 14.5h4.12M-6.06 15.5h1.12M4.94 15.5h3.12M10.94 15.5h2.12M-6.06 16.5h1.12M-4.06 16.5h3.12M6.94 16.5h2.12M9.94 16.5h2.12M12.94 16.5h1.12M-7.06 17.5h5.12M5.94 17.5h3.12M9.94 17.5h1.12M11.94 17.5h3.12M-7.06 18.5h3.12M-3.06 18.5h1.12M6.94 18.5h1.12M9.94 18.5h2.12M-7.06 19.5h1.12M-12.06 20.5h1.12M-7.06 20.5h2.12M-3.06 20.5h1.12M-4.06 21.5h1.12M6.94 21.5h1.12M-4.06 22.5h1.12M0.94 22.5h1.12M5.94 22.5h3.12M-4.06 23.5h1.12M-1.06 23.5h2.12M1.94 23.5h3.12M-4.06 24.5h1.12M1.94 24.5h2.12M12.94 24.5h1.12M-11.06 25.5h1.12M-4.06 25.5h1.12M2.94 25.5h1.12M-7.06 26.5h1.12M-2.06 26.5h1.12M1.94 26.5h2.12M-5.06 27.5h2.12M2.94 27.5h1.12"/>
<path stroke="#93d404" d="M-5.06 1.5h1.12M-6.06 2.5h2.12M8.94 2.5h2.12M-7.06 3.5h1.12M-4.06 3.5h1.12M3.94 3.5h2.12M6.94 3.5h1.12M-8.06 4.5h3.12M-3.06 4.5h2.12M2.94 4.5h1.12M7.94 5.5h1.12M-0.06 6.5h2.12M6.94 6.5h4.12M6.94 7.5h1.12M-6.06 8.5h1.12M-2.06 8.5h1.12M-7.06 9.5h2.12M-10.06 10.5h1.12M-8.06 10.5h1.12M4.94 10.5h1.12M-9.06 11.5h2.12M-4.06 11.5h2.12M-3.06 13.5h1.12M-1.06 13.5h1.12M14.94 13.5h1.12M1.94 14.5h1.12M13.94 14.5h1.12M-1.06 15.5h3.12M12.94 15.5h1.12M4.94 16.5h2.12M11.94 16.5h1.12M13.94 16.5h2.12M-2.06 17.5h1.12M10.94 17.5h1.12M14.94 17.5h1.12M5.94 18.5h1.12M6.94 19.5h1.12M-2.06 20.5h1.12M6.94 20.5h1.12M-3.06 21.5h2.12M4.94 21.5h2.12M13.94 21.5h1.12M-3.06 22.5h4.12M1.94 22.5h4.12M-3.06 23.5h2.12M4.94 23.5h1.12M13.94 23.5h1.12M-3.06 24.5h2.12M3.94 24.5h1.12M-3.06 25.5h2.12M3.94 25.5h1.12M-3.06 26.5h1.12M-3.06 27.5h2.12"/>
<path stroke="#5dc00c" d="M-4.06 1.5h1.12M9.94 1.5h1.12M-4.06 2.5h1.12M5.94 2.5h1.12M-2.06 3.5h1.12M-9.06 4.5h1.12M1.94 4.5h1.12M-10.06 5.5h1.12M-8.06 5.5h1.12M-6.06 5.5h2.12M-0.06 5.5h2.12M6.94 5.5h1.12M-5.06 7.5h1.12M-9.06 9.5h1.12M-2.06 11.5h2.12M1.94 15.5h1.12M-0.06 16.5h2.12M-2.06 18.5h1.12M-2.06 19.5h1.12M4.94 19.5h1.12M3.94 20.5h2.12M4.94 24.5h1.12M10.94 24.5h1.12M12.94 25.5h1.12M4.94 27.5h1.12"/>
<path stroke="#3aaf16" d="M-1.06 1.5h1.12M7.94 1.5h1.12M2.94 2.5h1.12M4.94 2.5h1.12M1.94 3.5h1.12M-1.06 4.5h1.12M6.94 4.5h1.12M-10.06 6.5h1.12M-5.06 6.5h1.12M-0.06 17.5h4.12M2.94 18.5h1.12M2.94 19.5h1.12M-0.06 20.5h1.12M1.94 20.5h1.12M-12.06 21.5h1.12M5.94 24.5h1.12M11.94 25.5h1.12M5.94 27.5h1.12"/>
<path stroke="#46b611" d="M8.94 1.5h1.12M-9.06 5.5h1.12M5.94 5.5h1.12M-8.06 6.5h1.12M-6.06 6.5h1.12M-8.06 8.5h1.12M-2.06 12.5h1.12M2.94 15.5h1.12M1.94 16.5h1.12M3.94 16.5h1.12M-1.06 17.5h1.12M3.94 17.5h1.12M3.94 18.5h1.12M3.94 19.5h1.12M-1.06 20.5h1.12M2.94 20.5h1.12M4.94 25.5h1.12M4.94 26.5h1.12"/>
<path stroke="#363636" d="M13.94 1.5h1.12M13.94 2.5h1.12M13.94 4.5h1.12M17.94 24.5h1.12M19.94 24.5h1.12M-15.06 25.5h1.12M16.94 25.5h2.12M-16.06 26.5h2.12M20.94 26.5h1.12M-17.06 28.5h1.12M15.94 28.5h1.12M-17.06 29.5h1.12M-14.06 29.5h1.12M15.94 29.5h1.12M-17.06 30.5h2.12M5.94 30.5h1.12M-16.06 31.5h1.12M17.94 31.5h1.12M19.94 31.5h2.12"/>
<path stroke="#78ca08" d="M6.94 2.5h2.12M-3.06 3.5h1.12M2.94 3.5h1.12M5.94 3.5h1.12M-10.06 4.5h1.12M-7.06 5.5h1.12M-4.06 5.5h1.12M-1.06 5.5h1.12M1.94 5.5h1.12M-7.06 6.5h1.12M-4.06 6.5h1.12M5.94 6.5h1.12M-7.06 7.5h2.12M-4.06 7.5h1.12M-7.06 8.5h1.12M-5.06 8.5h3.12M-10.06 9.5h1.12M-8.06 9.5h1.12M-5.06 9.5h4.12M-9.06 10.5h1.12M-7.06 10.5h7.12M-7.06 11.5h3.12M-3.06 12.5h1.12M-1.06 12.5h1.12M-2.06 13.5h1.12M14.94 14.5h1.12M3.94 15.5h1.12M13.94 15.5h2.12M-1.06 16.5h1.12M4.94 17.5h1.12M4.94 18.5h1.12M5.94 19.5h1.12M5.94 20.5h1.12M14.94 20.5h1.12M-11.06 21.5h1.12M-1.06 21.5h6.12M13.94 22.5h1.12M5.94 23.5h5.12M13.94 24.5h1.12M3.94 26.5h1.12M3.94 27.5h1.12"/>
<path stroke="#c3e300" d="M10.94 3.5h1.12M3.94 4.5h1.12M11.94 4.5h1.12M-3.06 5.5h2.12M3.94 5.5h1.12M11.94 5.5h1.12M-2.06 6.5h1.12M3.94 6.5h1.12M11.94 6.5h2.12M-1.06 7.5h6.12M11.94 7.5h2.12M-0.06 8.5h2.12M3.94 8.5h1.12M7.94 8.5h5.12M-0.06 9.5h2.12M3.94 9.5h1.12M7.94 9.5h5.12M-11.06 10.5h1.12M0.94 10.5h3.12M7.94 10.5h4.12M12.94 10.5h1.12M-11.06 11.5h1.12M6.94 11.5h5.12M13.94 11.5h1.12M-12.06 12.5h2.12M-7.06 12.5h1.12M-0.06 12.5h1.12M6.94 12.5h3.12M12.94 12.5h1.12M-12.06 13.5h3.12M-8.06 13.5h1.12M-6.06 13.5h2.12M0.94 13.5h1.12M3.94 13.5h1.12M6.94 13.5h3.12M12.94 13.5h1.12M-12.06 14.5h9.12M-0.06 14.5h1.12M3.94 14.5h2.12M6.94 14.5h3.12M-12.06 15.5h1.12M-8.06 15.5h2.12M-5.06 15.5h4.12M7.94 15.5h3.12M-12.06 16.5h1.12M-8.06 16.5h2.12M-5.06 16.5h1.12M8.94 16.5h1.12M-12.06 17.5h1.12M8.94 17.5h1.12M-4.06 18.5h1.12M7.94 18.5h2.12M11.94 18.5h4.12M-8.06 19.5h1.12M-6.06 19.5h4.12M7.94 19.5h1.12M9.94 19.5h2.12M14.94 19.5h1.12M-8.06 20.5h1.12M-5.06 20.5h2.12M7.94 20.5h1.12M9.94 20.5h5.12M-10.06 21.5h6.12M7.94 21.5h1.12M12.94 21.5h1.12M-11.06 22.5h1.12M-9.06 22.5h2.12M-6.06 22.5h2.12M8.94 22.5h2.12M-11.06 23.5h1.12M-6.06 23.5h2.12M0.94 23.5h1.12M-11.06 24.5h1.12M-5.06 24.5h1.12M-1.06 24.5h3.12M11.94 24.5h1.12M-10.06 25.5h1.12M-7.06 25.5h3.12M-1.06 25.5h1.12M0.94 25.5h2.12M-9.06 26.5h2.12M-6.06 26.5h3.12M-1.06 26.5h1.12M0.94 26.5h1.12M-1.06 27.5h4.12"/>
<path stroke="#efee00" d="M-11.06 6.5h1.12M13.94 8.5h1.12M13.94 9.5h1.12M14.94 10.5h1.12M-11.06 17.5h3.12M-11.06 18.5h1.12M-9.06 18.5h1.12M-11.06 19.5h3.12M12.94 19.5h1.12M12.94 23.5h1.12"/>
<path stroke="#d9e800" d="M-11.06 7.5h1.12M1.94 8.5h2.12M12.94 8.5h1.12M1.94 9.5h2.12M12.94 9.5h1.12M13.94 10.5h1.12M14.94 11.5h1.12M-7.06 13.5h1.12M-0.06 13.5h1.12M-11.06 15.5h3.12M-11.06 16.5h3.12M-8.06 17.5h1.12M-12.06 18.5h1.12M-8.06 18.5h1.12M-12.06 19.5h1.12M8.94 19.5h1.12M11.94 19.5h1.12M13.94 19.5h1.12M-11.06 20.5h3.12M8.94 20.5h1.12M8.94 21.5h4.12M-10.06 22.5h1.12M-7.06 22.5h1.12M10.94 22.5h1.12M12.94 22.5h1.12M-10.06 23.5h4.12M10.94 23.5h1.12M-10.06 24.5h5.12M-9.06 25.5h2.12M-0.06 25.5h1.12M-0.06 26.5h1.12"/>
<path stroke="#f9e900" d="M-10.06 18.5h1.12"/>
<path stroke="#fbdc00" d="M11.94 22.5h1.12M11.94 23.5h1.12"/>
<path stroke="#a2a2a2" d="M-12.06 24.5h1.12M-11.06 26.5h2.12M-6.06 27.5h1.12M-5.06 28.5h1.12M-3.06 28.5h1.12"/>
<path stroke="#0d7a3c" d="M7.94 25.5h2.12M9.94 26.5h1.12"/>
<path stroke="#0d7242" d="M7.94 26.5h2.12"/>
<path stroke="#1e1e1e" d="M18.94 26.5h1.12M17.94 27.5h2.12M19.94 28.5h1.12M17.94 29.5h1.12"/>
<path stroke="#a8a8a8" d="M-9.06 27.5h1.12M-7.06 27.5h1.12"/>
<path stroke="#aeaeae" d="M-8.06 27.5h1.12"/>
<path stroke="#242424" d="M19.94 27.5h1.12M19.94 29.5h1.12M18.94 30.5h1.12"/>
<path stroke="#181818" d="M17.94 28.5h2.12M18.94 29.5h1.12"/>
</g></g></g>
<polygon fill="#ff1010" points="1052.7,184.0 1073.2,161.3 1078.0,165.6 1081.0,148.1 1063.9,152.8 1068.6,157.1 1048.1,179.8"/>
<polygon fill="#ff1010" points="1163.2,204.2 1142.1,228.1 1137.3,223.9 1134.5,241.4 1151.5,236.4 1146.7,232.2 1167.8,208.2"/>
<text x="1116.51" y="30.50" font-size="36.7" font-weight="bold" fill="#000">rVERDICT parametric maps</text>
<text x="433.31" y="30.50" font-size="36.7" font-weight="bold" fill="#000">Deep Neural Network</text>
<text x="456.15" y="74.00" font-size="36.7" font-weight="normal" fill="#000">Supervised learning</text>
<text x="428.11" y="117.70" font-size="36.7" font-weight="normal" fill="#000">using simulated signals</text>
<text x="371.35" y="161.40" font-size="36.7" font-weight="normal" fill="#000">according to rVERDICT model</text>
<text x="371.35" y="205.10" font-size="36.7" font-weight="normal" fill="#000">and VERDICT MRI acquisition</text>
<text x="20.70" y="268.60" font-size="36.8" font-weight="bold" fill="#000">VERDICT MRI</text>
<text x="212.76" y="646.70" font-size="27.8" font-weight="bold" fill="#e6000c">Input</text>
<text x="214.50" y="679.60" font-size="27.6" font-weight="normal" fill="#e6000c">Voxel-wise signal</text>
<text x="214.01" y="712.00" font-size="27.6" font-weight="normal" fill="#e6000c">(10 measurements)</text>
<text x="148.04" y="893.80" font-size="27.6" font-weight="normal" fill="#000">Measurement #</text>
<text x="360.13" y="878.40" font-size="26.7" font-weight="normal" fill="#000">10</text>
<text x="94.17" y="878.00" font-size="26" font-weight="normal" fill="#000">1</text>
<text x="470.21" y="716.50" font-size="24.2" font-weight="normal" fill="#848484">Layer 1</text>
<text x="482.43" y="745.30" font-size="25" font-weight="normal" fill="#848484">(150)</text>
<text x="586.91" y="716.50" font-size="24.2" font-weight="normal" fill="#848484">Layer 2</text>
<text x="599.43" y="745.30" font-size="25" font-weight="normal" fill="#848484">(150)</text>
<text x="703.11" y="716.50" font-size="24.2" font-weight="normal" fill="#848484">Layer 3</text>
<text x="715.33" y="745.30" font-size="25" font-weight="normal" fill="#848484">(150)</text>
<text x="866.76" y="647.00" font-size="27.4" font-weight="bold" fill="#000">Output</text>
<text x="803.52" y="680.80" font-size="27.6" font-weight="normal" fill="#000">8 rVERDICT</text>
<text x="882.95" y="712.50" font-size="27.6" font-weight="normal" fill="#000">model</text>
<text x="817.57" y="744.80" font-size="27.6" font-weight="normal" fill="#000">parameters</text>
<text transform="translate(1715.00,120.76) rotate(90)" font-size="34.2" font-weight="bold" fill="#000">MR signal</text>
<text transform="translate(1673.60,127.88) rotate(90)" font-size="33.6" font-weight="bold" fill="#000">fractions</text>
<text transform="translate(1714.00,385.61) rotate(90)" font-size="33.5" font-weight="bold" fill="#000">Diffusion</text>
<text transform="translate(1673.60,379.51) rotate(90)" font-size="33.5" font-weight="bold" fill="#000">properties</text>
<text transform="translate(1711.00,649.32) rotate(90)" font-size="33.3" font-weight="bold" fill="#000">Relaxation</text>
<text transform="translate(1670.60,655.40) rotate(90)" font-size="33.6" font-weight="bold" fill="#000">properties</text>
<text transform="translate(24.60,834.43) rotate(-90)" font-size="27.3" font-weight="normal" fill="#000">Intensity</text>
<text transform="translate(57.00,811.27) rotate(-90)" font-size="27.1" font-weight="normal" fill="#000">(a.u.)</text>
<text transform="translate(78.60,856.23) rotate(-90)" font-size="26.7" font-weight="normal" fill="#000">0</text>
<text transform="translate(78.20,728.87) rotate(-90)" font-size="26.7" font-weight="normal" fill="#000">10</text>
<text transform="translate(70.00,699.08) rotate(-90)" font-size="18" font-weight="normal" fill="#000">4</text>
<text x="1011.06" y="364.10" font-size="30" font-weight="bold" fill="#000">Cellularity</text>
<text x="1291.03" y="361.10" font-size="30" font-weight="bold" fill="#000">R</text>
<text x="1498.92" y="361.10" font-size="30" font-weight="bold" fill="#000">D</text>
<text x="1520.87" y="367.20" font-size="20.3" font-weight="bold" fill="#000">ees</text>
<text x="1064.90" y="635.70" font-size="30" font-weight="bold" fill="#000">T1</text>
<text x="1244.20" y="638.00" font-size="30" font-weight="bold" fill="#000">T2</text>
<text x="1279.50" y="644.40" font-size="19" font-weight="bold" fill="#000">vasc/ees</text>
<text x="1500.80" y="636.10" font-size="30" font-weight="bold" fill="#000">T2</text>
<text x="1535.23" y="642.20" font-size="20.3" font-weight="bold" fill="#000">ic</text>
<text x="1066.53" y="92.30" font-size="30" font-weight="bold" fill="#000">f</text>
<text x="1077.39" y="84.60" font-size="19.5" font-weight="bold" fill="#000">0</text>
<text x="1087.93" y="98.00" font-size="20.3" font-weight="bold" fill="#000">ic</text>
<text x="1273.33" y="92.30" font-size="30" font-weight="bold" fill="#000">f</text>
<text x="1284.19" y="84.60" font-size="19.5" font-weight="bold" fill="#000">0</text>
<text x="1295.37" y="98.00" font-size="20.3" font-weight="bold" fill="#000">ees</text>
<text x="1490.43" y="92.30" font-size="30" font-weight="bold" fill="#000">f</text>
<text x="1501.29" y="84.60" font-size="19.5" font-weight="bold" fill="#000">0</text>
<text x="1513.00" y="98.00" font-size="20.3" font-weight="bold" fill="#000">vasc</text>
<text x="1149.87" y="82.00" font-size="24.1" font-weight="normal" fill="#000">0.8</text>
<text x="1368.97" y="82.00" font-size="24.1" font-weight="normal" fill="#000">0.8</text>
<text x="1608.57" y="81.40" font-size="24.1" font-weight="normal" fill="#000">1</text>
<text x="1166.10" y="313.80" font-size="24.1" font-weight="normal" fill="#000">0</text>
<text x="1384.90" y="313.80" font-size="24.1" font-weight="normal" fill="#000">0</text>
<text x="1606.00" y="313.00" font-size="24.1" font-weight="normal" fill="#000">0</text>
<text x="1162.27" y="354.00" font-size="24.1" font-weight="normal" fill="#000">1</text>
<text x="1374.97" y="354.00" font-size="24.1" font-weight="normal" fill="#000">12</text>
<text x="1609.17" y="356.00" font-size="24.1" font-weight="normal" fill="#000">3</text>
<text x="1167.90" y="588.30" font-size="24.1" font-weight="normal" fill="#000">0</text>
<text x="1385.10" y="588.50" font-size="24.1" font-weight="normal" fill="#000">4</text>
<text x="1609.80" y="589.60" font-size="24.1" font-weight="normal" fill="#000">0</text>
<text x="1149.97" y="626.60" font-size="24.1" font-weight="normal" fill="#000">3.5</text>
<text x="1361.19" y="626.60" font-size="24.1" font-weight="normal" fill="#000">500</text>
<text x="1596.69" y="626.60" font-size="24.1" font-weight="normal" fill="#000">90</text>
<text x="1165.30" y="861.00" font-size="24.1" font-weight="normal" fill="#000">0</text>
<text x="1362.29" y="861.00" font-size="24.1" font-weight="normal" fill="#000">100</text>
<text x="1596.39" y="861.00" font-size="24.1" font-weight="normal" fill="#000">20</text>
<text x="1061.04" y="858.40" font-size="24.9" font-weight="normal" fill="#000">[sec]</text>
<text x="1279.84" y="856.50" font-size="24.9" font-weight="normal" fill="#000">[ms]</text>
<text x="1499.87" y="856.50" font-size="24.5" font-weight="normal" fill="#000">[ms]</text>
<text x="1280.02" y="581.60" font-size="25.3" font-weight="normal" fill="#000">[µm]</text>
<text x="1025.3" y="582.3" font-size="25.2">[x10<tspan dy="-8.5" font-size="15.5">-3</tspan><tspan dy="8.5"> µm</tspan><tspan dy="-8.5" font-size="15.5">-3</tspan><tspan dy="8.5">]</tspan></text>
<text x="1477.6" y="582.8" font-size="24.1">[µm<tspan dy="-8" font-size="15">2</tspan><tspan dy="8">/ms]</tspan></text>
</svg></body></html>
